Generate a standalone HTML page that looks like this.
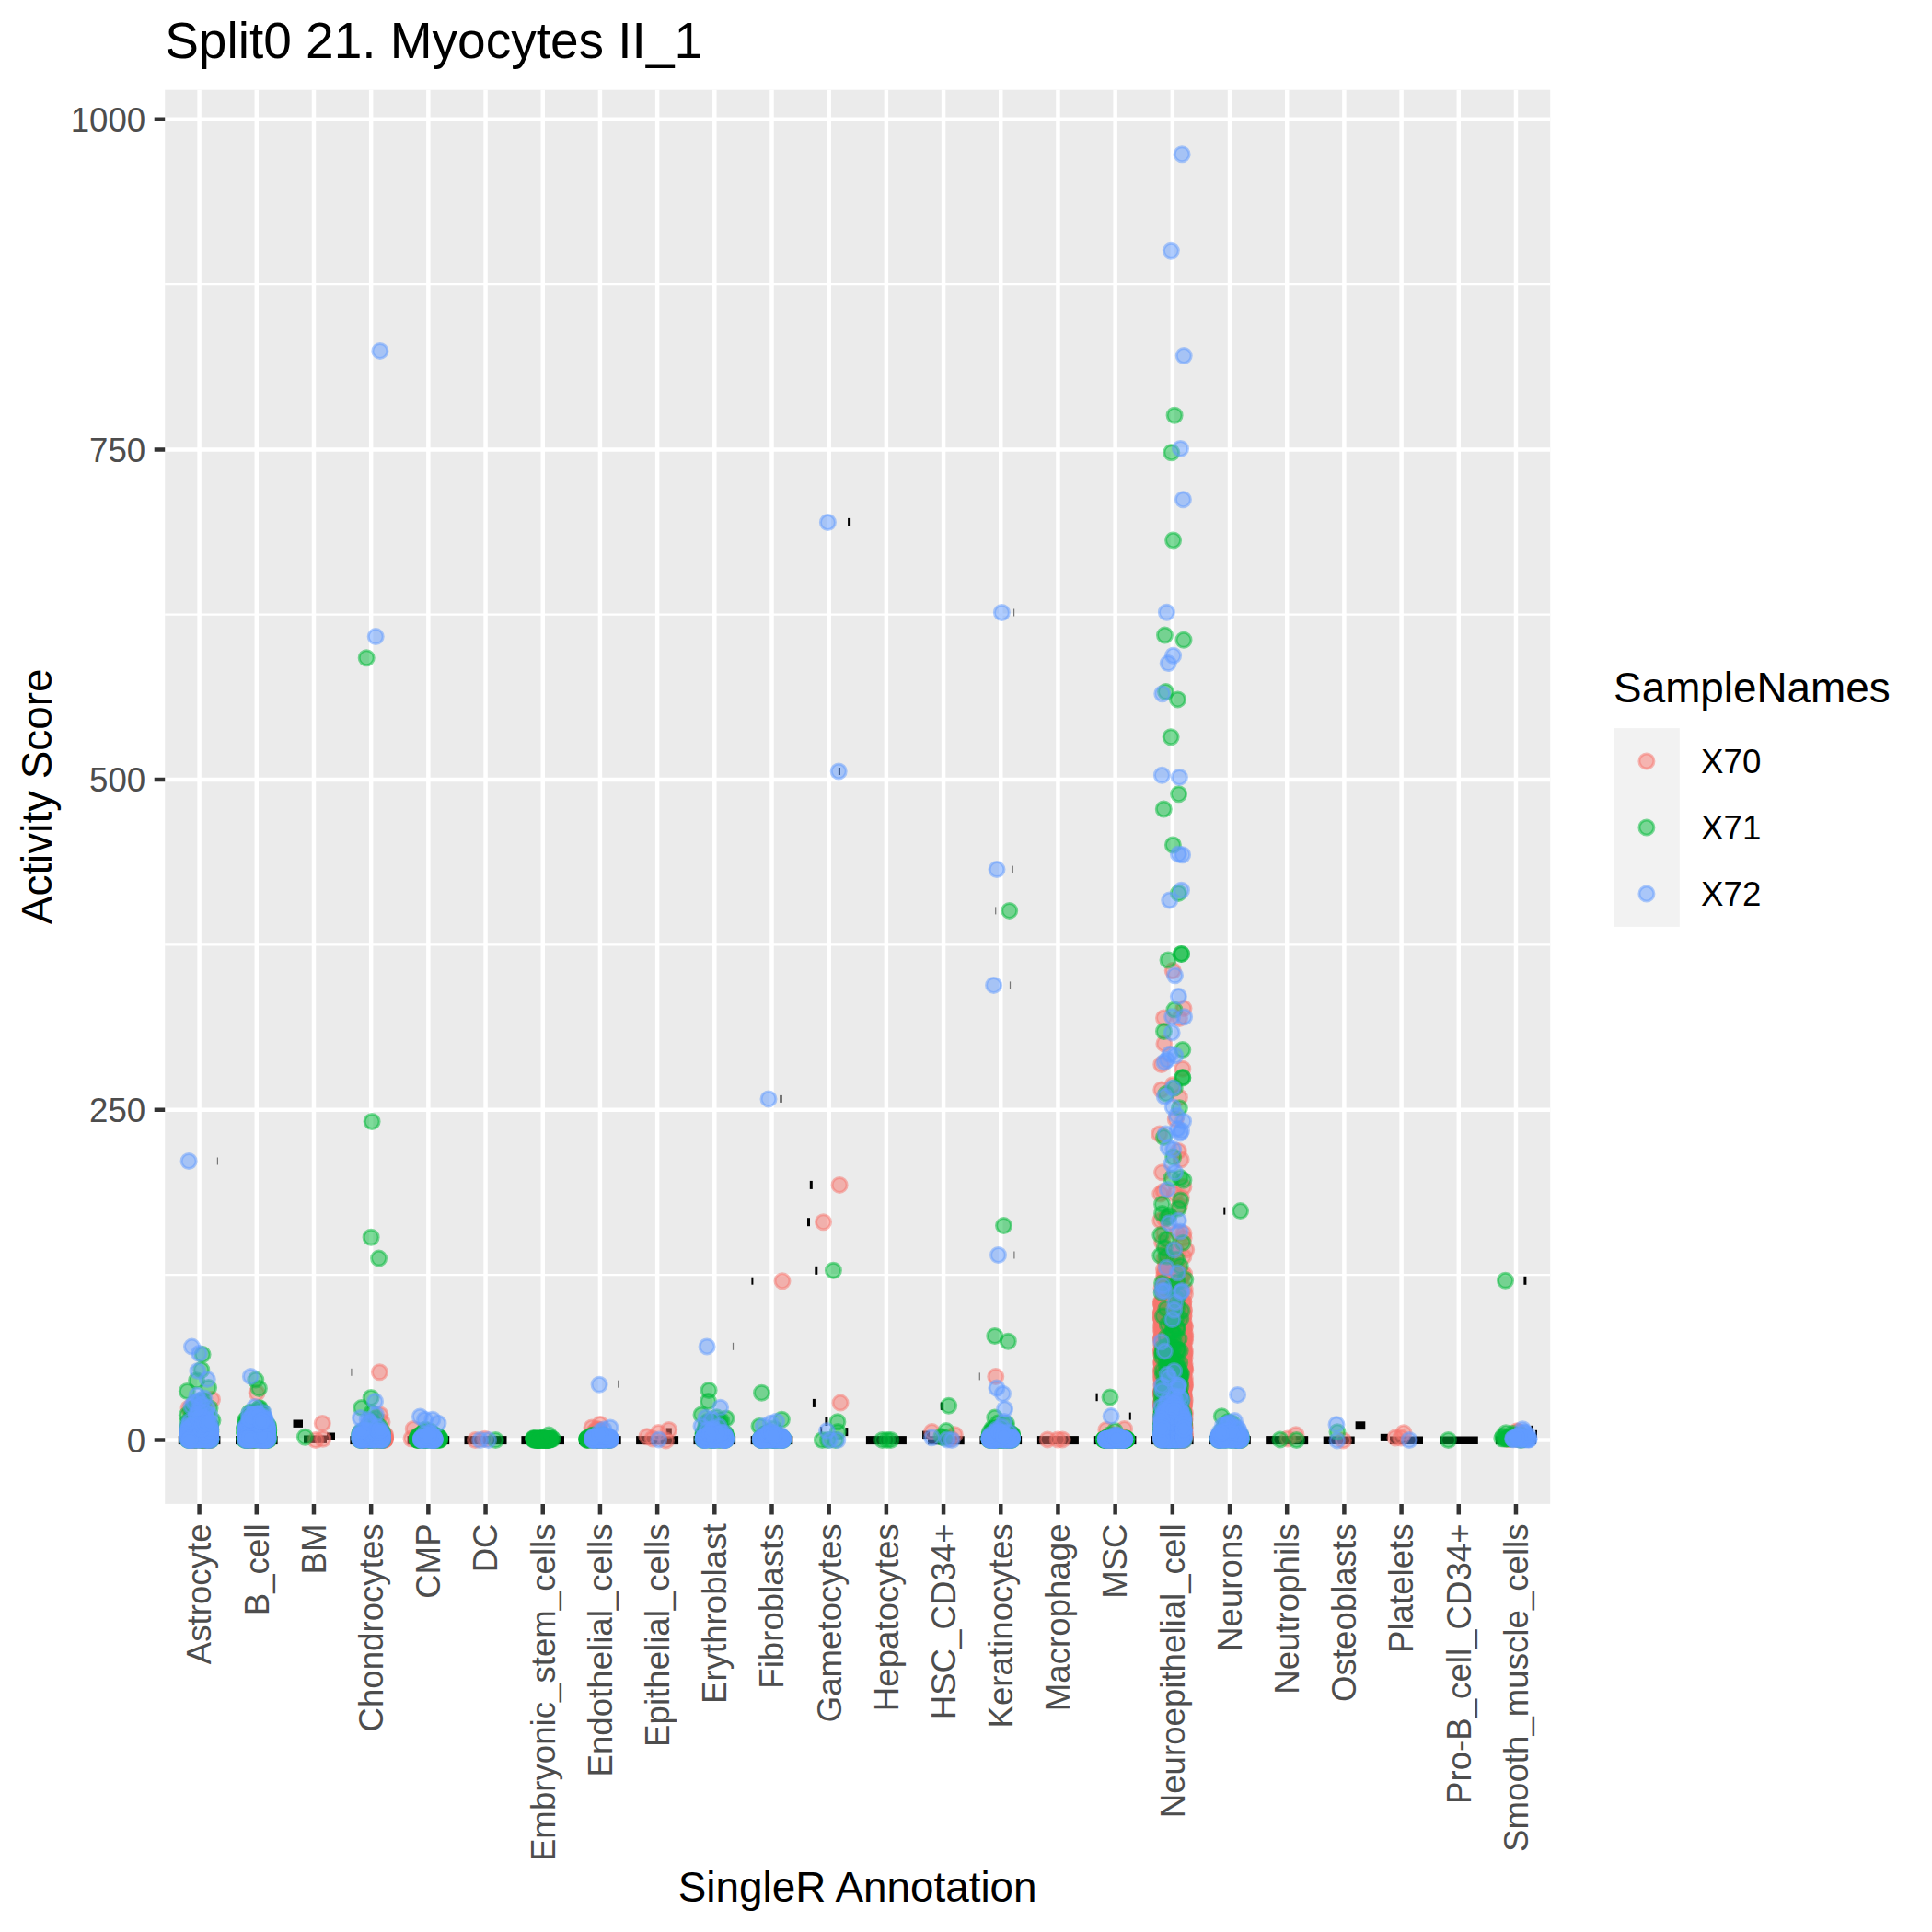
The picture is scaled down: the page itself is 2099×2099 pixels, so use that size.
<!DOCTYPE html>
<html><head><meta charset="utf-8"><title>plot</title><style>html,body{margin:0;padding:0;background:#fff}svg{display:block}text{font-family:"Liberation Sans",sans-serif}</style></head><body>
<svg width="2099" height="2099" viewBox="0 0 2099 2099">
<rect width="2099" height="2099" fill="#fff"/>
<rect x="179.2" y="97.7" width="1505.0" height="1536.2" fill="#EBEBEB"/>
<path d="M179.2 1385.07H1684.2M179.2 1026.40H1684.2M179.2 667.73H1684.2M179.2 309.06H1684.2" stroke="#fff" stroke-width="2.25" fill="none"/>
<path d="M179.2 1564.40H1684.2M179.2 1205.73H1684.2M179.2 847.07H1684.2M179.2 488.40H1684.2M179.2 129.73H1684.2M216.60 97.7V1633.9M278.79 97.7V1633.9M340.98 97.7V1633.9M403.17 97.7V1633.9M465.36 97.7V1633.9M527.55 97.7V1633.9M589.74 97.7V1633.9M651.93 97.7V1633.9M714.12 97.7V1633.9M776.31 97.7V1633.9M838.50 97.7V1633.9M900.69 97.7V1633.9M962.88 97.7V1633.9M1025.07 97.7V1633.9M1087.26 97.7V1633.9M1149.45 97.7V1633.9M1211.64 97.7V1633.9M1273.83 97.7V1633.9M1336.02 97.7V1633.9M1398.21 97.7V1633.9M1460.40 97.7V1633.9M1522.59 97.7V1633.9M1584.78 97.7V1633.9M1646.97 97.7V1633.9" stroke="#fff" stroke-width="4.5" fill="none"/>
<path d="M167.7 1564.40H179.2M167.7 1205.73H179.2M167.7 847.07H179.2M167.7 488.40H179.2M167.7 129.73H179.2M216.60 1633.9v11.5M278.79 1633.9v11.5M340.98 1633.9v11.5M403.17 1633.9v11.5M465.36 1633.9v11.5M527.55 1633.9v11.5M589.74 1633.9v11.5M651.93 1633.9v11.5M714.12 1633.9v11.5M776.31 1633.9v11.5M838.50 1633.9v11.5M900.69 1633.9v11.5M962.88 1633.9v11.5M1025.07 1633.9v11.5M1087.26 1633.9v11.5M1149.45 1633.9v11.5M1211.64 1633.9v11.5M1273.83 1633.9v11.5M1336.02 1633.9v11.5M1398.21 1633.9v11.5M1460.40 1633.9v11.5M1522.59 1633.9v11.5M1584.78 1633.9v11.5M1646.97 1633.9v11.5" stroke="#333" stroke-width="4.5" fill="none"/>
<g fill="#000">
<rect x="318.5" y="1542.5" width="10.5" height="8.4"/>
<rect x="330.0" y="1559.5" width="25.0" height="8.4"/>
<rect x="355.0" y="1556.5" width="9.0" height="8.4"/>
<rect x="504.5" y="1560.1" width="46.0" height="9.0"/>
<rect x="566.4" y="1560.1" width="46.6" height="9.0"/>
<rect x="691.1" y="1560.1" width="46.0" height="9.0"/>
<rect x="723.6" y="1551.5" width="6.2" height="7.2"/>
<rect x="940.9" y="1560.1" width="44.0" height="9.0"/>
<rect x="1002.1" y="1554.6" width="8.0" height="8.5"/>
<rect x="1008.0" y="1560.2" width="39.7" height="9.0"/>
<rect x="1021.8" y="1523.5" width="3.4" height="8.4"/>
<rect x="1126.9" y="1560.1" width="45.0" height="9.0"/>
<rect x="1375.2" y="1560.1" width="46.0" height="9.0"/>
<rect x="1437.7" y="1560.5" width="34.0" height="8.5"/>
<rect x="1472.6" y="1544.3" width="10.7" height="8.9"/>
<rect x="1499.8" y="1557.8" width="8.1" height="8.1"/>
<rect x="1510.0" y="1560.5" width="36.0" height="8.5"/>
<rect x="1564.0" y="1560.5" width="41.8" height="8.5"/>
<rect x="1625.0" y="1560.4" width="44.0" height="8.5"/>
<rect x="193.8" y="1560.1" width="45.6" height="9.0"/>
<rect x="256.0" y="1560.1" width="45.6" height="9.0"/>
<rect x="380.4" y="1560.1" width="45.6" height="9.0"/>
<rect x="442.6" y="1560.1" width="45.6" height="9.0"/>
<rect x="629.1" y="1560.1" width="45.6" height="9.0"/>
<rect x="753.5" y="1560.1" width="45.6" height="9.0"/>
<rect x="815.7" y="1560.1" width="45.6" height="9.0"/>
<rect x="1064.5" y="1560.1" width="45.6" height="9.0"/>
<rect x="1188.8" y="1560.1" width="45.6" height="9.0"/>
<rect x="1251.0" y="1560.1" width="45.6" height="9.0"/>
<rect x="1313.2" y="1560.1" width="45.6" height="9.0"/>
<rect x="921.1" y="562.9" width="3.0" height="9.0"/>
<rect x="879.8" y="1282.9" width="3.0" height="9.0"/>
<rect x="877.0" y="1323.2" width="3.0" height="9.0"/>
<rect x="885.3" y="1375.8" width="3.0" height="9.0"/>
<rect x="882.9" y="1519.9" width="3.0" height="9.0"/>
<rect x="896.4" y="1539.9" width="3.0" height="9.0"/>
<rect x="918.3" y="1551.1" width="3.0" height="9.0"/>
<rect x="1655.4" y="1386.8" width="3.0" height="9.0"/>
<rect x="1190.5" y="1513.7" width="2.2" height="8.5"/>
<rect x="847.5" y="1189.9" width="2.0" height="8.0"/>
<rect x="816.4" y="1387.7" width="2.0" height="8.0"/>
<rect x="910.9" y="834.0" width="2.0" height="8.0"/>
<rect x="1226.8" y="1534.6" width="2.0" height="8.0"/>
<rect x="1329.3" y="1311.6" width="2.0" height="8.0"/>
<rect x="1663.4" y="1548.8" width="2.0" height="8.0"/>
<rect x="1668.0" y="1553.8" width="2.0" height="8.0"/>
<rect x="891.2" y="1550.2" width="2.0" height="8.0"/>
</g>
<g fill="#777">
<rect x="1101.0" y="661.5" width="1.2" height="8"/>
<rect x="1099.7" y="940.6" width="1.2" height="8"/>
<rect x="1081.1" y="985.4" width="1.2" height="8"/>
<rect x="1096.9" y="1066.4" width="1.2" height="8"/>
<rect x="235.8" y="1257.5" width="1.2" height="8"/>
<rect x="671.1" y="1499.7" width="1.2" height="8"/>
<rect x="795.9" y="1458.8" width="1.2" height="8"/>
<rect x="381.3" y="1486.8" width="1.2" height="8"/>
<rect x="1101.3" y="1359.5" width="1.2" height="8"/>
<rect x="1063.7" y="1491.4" width="1.2" height="8"/>
</g>
<clipPath id="cp"><rect x="179.2" y="97.7" width="1505.0" height="1536.2"/></clipPath>
<g clip-path="url(#cp)" stroke-width="3" fill-opacity="0.5" stroke-opacity="0.5">
<g fill="#F8766D" stroke="#F8766D">
<circle cx="1274.2" cy="1054.6" r="8"/><circle cx="1286.0" cy="1095.6" r="8"/><circle cx="1264.5" cy="1106.0" r="8"/><circle cx="1281.4" cy="1106.4" r="8"/><circle cx="1264.9" cy="1133.9" r="8"/><circle cx="1261.8" cy="1156.5" r="8"/><circle cx="1284.8" cy="1161.2" r="8"/><circle cx="1274.2" cy="1178.8" r="8"/><circle cx="1261.8" cy="1184.0" r="8"/><circle cx="1281.4" cy="1192.3" r="8"/><circle cx="1277.3" cy="1216.1" r="8"/><circle cx="1259.8" cy="1231.9" r="8"/><circle cx="1280.3" cy="1250.5" r="8"/><circle cx="1283.1" cy="1259.8" r="8"/><circle cx="1262.6" cy="1273.8" r="8"/><circle cx="1285.9" cy="1289.6" r="8"/><circle cx="1260.8" cy="1297.1" r="8"/><circle cx="1281.3" cy="1310.1" r="8"/><circle cx="1260.8" cy="1326.0" r="8"/><circle cx="1285.9" cy="1340.0" r="8"/><circle cx="1288.7" cy="1357.7" r="8"/><circle cx="1285.9" cy="1365.1" r="8"/><circle cx="1264.5" cy="1379.1" r="8"/><circle cx="1265.4" cy="1541.9" r="8"/><circle cx="1263.3" cy="1504.0" r="8"/><circle cx="1271.1" cy="1520.3" r="8"/><circle cx="1274.8" cy="1561.0" r="8"/><circle cx="1272.9" cy="1562.2" r="8"/><circle cx="1263.8" cy="1560.2" r="8"/><circle cx="1283.3" cy="1532.7" r="8"/><circle cx="1267.3" cy="1556.8" r="8"/><circle cx="1286.4" cy="1507.7" r="8"/><circle cx="1271.9" cy="1515.0" r="8"/><circle cx="1262.7" cy="1349.8" r="8"/><circle cx="1269.1" cy="1452.2" r="8"/><circle cx="1264.5" cy="1555.5" r="8"/><circle cx="1283.0" cy="1543.2" r="8"/><circle cx="1276.8" cy="1553.0" r="8"/><circle cx="1271.3" cy="1505.9" r="8"/><circle cx="1263.1" cy="1518.9" r="8"/><circle cx="1266.9" cy="1560.9" r="8"/><circle cx="1272.7" cy="1498.9" r="8"/><circle cx="1276.9" cy="1542.8" r="8"/><circle cx="1269.3" cy="1529.8" r="8"/><circle cx="1279.9" cy="1473.6" r="8"/><circle cx="1276.6" cy="1548.3" r="8"/><circle cx="1284.5" cy="1521.7" r="8"/><circle cx="1269.0" cy="1489.4" r="8"/><circle cx="1264.5" cy="1339.4" r="8"/><circle cx="1281.4" cy="1533.3" r="8"/><circle cx="1274.3" cy="1554.9" r="8"/><circle cx="1279.1" cy="1562.1" r="8"/><circle cx="1276.6" cy="1481.4" r="8"/><circle cx="1269.7" cy="1444.8" r="8"/><circle cx="1277.1" cy="1496.2" r="8"/><circle cx="1273.5" cy="1514.6" r="8"/><circle cx="1286.4" cy="1459.2" r="8"/><circle cx="1279.0" cy="1527.5" r="8"/><circle cx="1279.9" cy="1560.8" r="8"/><circle cx="1287.6" cy="1504.6" r="8"/><circle cx="1268.9" cy="1465.4" r="8"/><circle cx="1279.1" cy="1536.4" r="8"/><circle cx="1273.6" cy="1563.1" r="8"/><circle cx="1264.5" cy="1553.8" r="8"/><circle cx="1281.7" cy="1560.9" r="8"/><circle cx="1268.0" cy="1556.5" r="8"/><circle cx="1284.4" cy="1535.9" r="8"/><circle cx="1273.3" cy="1559.6" r="8"/><circle cx="1284.8" cy="1518.6" r="8"/><circle cx="1284.2" cy="1466.2" r="8"/><circle cx="1272.4" cy="1545.7" r="8"/><circle cx="1284.8" cy="1538.9" r="8"/><circle cx="1265.4" cy="1382.8" r="8"/><circle cx="1267.6" cy="1553.3" r="8"/><circle cx="1274.2" cy="1549.2" r="8"/><circle cx="1268.4" cy="1513.4" r="8"/><circle cx="1272.5" cy="1564.2" r="8"/><circle cx="1276.4" cy="1538.0" r="8"/><circle cx="1279.7" cy="1388.8" r="8"/><circle cx="1277.7" cy="1522.8" r="8"/><circle cx="1262.9" cy="1499.7" r="8"/><circle cx="1282.0" cy="1432.5" r="8"/><circle cx="1282.5" cy="1445.3" r="8"/><circle cx="1272.0" cy="1535.8" r="8"/><circle cx="1278.2" cy="1558.1" r="8"/><circle cx="1263.2" cy="1560.7" r="8"/><circle cx="1265.7" cy="1551.0" r="8"/><circle cx="1262.8" cy="1540.6" r="8"/><circle cx="1265.4" cy="1564.4" r="8"/><circle cx="1271.0" cy="1558.3" r="8"/><circle cx="1284.5" cy="1562.9" r="8"/><circle cx="1265.4" cy="1509.8" r="8"/><circle cx="1270.6" cy="1547.7" r="8"/><circle cx="1264.7" cy="1538.4" r="8"/><circle cx="1287.6" cy="1455.9" r="8"/><circle cx="1274.2" cy="1528.4" r="8"/><circle cx="1264.1" cy="1559.2" r="8"/><circle cx="1268.4" cy="1540.3" r="8"/><circle cx="1265.7" cy="1463.1" r="8"/><circle cx="1286.5" cy="1563.1" r="8"/><circle cx="1265.3" cy="1521.3" r="8"/><circle cx="1262.1" cy="1519.4" r="8"/><circle cx="1287.3" cy="1521.3" r="8"/><circle cx="1279.8" cy="1450.2" r="8"/><circle cx="1271.1" cy="1547.0" r="8"/><circle cx="1281.8" cy="1553.9" r="8"/><circle cx="1282.0" cy="1520.8" r="8"/><circle cx="1267.3" cy="1541.4" r="8"/><circle cx="1287.4" cy="1468.6" r="8"/><circle cx="1282.7" cy="1454.5" r="8"/><circle cx="1281.0" cy="1466.5" r="8"/><circle cx="1275.1" cy="1549.6" r="8"/><circle cx="1262.2" cy="1539.2" r="8"/><circle cx="1268.8" cy="1562.8" r="8"/><circle cx="1279.7" cy="1547.2" r="8"/><circle cx="1273.2" cy="1384.5" r="8"/><circle cx="1287.5" cy="1405.7" r="8"/><circle cx="1271.1" cy="1386.4" r="8"/><circle cx="1267.4" cy="1550.1" r="8"/><circle cx="1266.8" cy="1551.8" r="8"/><circle cx="1285.2" cy="1508.3" r="8"/><circle cx="1274.1" cy="1459.1" r="8"/><circle cx="1282.5" cy="1503.7" r="8"/><circle cx="1278.9" cy="1559.3" r="8"/><circle cx="1282.1" cy="1426.4" r="8"/><circle cx="1274.1" cy="1484.8" r="8"/><circle cx="1282.3" cy="1553.1" r="8"/><circle cx="1282.6" cy="1541.2" r="8"/><circle cx="1271.9" cy="1359.9" r="8"/><circle cx="1286.4" cy="1535.0" r="8"/><circle cx="1265.9" cy="1490.4" r="8"/><circle cx="1265.4" cy="1556.6" r="8"/><circle cx="1282.7" cy="1429.4" r="8"/><circle cx="1283.2" cy="1555.3" r="8"/><circle cx="1278.8" cy="1339.0" r="8"/><circle cx="1275.9" cy="1539.6" r="8"/><circle cx="1261.8" cy="1556.3" r="8"/><circle cx="1278.6" cy="1361.4" r="8"/><circle cx="1286.1" cy="1521.5" r="8"/><circle cx="1284.4" cy="1531.8" r="8"/><circle cx="1267.0" cy="1464.0" r="8"/><circle cx="1269.2" cy="1547.8" r="8"/><circle cx="1276.9" cy="1548.6" r="8"/><circle cx="1272.5" cy="1547.2" r="8"/><circle cx="1285.5" cy="1556.3" r="8"/><circle cx="1273.5" cy="1539.3" r="8"/><circle cx="1285.3" cy="1514.2" r="8"/><circle cx="1285.7" cy="1533.1" r="8"/><circle cx="1275.5" cy="1524.4" r="8"/><circle cx="1261.9" cy="1521.9" r="8"/><circle cx="1266.3" cy="1531.1" r="8"/><circle cx="1282.5" cy="1564.2" r="8"/><circle cx="1273.9" cy="1553.5" r="8"/><circle cx="1276.1" cy="1490.3" r="8"/><circle cx="1275.1" cy="1541.8" r="8"/><circle cx="1282.1" cy="1517.9" r="8"/><circle cx="1276.2" cy="1558.0" r="8"/><circle cx="1268.7" cy="1548.0" r="8"/><circle cx="1274.8" cy="1479.5" r="8"/><circle cx="1281.5" cy="1517.1" r="8"/><circle cx="1273.1" cy="1424.6" r="8"/><circle cx="1274.8" cy="1510.0" r="8"/><circle cx="1279.7" cy="1523.2" r="8"/><circle cx="1275.5" cy="1529.8" r="8"/><circle cx="1286.3" cy="1527.1" r="8"/><circle cx="1284.6" cy="1495.5" r="8"/><circle cx="1268.3" cy="1400.8" r="8"/><circle cx="1286.3" cy="1517.3" r="8"/><circle cx="1265.1" cy="1459.2" r="8"/><circle cx="1273.1" cy="1557.0" r="8"/><circle cx="1267.8" cy="1560.1" r="8"/><circle cx="1279.1" cy="1560.0" r="8"/><circle cx="1285.1" cy="1476.5" r="8"/><circle cx="1280.3" cy="1554.8" r="8"/><circle cx="1265.2" cy="1502.4" r="8"/><circle cx="1287.0" cy="1441.4" r="8"/><circle cx="1286.6" cy="1550.2" r="8"/><circle cx="1274.3" cy="1535.3" r="8"/><circle cx="1283.4" cy="1300.9" r="8"/><circle cx="1272.8" cy="1554.3" r="8"/><circle cx="1270.4" cy="1522.8" r="8"/><circle cx="1269.8" cy="1551.9" r="8"/><circle cx="1261.9" cy="1490.9" r="8"/><circle cx="1273.1" cy="1518.1" r="8"/><circle cx="1270.2" cy="1563.4" r="8"/><circle cx="1275.0" cy="1508.3" r="8"/><circle cx="1287.4" cy="1560.6" r="8"/><circle cx="1287.1" cy="1475.3" r="8"/><circle cx="1268.4" cy="1558.0" r="8"/><circle cx="1282.0" cy="1562.1" r="8"/><circle cx="1264.9" cy="1546.3" r="8"/><circle cx="1285.5" cy="1532.9" r="8"/><circle cx="1268.3" cy="1466.3" r="8"/><circle cx="1285.7" cy="1555.1" r="8"/><circle cx="1279.9" cy="1515.9" r="8"/><circle cx="1262.9" cy="1559.0" r="8"/><circle cx="1272.7" cy="1497.5" r="8"/><circle cx="1286.2" cy="1560.1" r="8"/><circle cx="1282.6" cy="1506.7" r="8"/><circle cx="1284.0" cy="1559.4" r="8"/><circle cx="1284.2" cy="1560.4" r="8"/><circle cx="1270.4" cy="1529.7" r="8"/><circle cx="1285.9" cy="1518.2" r="8"/><circle cx="1264.8" cy="1546.5" r="8"/><circle cx="1267.7" cy="1521.4" r="8"/><circle cx="1265.7" cy="1557.7" r="8"/><circle cx="1266.8" cy="1561.4" r="8"/><circle cx="1269.5" cy="1542.9" r="8"/><circle cx="1269.1" cy="1482.6" r="8"/><circle cx="1266.1" cy="1524.6" r="8"/><circle cx="1261.9" cy="1539.9" r="8"/><circle cx="1261.8" cy="1547.9" r="8"/><circle cx="1276.0" cy="1488.6" r="8"/><circle cx="1274.0" cy="1552.3" r="8"/><circle cx="1264.2" cy="1407.9" r="8"/><circle cx="1272.8" cy="1466.3" r="8"/><circle cx="1283.5" cy="1525.2" r="8"/><circle cx="1274.8" cy="1535.7" r="8"/><circle cx="1287.4" cy="1497.6" r="8"/><circle cx="1283.4" cy="1540.3" r="8"/><circle cx="1278.2" cy="1494.0" r="8"/><circle cx="1270.6" cy="1534.6" r="8"/><circle cx="1264.9" cy="1561.2" r="8"/><circle cx="1281.0" cy="1560.2" r="8"/><circle cx="1265.7" cy="1547.5" r="8"/><circle cx="1283.6" cy="1559.3" r="8"/><circle cx="1279.1" cy="1447.1" r="8"/><circle cx="1267.8" cy="1545.4" r="8"/><circle cx="1273.6" cy="1544.5" r="8"/><circle cx="1273.2" cy="1554.6" r="8"/><circle cx="1286.8" cy="1546.9" r="8"/><circle cx="1275.9" cy="1357.9" r="8"/><circle cx="1286.9" cy="1548.3" r="8"/><circle cx="1270.8" cy="1543.1" r="8"/><circle cx="1271.5" cy="1564.3" r="8"/><circle cx="1274.7" cy="1527.5" r="8"/><circle cx="1274.8" cy="1551.5" r="8"/><circle cx="1268.4" cy="1564.1" r="8"/><circle cx="1272.0" cy="1559.0" r="8"/><circle cx="1262.0" cy="1562.0" r="8"/><circle cx="1267.6" cy="1543.6" r="8"/><circle cx="1275.4" cy="1513.8" r="8"/><circle cx="1278.8" cy="1484.7" r="8"/><circle cx="1284.6" cy="1492.2" r="8"/><circle cx="1270.0" cy="1536.1" r="8"/><circle cx="1265.4" cy="1324.4" r="8"/><circle cx="1278.4" cy="1490.5" r="8"/><circle cx="1283.5" cy="1561.8" r="8"/><circle cx="1278.0" cy="1436.7" r="8"/><circle cx="1282.9" cy="1488.4" r="8"/><circle cx="1275.3" cy="1555.8" r="8"/><circle cx="1283.5" cy="1524.1" r="8"/><circle cx="1283.2" cy="1470.7" r="8"/><circle cx="1285.0" cy="1514.1" r="8"/><circle cx="1279.7" cy="1498.5" r="8"/><circle cx="1262.3" cy="1549.4" r="8"/><circle cx="1271.0" cy="1556.2" r="8"/><circle cx="1283.5" cy="1558.0" r="8"/><circle cx="1278.0" cy="1517.5" r="8"/><circle cx="1279.4" cy="1507.9" r="8"/><circle cx="1261.5" cy="1525.8" r="8"/><circle cx="1281.2" cy="1472.7" r="8"/><circle cx="1275.6" cy="1524.3" r="8"/><circle cx="1263.2" cy="1502.6" r="8"/><circle cx="1268.1" cy="1487.8" r="8"/><circle cx="1268.4" cy="1560.0" r="8"/><circle cx="1266.8" cy="1489.4" r="8"/><circle cx="1287.2" cy="1487.1" r="8"/><circle cx="1271.5" cy="1525.3" r="8"/><circle cx="1279.5" cy="1527.0" r="8"/><circle cx="1277.7" cy="1480.8" r="8"/><circle cx="1263.5" cy="1505.3" r="8"/><circle cx="1268.1" cy="1555.2" r="8"/><circle cx="1269.5" cy="1486.4" r="8"/><circle cx="1261.8" cy="1516.3" r="8"/><circle cx="1268.5" cy="1560.8" r="8"/><circle cx="1279.7" cy="1500.4" r="8"/><circle cx="1269.1" cy="1499.8" r="8"/><circle cx="1273.7" cy="1522.7" r="8"/><circle cx="1264.6" cy="1528.4" r="8"/><circle cx="1266.7" cy="1435.8" r="8"/><circle cx="1286.1" cy="1345.0" r="8"/><circle cx="1273.5" cy="1563.4" r="8"/><circle cx="1287.0" cy="1466.0" r="8"/><circle cx="1268.5" cy="1530.1" r="8"/><circle cx="1286.4" cy="1550.9" r="8"/><circle cx="1276.8" cy="1550.8" r="8"/><circle cx="1275.3" cy="1555.6" r="8"/><circle cx="1264.9" cy="1389.2" r="8"/><circle cx="1274.9" cy="1465.9" r="8"/><circle cx="1280.0" cy="1439.3" r="8"/><circle cx="1285.1" cy="1549.3" r="8"/><circle cx="1262.1" cy="1526.2" r="8"/><circle cx="1274.4" cy="1564.2" r="8"/><circle cx="1269.4" cy="1530.0" r="8"/><circle cx="1270.5" cy="1555.7" r="8"/><circle cx="1283.6" cy="1542.6" r="8"/><circle cx="1281.2" cy="1564.3" r="8"/><circle cx="1264.6" cy="1459.6" r="8"/><circle cx="1280.3" cy="1414.7" r="8"/><circle cx="1269.1" cy="1431.4" r="8"/><circle cx="1271.8" cy="1537.7" r="8"/><circle cx="1271.0" cy="1376.7" r="8"/><circle cx="1268.7" cy="1532.3" r="8"/><circle cx="1264.1" cy="1561.6" r="8"/><circle cx="1269.0" cy="1461.1" r="8"/><circle cx="1268.0" cy="1407.0" r="8"/><circle cx="1274.9" cy="1546.7" r="8"/><circle cx="1271.3" cy="1552.3" r="8"/><circle cx="1284.8" cy="1384.9" r="8"/><circle cx="1278.1" cy="1468.5" r="8"/><circle cx="1286.3" cy="1424.0" r="8"/><circle cx="1280.4" cy="1518.7" r="8"/><circle cx="1280.8" cy="1561.5" r="8"/><circle cx="1281.3" cy="1530.0" r="8"/><circle cx="1269.0" cy="1505.1" r="8"/><circle cx="1285.9" cy="1561.5" r="8"/><circle cx="1273.9" cy="1556.6" r="8"/><circle cx="1269.3" cy="1540.2" r="8"/><circle cx="1287.2" cy="1487.3" r="8"/><circle cx="1278.7" cy="1547.1" r="8"/><circle cx="1276.1" cy="1543.9" r="8"/><circle cx="1265.8" cy="1535.6" r="8"/><circle cx="1266.9" cy="1554.3" r="8"/><circle cx="1274.6" cy="1428.7" r="8"/><circle cx="1285.4" cy="1550.1" r="8"/><circle cx="1265.1" cy="1421.1" r="8"/><circle cx="1263.8" cy="1552.1" r="8"/><circle cx="1263.8" cy="1540.4" r="8"/><circle cx="1268.3" cy="1548.7" r="8"/><circle cx="1284.9" cy="1516.0" r="8"/><circle cx="1272.3" cy="1484.9" r="8"/><circle cx="1275.3" cy="1533.7" r="8"/><circle cx="1270.4" cy="1537.3" r="8"/><circle cx="1268.8" cy="1560.7" r="8"/><circle cx="1264.8" cy="1367.4" r="8"/><circle cx="1278.1" cy="1524.2" r="8"/><circle cx="1267.1" cy="1450.4" r="8"/><circle cx="1268.0" cy="1546.3" r="8"/><circle cx="1273.2" cy="1535.1" r="8"/><circle cx="1283.8" cy="1387.8" r="8"/><circle cx="1262.0" cy="1446.0" r="8"/><circle cx="1280.2" cy="1562.5" r="8"/><circle cx="1273.9" cy="1434.7" r="8"/><circle cx="1261.4" cy="1513.6" r="8"/><circle cx="1285.9" cy="1535.9" r="8"/><circle cx="1284.0" cy="1464.2" r="8"/><circle cx="1268.0" cy="1358.7" r="8"/><circle cx="1265.5" cy="1557.8" r="8"/><circle cx="1279.4" cy="1522.0" r="8"/><circle cx="1280.5" cy="1401.5" r="8"/><circle cx="1281.6" cy="1504.6" r="8"/><circle cx="1276.0" cy="1529.3" r="8"/><circle cx="1282.1" cy="1562.1" r="8"/><circle cx="1285.7" cy="1549.2" r="8"/><circle cx="1269.4" cy="1504.9" r="8"/><circle cx="1268.1" cy="1556.5" r="8"/><circle cx="1279.9" cy="1506.4" r="8"/><circle cx="1263.3" cy="1557.6" r="8"/><circle cx="1276.8" cy="1521.7" r="8"/><circle cx="1267.3" cy="1536.2" r="8"/><circle cx="1261.7" cy="1511.7" r="8"/><circle cx="1273.6" cy="1543.8" r="8"/><circle cx="1278.4" cy="1381.2" r="8"/><circle cx="1274.0" cy="1440.9" r="8"/><circle cx="1268.0" cy="1549.0" r="8"/><circle cx="1280.0" cy="1378.8" r="8"/><circle cx="1262.0" cy="1543.3" r="8"/><circle cx="1279.2" cy="1524.8" r="8"/><circle cx="1268.2" cy="1533.1" r="8"/><circle cx="1285.9" cy="1501.2" r="8"/><circle cx="1262.3" cy="1549.6" r="8"/><circle cx="1272.5" cy="1540.7" r="8"/><circle cx="1266.7" cy="1498.5" r="8"/><circle cx="1280.9" cy="1472.9" r="8"/><circle cx="1266.8" cy="1524.1" r="8"/><circle cx="1269.7" cy="1363.4" r="8"/><circle cx="1267.5" cy="1466.0" r="8"/><circle cx="1281.5" cy="1550.0" r="8"/><circle cx="1286.6" cy="1544.3" r="8"/><circle cx="1266.4" cy="1525.1" r="8"/><circle cx="1272.4" cy="1549.9" r="8"/><circle cx="1286.5" cy="1501.6" r="8"/><circle cx="1271.8" cy="1555.3" r="8"/><circle cx="1287.1" cy="1550.7" r="8"/><circle cx="1262.8" cy="1555.6" r="8"/><circle cx="1271.8" cy="1560.8" r="8"/><circle cx="1284.8" cy="1433.3" r="8"/><circle cx="1287.8" cy="1488.7" r="8"/><circle cx="1270.1" cy="1410.5" r="8"/><circle cx="1286.1" cy="1552.6" r="8"/><circle cx="1262.3" cy="1485.7" r="8"/><circle cx="1271.4" cy="1501.7" r="8"/><circle cx="1270.2" cy="1537.5" r="8"/><circle cx="1261.5" cy="1553.8" r="8"/><circle cx="1270.7" cy="1545.6" r="8"/><circle cx="1264.7" cy="1385.8" r="8"/><circle cx="1266.9" cy="1373.2" r="8"/><circle cx="1283.1" cy="1539.1" r="8"/><circle cx="1272.8" cy="1465.3" r="8"/><circle cx="1273.9" cy="1561.5" r="8"/><circle cx="1285.7" cy="1537.6" r="8"/><circle cx="1271.0" cy="1552.1" r="8"/><circle cx="1262.2" cy="1434.0" r="8"/><circle cx="1282.9" cy="1534.0" r="8"/><circle cx="1262.5" cy="1480.9" r="8"/><circle cx="1263.1" cy="1562.4" r="8"/><circle cx="1268.2" cy="1419.4" r="8"/><circle cx="1285.2" cy="1485.5" r="8"/><circle cx="1268.6" cy="1540.6" r="8"/><circle cx="1277.7" cy="1382.9" r="8"/><circle cx="1280.3" cy="1547.0" r="8"/><circle cx="1268.7" cy="1542.6" r="8"/><circle cx="1281.4" cy="1564.2" r="8"/><circle cx="1278.2" cy="1421.9" r="8"/><circle cx="1262.1" cy="1399.8" r="8"/><circle cx="1274.0" cy="1549.1" r="8"/><circle cx="1286.6" cy="1384.1" r="8"/><circle cx="1268.1" cy="1536.4" r="8"/><circle cx="1274.5" cy="1532.1" r="8"/><circle cx="1266.3" cy="1413.3" r="8"/><circle cx="1280.9" cy="1471.3" r="8"/><circle cx="1281.8" cy="1465.1" r="8"/><circle cx="1270.1" cy="1510.8" r="8"/><circle cx="1271.0" cy="1542.3" r="8"/><circle cx="1263.5" cy="1476.9" r="8"/><circle cx="1281.3" cy="1551.8" r="8"/><circle cx="1263.1" cy="1548.1" r="8"/><circle cx="1276.0" cy="1562.4" r="8"/><circle cx="1287.3" cy="1541.8" r="8"/><circle cx="1287.5" cy="1441.0" r="8"/><circle cx="1263.6" cy="1546.7" r="8"/><circle cx="1274.6" cy="1558.6" r="8"/><circle cx="1273.2" cy="1493.4" r="8"/><circle cx="1272.4" cy="1549.1" r="8"/><circle cx="1279.2" cy="1508.8" r="8"/><circle cx="1283.8" cy="1485.3" r="8"/><circle cx="1264.6" cy="1501.7" r="8"/><circle cx="1269.2" cy="1458.9" r="8"/><circle cx="1271.3" cy="1516.4" r="8"/><circle cx="1266.7" cy="1487.5" r="8"/><circle cx="1267.9" cy="1548.1" r="8"/><circle cx="1284.8" cy="1554.8" r="8"/><circle cx="1270.0" cy="1514.9" r="8"/><circle cx="1287.6" cy="1535.5" r="8"/><circle cx="1267.5" cy="1523.8" r="8"/><circle cx="1278.7" cy="1469.6" r="8"/><circle cx="1264.1" cy="1294.4" r="8"/><circle cx="1283.1" cy="1527.4" r="8"/><circle cx="1285.6" cy="1459.0" r="8"/><circle cx="1269.2" cy="1562.0" r="8"/><circle cx="1266.4" cy="1557.1" r="8"/><circle cx="1276.8" cy="1357.2" r="8"/><circle cx="1271.3" cy="1411.7" r="8"/><circle cx="1273.3" cy="1449.0" r="8"/><circle cx="1282.0" cy="1547.1" r="8"/><circle cx="1264.2" cy="1397.2" r="8"/><circle cx="1277.8" cy="1512.4" r="8"/><circle cx="1271.2" cy="1550.3" r="8"/><circle cx="1266.8" cy="1555.7" r="8"/><circle cx="1277.3" cy="1547.5" r="8"/><circle cx="1266.8" cy="1503.9" r="8"/><circle cx="1270.1" cy="1563.7" r="8"/><circle cx="1266.3" cy="1499.3" r="8"/><circle cx="1266.8" cy="1542.9" r="8"/><circle cx="1275.9" cy="1473.4" r="8"/><circle cx="1264.1" cy="1560.6" r="8"/><circle cx="1276.0" cy="1535.5" r="8"/><circle cx="1263.8" cy="1505.9" r="8"/><circle cx="1279.8" cy="1554.1" r="8"/><circle cx="1268.9" cy="1534.1" r="8"/><circle cx="1286.6" cy="1543.3" r="8"/><circle cx="1276.4" cy="1542.9" r="8"/><circle cx="1272.4" cy="1539.0" r="8"/><circle cx="1287.7" cy="1449.8" r="8"/><circle cx="1266.6" cy="1538.4" r="8"/><circle cx="1266.8" cy="1489.7" r="8"/><circle cx="1285.2" cy="1564.1" r="8"/><circle cx="1283.1" cy="1532.8" r="8"/><circle cx="1284.7" cy="1534.5" r="8"/><circle cx="1265.7" cy="1528.9" r="8"/><circle cx="1276.0" cy="1563.5" r="8"/><circle cx="1285.4" cy="1505.7" r="8"/><circle cx="1277.9" cy="1559.0" r="8"/><circle cx="1274.7" cy="1537.8" r="8"/><circle cx="1268.9" cy="1555.4" r="8"/><circle cx="1285.9" cy="1522.1" r="8"/><circle cx="1274.4" cy="1557.8" r="8"/><circle cx="1287.0" cy="1470.6" r="8"/><circle cx="1264.8" cy="1551.8" r="8"/><circle cx="1287.2" cy="1399.9" r="8"/><circle cx="1262.8" cy="1526.6" r="8"/><circle cx="1271.7" cy="1414.9" r="8"/><circle cx="1277.8" cy="1429.8" r="8"/><circle cx="1265.7" cy="1464.5" r="8"/><circle cx="1267.3" cy="1476.0" r="8"/><circle cx="1283.8" cy="1534.7" r="8"/><circle cx="1266.3" cy="1463.0" r="8"/><circle cx="1272.0" cy="1550.3" r="8"/><circle cx="1271.6" cy="1522.5" r="8"/><circle cx="1268.0" cy="1556.9" r="8"/><circle cx="1285.1" cy="1490.3" r="8"/><circle cx="1276.3" cy="1562.0" r="8"/><circle cx="1262.4" cy="1483.1" r="8"/><circle cx="1264.5" cy="1459.9" r="8"/><circle cx="1276.0" cy="1511.9" r="8"/><circle cx="1269.5" cy="1507.8" r="8"/><circle cx="1276.8" cy="1533.1" r="8"/><circle cx="1278.8" cy="1532.6" r="8"/><circle cx="1273.0" cy="1530.4" r="8"/><circle cx="1277.8" cy="1563.0" r="8"/><circle cx="1267.6" cy="1525.8" r="8"/><circle cx="1282.0" cy="1481.6" r="8"/><circle cx="1266.2" cy="1529.2" r="8"/><circle cx="1264.3" cy="1527.6" r="8"/><circle cx="1272.8" cy="1556.5" r="8"/><circle cx="1273.1" cy="1558.9" r="8"/><circle cx="1262.5" cy="1523.4" r="8"/><circle cx="1263.6" cy="1506.3" r="8"/><circle cx="1282.0" cy="1488.5" r="8"/><circle cx="1262.9" cy="1523.3" r="8"/><circle cx="1271.4" cy="1524.2" r="8"/><circle cx="1265.0" cy="1391.5" r="8"/><circle cx="1287.7" cy="1452.8" r="8"/><circle cx="1282.9" cy="1488.8" r="8"/><circle cx="1287.3" cy="1552.0" r="8"/><circle cx="1286.7" cy="1525.5" r="8"/><circle cx="1265.8" cy="1422.2" r="8"/><circle cx="1286.0" cy="1475.3" r="8"/><circle cx="1270.7" cy="1560.5" r="8"/><circle cx="1265.6" cy="1483.4" r="8"/><circle cx="1268.7" cy="1434.2" r="8"/><circle cx="1265.2" cy="1467.4" r="8"/><circle cx="1285.7" cy="1524.4" r="8"/><circle cx="1268.4" cy="1551.0" r="8"/><circle cx="1269.9" cy="1523.9" r="8"/><circle cx="1266.2" cy="1562.2" r="8"/><circle cx="1286.2" cy="1554.3" r="8"/><circle cx="1285.1" cy="1499.1" r="8"/><circle cx="1282.2" cy="1553.8" r="8"/><circle cx="1275.4" cy="1557.4" r="8"/><circle cx="1270.9" cy="1506.4" r="8"/><circle cx="1276.1" cy="1446.0" r="8"/><circle cx="1284.7" cy="1514.6" r="8"/><circle cx="1287.6" cy="1558.1" r="8"/><circle cx="1271.8" cy="1507.4" r="8"/><circle cx="1268.4" cy="1472.7" r="8"/><circle cx="1276.7" cy="1297.2" r="8"/><circle cx="1281.6" cy="1538.8" r="8"/><circle cx="1266.1" cy="1530.9" r="8"/><circle cx="1262.7" cy="1486.3" r="8"/><circle cx="1268.1" cy="1466.0" r="8"/><circle cx="1287.4" cy="1505.9" r="8"/><circle cx="1279.0" cy="1513.8" r="8"/><circle cx="1261.5" cy="1542.9" r="8"/><circle cx="1265.4" cy="1562.4" r="8"/><circle cx="1272.8" cy="1509.5" r="8"/><circle cx="1285.1" cy="1523.1" r="8"/><circle cx="1267.4" cy="1556.3" r="8"/><circle cx="1262.0" cy="1503.6" r="8"/><circle cx="1270.8" cy="1564.2" r="8"/><circle cx="1270.9" cy="1557.9" r="8"/><circle cx="1276.8" cy="1549.8" r="8"/><circle cx="1266.8" cy="1513.4" r="8"/><circle cx="1274.0" cy="1508.3" r="8"/><circle cx="1286.2" cy="1556.1" r="8"/><circle cx="1265.4" cy="1548.4" r="8"/><circle cx="1278.3" cy="1558.6" r="8"/><circle cx="1282.1" cy="1446.7" r="8"/><circle cx="1268.4" cy="1534.9" r="8"/><circle cx="1278.5" cy="1563.7" r="8"/><circle cx="1270.7" cy="1517.0" r="8"/><circle cx="1273.1" cy="1504.9" r="8"/><circle cx="1280.8" cy="1405.6" r="8"/><circle cx="1285.3" cy="1548.0" r="8"/><circle cx="1275.5" cy="1561.8" r="8"/><circle cx="1267.7" cy="1534.5" r="8"/><circle cx="1282.0" cy="1560.9" r="8"/><circle cx="1276.0" cy="1563.7" r="8"/><circle cx="1265.2" cy="1402.1" r="8"/><circle cx="1277.5" cy="1551.6" r="8"/><circle cx="1278.4" cy="1523.8" r="8"/><circle cx="1266.0" cy="1468.1" r="8"/><circle cx="1269.4" cy="1543.2" r="8"/><circle cx="1284.9" cy="1561.5" r="8"/><circle cx="1280.3" cy="1476.7" r="8"/><circle cx="1283.7" cy="1564.0" r="8"/><circle cx="1273.7" cy="1485.9" r="8"/><circle cx="1273.4" cy="1486.7" r="8"/><circle cx="1264.2" cy="1549.7" r="8"/><circle cx="1262.5" cy="1549.2" r="8"/><circle cx="1281.2" cy="1540.9" r="8"/><circle cx="1283.7" cy="1496.2" r="8"/><circle cx="1268.5" cy="1493.0" r="8"/><circle cx="1272.9" cy="1518.1" r="8"/><circle cx="1275.2" cy="1475.3" r="8"/><circle cx="1278.4" cy="1546.7" r="8"/><circle cx="1267.2" cy="1371.8" r="8"/><circle cx="1261.8" cy="1442.7" r="8"/><circle cx="1267.7" cy="1547.1" r="8"/><circle cx="1286.4" cy="1486.2" r="8"/><circle cx="1270.1" cy="1485.7" r="8"/><circle cx="1270.1" cy="1442.6" r="8"/><circle cx="1285.4" cy="1548.7" r="8"/><circle cx="1279.7" cy="1507.2" r="8"/><circle cx="1287.3" cy="1501.6" r="8"/><circle cx="1283.6" cy="1528.0" r="8"/><circle cx="1284.1" cy="1495.8" r="8"/><circle cx="1280.6" cy="1531.4" r="8"/><circle cx="1269.6" cy="1515.9" r="8"/><circle cx="1277.9" cy="1550.7" r="8"/><circle cx="1285.5" cy="1559.8" r="8"/><circle cx="1262.1" cy="1555.4" r="8"/><circle cx="1286.0" cy="1557.9" r="8"/><circle cx="1265.2" cy="1540.1" r="8"/><circle cx="1262.5" cy="1562.7" r="8"/><circle cx="1278.2" cy="1496.7" r="8"/><circle cx="1280.9" cy="1495.9" r="8"/><circle cx="1277.0" cy="1560.5" r="8"/><circle cx="1283.0" cy="1538.5" r="8"/><circle cx="1285.0" cy="1466.1" r="8"/><circle cx="1284.3" cy="1560.5" r="8"/><circle cx="1286.4" cy="1423.3" r="8"/><circle cx="1266.9" cy="1557.9" r="8"/><circle cx="1262.3" cy="1557.6" r="8"/><circle cx="1282.9" cy="1456.4" r="8"/><circle cx="1283.2" cy="1506.7" r="8"/><circle cx="1269.0" cy="1507.1" r="8"/><circle cx="1264.0" cy="1558.4" r="8"/><circle cx="1266.8" cy="1483.1" r="8"/><circle cx="1272.6" cy="1542.3" r="8"/><circle cx="1268.2" cy="1563.2" r="8"/><circle cx="1280.3" cy="1545.3" r="8"/><circle cx="1269.9" cy="1538.1" r="8"/><circle cx="1274.7" cy="1373.6" r="8"/><circle cx="1277.8" cy="1455.0" r="8"/><circle cx="1272.3" cy="1562.6" r="8"/><circle cx="1281.8" cy="1531.5" r="8"/><circle cx="1280.0" cy="1540.0" r="8"/><circle cx="1267.1" cy="1520.1" r="8"/><circle cx="1263.8" cy="1450.6" r="8"/><circle cx="1265.9" cy="1466.1" r="8"/><circle cx="1266.8" cy="1564.3" r="8"/><circle cx="1287.2" cy="1482.0" r="8"/><circle cx="1274.4" cy="1564.1" r="8"/><circle cx="1282.5" cy="1525.6" r="8"/><circle cx="1274.5" cy="1552.7" r="8"/><circle cx="1283.4" cy="1539.9" r="8"/><circle cx="1286.3" cy="1547.1" r="8"/><circle cx="1267.1" cy="1545.3" r="8"/><circle cx="1274.6" cy="1495.4" r="8"/><circle cx="1278.2" cy="1557.7" r="8"/><circle cx="1282.2" cy="1559.6" r="8"/><circle cx="1282.2" cy="1495.8" r="8"/><circle cx="1270.8" cy="1507.7" r="8"/><circle cx="1271.8" cy="1535.0" r="8"/><circle cx="1263.7" cy="1437.5" r="8"/><circle cx="1262.1" cy="1438.5" r="8"/><circle cx="1268.4" cy="1551.2" r="8"/><circle cx="1274.7" cy="1431.6" r="8"/><circle cx="1284.8" cy="1537.0" r="8"/><circle cx="1273.6" cy="1549.1" r="8"/><circle cx="1281.3" cy="1520.9" r="8"/><circle cx="1261.4" cy="1563.7" r="8"/><circle cx="1263.1" cy="1564.1" r="8"/><circle cx="1264.7" cy="1563.5" r="8"/><circle cx="1266.4" cy="1564.2" r="8"/><circle cx="1268.0" cy="1563.7" r="8"/><circle cx="1269.7" cy="1564.3" r="8"/><circle cx="1271.3" cy="1564.4" r="8"/><circle cx="1273.0" cy="1564.3" r="8"/><circle cx="1274.7" cy="1564.3" r="8"/><circle cx="1276.3" cy="1564.0" r="8"/><circle cx="1278.0" cy="1563.9" r="8"/><circle cx="1279.6" cy="1564.2" r="8"/><circle cx="1281.3" cy="1563.6" r="8"/><circle cx="1282.9" cy="1564.1" r="8"/><circle cx="1284.6" cy="1564.3" r="8"/><circle cx="1286.2" cy="1564.2" r="8"/><circle cx="1261.6" cy="1425.6" r="8"/><circle cx="1262.1" cy="1560.0" r="8"/><circle cx="1261.6" cy="1527.9" r="8"/><circle cx="1261.4" cy="1489.2" r="8"/><circle cx="1261.7" cy="1512.5" r="8"/><circle cx="1261.6" cy="1495.1" r="8"/><circle cx="1261.9" cy="1428.3" r="8"/><circle cx="1262.1" cy="1453.9" r="8"/><circle cx="1262.1" cy="1467.2" r="8"/><circle cx="1261.9" cy="1434.2" r="8"/><circle cx="1262.1" cy="1479.4" r="8"/><circle cx="1261.9" cy="1425.9" r="8"/><circle cx="1261.5" cy="1469.9" r="8"/><circle cx="1262.0" cy="1526.4" r="8"/><circle cx="1262.0" cy="1499.1" r="8"/><circle cx="1262.0" cy="1533.8" r="8"/><circle cx="1261.6" cy="1467.6" r="8"/><circle cx="1262.0" cy="1414.6" r="8"/><circle cx="1262.0" cy="1478.6" r="8"/><circle cx="1262.1" cy="1434.4" r="8"/><circle cx="1261.5" cy="1524.1" r="8"/><circle cx="1261.6" cy="1440.4" r="8"/><circle cx="1262.0" cy="1514.5" r="8"/><circle cx="1261.8" cy="1430.2" r="8"/><circle cx="1262.1" cy="1461.5" r="8"/><circle cx="1261.7" cy="1496.2" r="8"/><circle cx="1261.7" cy="1431.4" r="8"/><circle cx="1262.0" cy="1431.3" r="8"/><circle cx="1261.9" cy="1446.9" r="8"/><circle cx="1261.5" cy="1536.9" r="8"/><circle cx="1261.5" cy="1414.5" r="8"/><circle cx="1262.0" cy="1560.7" r="8"/><circle cx="1262.1" cy="1417.6" r="8"/><circle cx="1262.2" cy="1427.1" r="8"/><circle cx="1262.1" cy="1453.5" r="8"/><circle cx="1262.1" cy="1539.0" r="8"/><circle cx="1261.7" cy="1550.8" r="8"/><circle cx="1261.9" cy="1426.0" r="8"/><circle cx="1261.6" cy="1431.5" r="8"/><circle cx="1261.4" cy="1559.4" r="8"/><circle cx="1262.0" cy="1445.1" r="8"/><circle cx="1261.7" cy="1558.7" r="8"/><circle cx="1261.8" cy="1529.5" r="8"/><circle cx="1261.9" cy="1548.6" r="8"/><circle cx="1262.2" cy="1415.1" r="8"/><circle cx="1261.9" cy="1432.1" r="8"/><circle cx="1262.1" cy="1491.0" r="8"/><circle cx="1262.1" cy="1499.9" r="8"/><circle cx="1262.0" cy="1461.2" r="8"/><circle cx="1262.1" cy="1453.2" r="8"/><circle cx="1261.8" cy="1547.5" r="8"/><circle cx="1261.9" cy="1489.6" r="8"/><circle cx="1261.5" cy="1511.8" r="8"/><circle cx="1262.0" cy="1418.7" r="8"/><circle cx="1261.5" cy="1454.2" r="8"/><circle cx="1262.0" cy="1537.7" r="8"/><circle cx="1262.0" cy="1554.0" r="8"/><circle cx="1262.1" cy="1487.8" r="8"/><circle cx="1261.9" cy="1480.6" r="8"/><circle cx="1261.9" cy="1562.8" r="8"/><circle cx="1261.7" cy="1466.0" r="8"/><circle cx="1261.8" cy="1481.7" r="8"/><circle cx="1261.7" cy="1416.4" r="8"/><circle cx="1261.5" cy="1456.3" r="8"/><circle cx="1261.9" cy="1516.5" r="8"/><circle cx="1261.9" cy="1417.8" r="8"/><circle cx="1261.9" cy="1506.3" r="8"/><circle cx="1261.9" cy="1542.9" r="8"/><circle cx="1261.4" cy="1563.6" r="8"/><circle cx="1261.7" cy="1424.9" r="8"/><circle cx="1262.0" cy="1472.4" r="8"/><circle cx="1261.9" cy="1528.1" r="8"/><circle cx="1262.0" cy="1546.9" r="8"/><circle cx="1286.1" cy="1446.3" r="8"/><circle cx="1286.2" cy="1556.9" r="8"/><circle cx="1286.0" cy="1515.5" r="8"/><circle cx="1286.0" cy="1481.7" r="8"/><circle cx="1285.7" cy="1418.0" r="8"/><circle cx="1285.5" cy="1452.0" r="8"/><circle cx="1286.1" cy="1487.6" r="8"/><circle cx="1285.9" cy="1414.6" r="8"/><circle cx="1285.7" cy="1469.6" r="8"/><circle cx="1286.0" cy="1507.3" r="8"/><circle cx="1286.0" cy="1505.1" r="8"/><circle cx="1285.9" cy="1472.1" r="8"/><circle cx="1286.0" cy="1515.9" r="8"/><circle cx="1286.0" cy="1482.6" r="8"/><circle cx="1285.7" cy="1472.1" r="8"/><circle cx="1285.7" cy="1427.5" r="8"/><circle cx="1285.8" cy="1455.7" r="8"/><circle cx="1285.9" cy="1492.6" r="8"/><circle cx="1285.7" cy="1543.0" r="8"/><circle cx="1286.2" cy="1484.7" r="8"/><circle cx="1285.9" cy="1484.9" r="8"/><circle cx="1286.1" cy="1528.5" r="8"/><circle cx="1285.6" cy="1440.6" r="8"/><circle cx="1285.8" cy="1467.9" r="8"/><circle cx="1286.1" cy="1429.7" r="8"/><circle cx="1286.1" cy="1557.9" r="8"/><circle cx="1285.8" cy="1439.0" r="8"/><circle cx="1286.1" cy="1545.9" r="8"/><circle cx="1285.6" cy="1526.5" r="8"/><circle cx="1285.6" cy="1510.7" r="8"/><circle cx="1286.1" cy="1485.9" r="8"/><circle cx="1285.8" cy="1551.1" r="8"/><circle cx="1285.8" cy="1414.2" r="8"/><circle cx="1286.0" cy="1496.7" r="8"/><circle cx="1285.8" cy="1444.1" r="8"/><circle cx="1286.1" cy="1541.8" r="8"/><circle cx="1286.0" cy="1509.1" r="8"/><circle cx="1285.9" cy="1528.6" r="8"/><circle cx="1285.8" cy="1513.2" r="8"/><circle cx="1285.8" cy="1561.7" r="8"/><circle cx="1285.6" cy="1478.5" r="8"/><circle cx="1285.5" cy="1537.5" r="8"/><circle cx="1286.0" cy="1523.0" r="8"/><circle cx="1285.7" cy="1528.0" r="8"/><circle cx="1286.1" cy="1550.6" r="8"/><circle cx="1286.0" cy="1435.0" r="8"/><circle cx="1285.6" cy="1500.7" r="8"/><circle cx="1286.1" cy="1471.3" r="8"/><circle cx="1285.8" cy="1557.8" r="8"/><circle cx="1285.8" cy="1509.1" r="8"/><circle cx="1286.0" cy="1519.9" r="8"/><circle cx="1285.8" cy="1466.8" r="8"/><circle cx="1286.1" cy="1511.3" r="8"/><circle cx="1285.8" cy="1477.2" r="8"/><circle cx="1286.2" cy="1535.5" r="8"/><circle cx="1286.2" cy="1457.2" r="8"/><circle cx="1285.8" cy="1464.1" r="8"/><circle cx="1285.7" cy="1553.7" r="8"/><circle cx="1286.0" cy="1507.2" r="8"/><circle cx="1285.9" cy="1489.6" r="8"/><circle cx="1286.2" cy="1450.4" r="8"/><circle cx="1285.5" cy="1475.1" r="8"/><circle cx="1285.8" cy="1494.8" r="8"/><circle cx="1286.1" cy="1501.9" r="8"/><circle cx="1285.8" cy="1430.3" r="8"/><circle cx="1285.8" cy="1490.4" r="8"/><circle cx="1285.9" cy="1440.2" r="8"/><circle cx="1286.0" cy="1452.9" r="8"/><circle cx="1285.8" cy="1558.3" r="8"/><circle cx="1286.0" cy="1481.0" r="8"/><circle cx="1286.1" cy="1448.4" r="8"/><circle cx="1285.6" cy="1531.2" r="8"/><circle cx="1285.5" cy="1441.3" r="8"/><circle cx="230.5" cy="1520.5" r="8"/><circle cx="205.0" cy="1530.0" r="8"/><circle cx="208.6" cy="1564.3" r="8"/><circle cx="210.1" cy="1564.3" r="8"/><circle cx="211.7" cy="1564.2" r="8"/><circle cx="213.2" cy="1563.6" r="8"/><circle cx="214.8" cy="1563.7" r="8"/><circle cx="216.3" cy="1564.2" r="8"/><circle cx="217.8" cy="1563.6" r="8"/><circle cx="219.4" cy="1564.4" r="8"/><circle cx="220.9" cy="1563.9" r="8"/><circle cx="222.4" cy="1563.6" r="8"/><circle cx="224.0" cy="1564.1" r="8"/><circle cx="225.5" cy="1563.6" r="8"/><circle cx="227.1" cy="1563.8" r="8"/><circle cx="228.6" cy="1564.4" r="8"/><circle cx="209.0" cy="1564.4" r="8"/><circle cx="209.1" cy="1563.6" r="8"/><circle cx="209.1" cy="1562.8" r="8"/><circle cx="209.0" cy="1562.4" r="8"/><circle cx="208.9" cy="1561.7" r="8"/><circle cx="208.9" cy="1560.5" r="8"/><circle cx="208.8" cy="1560.0" r="8"/><circle cx="228.0" cy="1564.4" r="8"/><circle cx="228.1" cy="1563.6" r="8"/><circle cx="228.1" cy="1562.9" r="8"/><circle cx="228.2" cy="1562.2" r="8"/><circle cx="228.4" cy="1561.7" r="8"/><circle cx="228.1" cy="1560.3" r="8"/><circle cx="228.2" cy="1559.6" r="8"/><circle cx="211.6" cy="1563.4" r="8"/><circle cx="210.9" cy="1559.4" r="8"/><circle cx="211.0" cy="1561.3" r="8"/><circle cx="219.3" cy="1563.5" r="8"/><circle cx="212.6" cy="1562.3" r="8"/><circle cx="211.1" cy="1563.2" r="8"/><circle cx="218.6" cy="1559.4" r="8"/><circle cx="227.5" cy="1564.4" r="8"/><circle cx="220.0" cy="1559.9" r="8"/><circle cx="223.6" cy="1563.9" r="8"/><circle cx="209.2" cy="1562.9" r="8"/><circle cx="214.4" cy="1561.4" r="8"/><circle cx="220.2" cy="1564.2" r="8"/><circle cx="224.3" cy="1561.0" r="8"/><circle cx="213.5" cy="1564.3" r="8"/><circle cx="209.4" cy="1558.8" r="8"/><circle cx="224.9" cy="1562.9" r="8"/><circle cx="217.8" cy="1559.7" r="8"/><circle cx="227.4" cy="1564.4" r="8"/><circle cx="210.4" cy="1562.1" r="8"/><circle cx="222.2" cy="1560.2" r="8"/><circle cx="211.4" cy="1562.4" r="8"/><circle cx="215.2" cy="1563.1" r="8"/><circle cx="224.4" cy="1562.3" r="8"/><circle cx="224.2" cy="1561.5" r="8"/><circle cx="221.3" cy="1562.8" r="8"/><circle cx="225.5" cy="1560.8" r="8"/><circle cx="222.9" cy="1564.2" r="8"/><circle cx="227.9" cy="1563.5" r="8"/><circle cx="211.3" cy="1562.8" r="8"/><circle cx="226.7" cy="1562.4" r="8"/><circle cx="224.6" cy="1562.6" r="8"/><circle cx="225.1" cy="1561.9" r="8"/><circle cx="214.6" cy="1562.5" r="8"/><circle cx="227.5" cy="1563.3" r="8"/><circle cx="224.3" cy="1558.8" r="8"/><circle cx="223.2" cy="1545.8" r="8"/><circle cx="214.6" cy="1545.3" r="8"/><circle cx="214.4" cy="1550.3" r="8"/><circle cx="225.2" cy="1551.0" r="8"/><circle cx="222.3" cy="1554.2" r="8"/><circle cx="222.9" cy="1549.0" r="8"/><circle cx="222.0" cy="1555.8" r="8"/><circle cx="225.0" cy="1557.9" r="8"/><circle cx="279.1" cy="1513.3" r="8"/><circle cx="268.8" cy="1563.8" r="8"/><circle cx="270.3" cy="1564.2" r="8"/><circle cx="271.9" cy="1564.2" r="8"/><circle cx="273.4" cy="1564.0" r="8"/><circle cx="274.9" cy="1564.4" r="8"/><circle cx="276.5" cy="1564.2" r="8"/><circle cx="278.0" cy="1563.6" r="8"/><circle cx="279.6" cy="1563.6" r="8"/><circle cx="281.1" cy="1564.1" r="8"/><circle cx="282.6" cy="1563.7" r="8"/><circle cx="284.2" cy="1563.7" r="8"/><circle cx="285.7" cy="1563.6" r="8"/><circle cx="287.3" cy="1563.7" r="8"/><circle cx="288.8" cy="1563.9" r="8"/><circle cx="269.3" cy="1564.4" r="8"/><circle cx="269.2" cy="1563.5" r="8"/><circle cx="269.2" cy="1562.7" r="8"/><circle cx="268.8" cy="1562.0" r="8"/><circle cx="269.1" cy="1560.8" r="8"/><circle cx="269.1" cy="1559.7" r="8"/><circle cx="269.1" cy="1558.8" r="8"/><circle cx="269.0" cy="1557.7" r="8"/><circle cx="269.3" cy="1558.0" r="8"/><circle cx="288.4" cy="1564.4" r="8"/><circle cx="288.2" cy="1563.6" r="8"/><circle cx="288.6" cy="1562.5" r="8"/><circle cx="288.3" cy="1561.9" r="8"/><circle cx="288.6" cy="1560.8" r="8"/><circle cx="288.6" cy="1559.9" r="8"/><circle cx="288.3" cy="1559.5" r="8"/><circle cx="288.2" cy="1558.1" r="8"/><circle cx="288.3" cy="1557.9" r="8"/><circle cx="280.6" cy="1563.0" r="8"/><circle cx="282.7" cy="1563.1" r="8"/><circle cx="270.1" cy="1563.8" r="8"/><circle cx="271.6" cy="1561.3" r="8"/><circle cx="288.2" cy="1560.2" r="8"/><circle cx="284.2" cy="1563.8" r="8"/><circle cx="274.9" cy="1563.5" r="8"/><circle cx="277.7" cy="1558.5" r="8"/><circle cx="287.4" cy="1564.2" r="8"/><circle cx="269.4" cy="1557.2" r="8"/><circle cx="285.9" cy="1563.9" r="8"/><circle cx="274.3" cy="1563.0" r="8"/><circle cx="286.9" cy="1562.8" r="8"/><circle cx="280.5" cy="1558.7" r="8"/><circle cx="271.7" cy="1564.0" r="8"/><circle cx="276.5" cy="1555.9" r="8"/><circle cx="273.3" cy="1563.2" r="8"/><circle cx="285.8" cy="1564.3" r="8"/><circle cx="276.1" cy="1556.1" r="8"/><circle cx="284.5" cy="1564.1" r="8"/><circle cx="279.3" cy="1561.2" r="8"/><circle cx="284.7" cy="1562.3" r="8"/><circle cx="284.1" cy="1561.1" r="8"/><circle cx="273.2" cy="1562.7" r="8"/><circle cx="281.6" cy="1561.3" r="8"/><circle cx="269.8" cy="1556.9" r="8"/><circle cx="273.5" cy="1562.6" r="8"/><circle cx="271.1" cy="1560.6" r="8"/><circle cx="270.7" cy="1558.3" r="8"/><circle cx="272.3" cy="1560.3" r="8"/><circle cx="271.2" cy="1560.6" r="8"/><circle cx="278.2" cy="1561.3" r="8"/><circle cx="270.2" cy="1563.2" r="8"/><circle cx="280.0" cy="1558.0" r="8"/><circle cx="285.9" cy="1562.3" r="8"/><circle cx="279.3" cy="1556.3" r="8"/><circle cx="286.1" cy="1562.9" r="8"/><circle cx="274.1" cy="1563.7" r="8"/><circle cx="283.4" cy="1563.4" r="8"/><circle cx="278.3" cy="1543.3" r="8"/><circle cx="274.6" cy="1548.3" r="8"/><circle cx="276.3" cy="1552.6" r="8"/><circle cx="284.4" cy="1544.5" r="8"/><circle cx="273.7" cy="1550.5" r="8"/><circle cx="280.1" cy="1540.4" r="8"/><circle cx="350.3" cy="1546.4" r="8"/><circle cx="343.0" cy="1564.5" r="8"/><circle cx="350.8" cy="1563.3" r="8"/><circle cx="412.4" cy="1490.8" r="8"/><circle cx="415.0" cy="1545.0" r="8"/><circle cx="413.0" cy="1537.0" r="8"/><circle cx="393.8" cy="1564.2" r="8"/><circle cx="395.7" cy="1563.7" r="8"/><circle cx="397.6" cy="1563.6" r="8"/><circle cx="399.5" cy="1564.4" r="8"/><circle cx="401.4" cy="1563.6" r="8"/><circle cx="403.3" cy="1564.0" r="8"/><circle cx="405.2" cy="1564.3" r="8"/><circle cx="407.1" cy="1564.3" r="8"/><circle cx="409.0" cy="1563.7" r="8"/><circle cx="410.9" cy="1563.8" r="8"/><circle cx="412.8" cy="1564.3" r="8"/><circle cx="414.8" cy="1564.0" r="8"/><circle cx="416.7" cy="1563.9" r="8"/><circle cx="418.6" cy="1563.5" r="8"/><circle cx="394.3" cy="1564.4" r="8"/><circle cx="394.3" cy="1563.7" r="8"/><circle cx="394.4" cy="1563.0" r="8"/><circle cx="394.1" cy="1562.3" r="8"/><circle cx="394.4" cy="1561.6" r="8"/><circle cx="394.5" cy="1561.0" r="8"/><circle cx="394.3" cy="1560.0" r="8"/><circle cx="418.0" cy="1564.4" r="8"/><circle cx="418.2" cy="1563.6" r="8"/><circle cx="418.2" cy="1562.8" r="8"/><circle cx="418.2" cy="1562.3" r="8"/><circle cx="418.3" cy="1561.7" r="8"/><circle cx="418.0" cy="1561.1" r="8"/><circle cx="418.3" cy="1559.5" r="8"/><circle cx="404.3" cy="1562.4" r="8"/><circle cx="403.5" cy="1560.4" r="8"/><circle cx="408.0" cy="1559.4" r="8"/><circle cx="411.8" cy="1559.5" r="8"/><circle cx="416.6" cy="1560.8" r="8"/><circle cx="401.2" cy="1561.9" r="8"/><circle cx="412.0" cy="1560.6" r="8"/><circle cx="402.8" cy="1564.1" r="8"/><circle cx="408.4" cy="1562.7" r="8"/><circle cx="417.2" cy="1563.7" r="8"/><circle cx="398.3" cy="1562.1" r="8"/><circle cx="413.6" cy="1559.2" r="8"/><circle cx="405.7" cy="1562.5" r="8"/><circle cx="416.0" cy="1562.3" r="8"/><circle cx="416.8" cy="1561.3" r="8"/><circle cx="402.0" cy="1563.4" r="8"/><circle cx="413.3" cy="1560.9" r="8"/><circle cx="403.4" cy="1562.3" r="8"/><circle cx="407.1" cy="1559.2" r="8"/><circle cx="414.1" cy="1562.5" r="8"/><circle cx="394.3" cy="1560.4" r="8"/><circle cx="413.7" cy="1564.1" r="8"/><circle cx="395.2" cy="1563.1" r="8"/><circle cx="411.6" cy="1560.2" r="8"/><circle cx="407.4" cy="1562.4" r="8"/><circle cx="416.7" cy="1564.2" r="8"/><circle cx="412.3" cy="1563.3" r="8"/><circle cx="396.1" cy="1563.6" r="8"/><circle cx="408.6" cy="1562.8" r="8"/><circle cx="395.2" cy="1564.3" r="8"/><circle cx="411.3" cy="1564.3" r="8"/><circle cx="397.8" cy="1564.2" r="8"/><circle cx="410.4" cy="1560.9" r="8"/><circle cx="418.0" cy="1563.6" r="8"/><circle cx="400.1" cy="1562.2" r="8"/><circle cx="418.4" cy="1558.8" r="8"/><circle cx="398.9" cy="1555.5" r="8"/><circle cx="400.8" cy="1547.1" r="8"/><circle cx="410.5" cy="1550.5" r="8"/><circle cx="406.6" cy="1543.5" r="8"/><circle cx="395.9" cy="1555.1" r="8"/><circle cx="411.8" cy="1551.9" r="8"/><circle cx="405.2" cy="1553.8" r="8"/><circle cx="408.6" cy="1557.4" r="8"/><circle cx="449.2" cy="1552.5" r="8"/><circle cx="447.0" cy="1563.0" r="8"/><circle cx="461.0" cy="1562.4" r="8"/><circle cx="458.9" cy="1562.9" r="8"/><circle cx="459.6" cy="1563.3" r="8"/><circle cx="453.5" cy="1560.2" r="8"/><circle cx="459.4" cy="1558.8" r="8"/><circle cx="516.4" cy="1564.6" r="8"/><circle cx="526.8" cy="1563.3" r="8"/><circle cx="643.0" cy="1551.0" r="8"/><circle cx="652.0" cy="1547.5" r="8"/><circle cx="652.0" cy="1563.3" r="8"/><circle cx="652.5" cy="1564.0" r="8"/><circle cx="649.0" cy="1561.6" r="8"/><circle cx="663.6" cy="1563.7" r="8"/><circle cx="660.2" cy="1562.5" r="8"/><circle cx="646.4" cy="1562.2" r="8"/><circle cx="650.7" cy="1564.3" r="8"/><circle cx="650.5" cy="1564.0" r="8"/><circle cx="643.3" cy="1563.8" r="8"/><circle cx="662.8" cy="1563.2" r="8"/><circle cx="653.4" cy="1563.9" r="8"/><circle cx="650.5" cy="1564.3" r="8"/><circle cx="654.1" cy="1563.7" r="8"/><circle cx="662.4" cy="1564.3" r="8"/><circle cx="657.3" cy="1563.5" r="8"/><circle cx="650.6" cy="1552.9" r="8"/><circle cx="651.5" cy="1555.1" r="8"/><circle cx="648.2" cy="1552.8" r="8"/><circle cx="645.1" cy="1556.2" r="8"/><circle cx="647.8" cy="1554.5" r="8"/><circle cx="644.6" cy="1558.7" r="8"/><circle cx="650.0" cy="1560.6" r="8"/><circle cx="647.6" cy="1556.5" r="8"/><circle cx="702.9" cy="1560.8" r="8"/><circle cx="709.1" cy="1562.9" r="8"/><circle cx="715.3" cy="1556.6" r="8"/><circle cx="726.7" cy="1553.5" r="8"/><circle cx="723.6" cy="1564.9" r="8"/><circle cx="777.0" cy="1561.4" r="8"/><circle cx="778.5" cy="1563.7" r="8"/><circle cx="787.5" cy="1562.7" r="8"/><circle cx="773.5" cy="1562.2" r="8"/><circle cx="768.2" cy="1560.9" r="8"/><circle cx="787.1" cy="1561.1" r="8"/><circle cx="776.1" cy="1563.2" r="8"/><circle cx="784.8" cy="1564.0" r="8"/><circle cx="786.9" cy="1562.0" r="8"/><circle cx="767.8" cy="1563.0" r="8"/><circle cx="773.4" cy="1553.7" r="8"/><circle cx="778.1" cy="1558.5" r="8"/><circle cx="780.6" cy="1553.6" r="8"/><circle cx="769.1" cy="1557.2" r="8"/><circle cx="850.0" cy="1391.7" r="8"/><circle cx="839.9" cy="1564.0" r="8"/><circle cx="830.3" cy="1562.2" r="8"/><circle cx="846.1" cy="1562.0" r="8"/><circle cx="831.3" cy="1564.1" r="8"/><circle cx="844.6" cy="1562.3" r="8"/><circle cx="838.9" cy="1562.7" r="8"/><circle cx="847.2" cy="1560.1" r="8"/><circle cx="841.9" cy="1560.4" r="8"/><circle cx="912.1" cy="1287.4" r="8"/><circle cx="894.5" cy="1327.7" r="8"/><circle cx="913.0" cy="1524.1" r="8"/><circle cx="1012.5" cy="1555.6" r="8"/><circle cx="1037.3" cy="1558.7" r="8"/><circle cx="1033.0" cy="1563.0" r="8"/><circle cx="1081.8" cy="1495.6" r="8"/><circle cx="1092.0" cy="1561.2" r="8"/><circle cx="1086.4" cy="1563.4" r="8"/><circle cx="1086.4" cy="1564.2" r="8"/><circle cx="1096.2" cy="1564.0" r="8"/><circle cx="1095.1" cy="1562.6" r="8"/><circle cx="1081.6" cy="1563.6" r="8"/><circle cx="1077.6" cy="1562.3" r="8"/><circle cx="1083.5" cy="1562.9" r="8"/><circle cx="1095.8" cy="1563.9" r="8"/><circle cx="1083.0" cy="1560.5" r="8"/><circle cx="1081.6" cy="1555.6" r="8"/><circle cx="1089.5" cy="1559.9" r="8"/><circle cx="1077.1" cy="1559.2" r="8"/><circle cx="1092.1" cy="1557.5" r="8"/><circle cx="1138.1" cy="1563.9" r="8"/><circle cx="1149.1" cy="1563.9" r="8"/><circle cx="1154.3" cy="1563.9" r="8"/><circle cx="1201.9" cy="1553.5" r="8"/><circle cx="1221.6" cy="1552.5" r="8"/><circle cx="1207.5" cy="1563.2" r="8"/><circle cx="1212.5" cy="1563.0" r="8"/><circle cx="1217.7" cy="1564.3" r="8"/><circle cx="1206.3" cy="1563.5" r="8"/><circle cx="1206.1" cy="1563.9" r="8"/><circle cx="1206.0" cy="1564.1" r="8"/><circle cx="1221.2" cy="1561.2" r="8"/><circle cx="1207.5" cy="1559.2" r="8"/><circle cx="1201.8" cy="1562.3" r="8"/><circle cx="1335.8" cy="1562.4" r="8"/><circle cx="1324.2" cy="1562.8" r="8"/><circle cx="1348.3" cy="1564.3" r="8"/><circle cx="1327.5" cy="1563.0" r="8"/><circle cx="1343.6" cy="1563.8" r="8"/><circle cx="1342.0" cy="1563.1" r="8"/><circle cx="1341.7" cy="1558.8" r="8"/><circle cx="1341.3" cy="1560.0" r="8"/><circle cx="1398.9" cy="1562.9" r="8"/><circle cx="1408.0" cy="1558.8" r="8"/><circle cx="1459.5" cy="1564.9" r="8"/><circle cx="1516.0" cy="1561.9" r="8"/><circle cx="1525.0" cy="1556.8" r="8"/><circle cx="1522.0" cy="1561.9" r="8"/><circle cx="1648.2" cy="1554.8" r="8"/><circle cx="1652.2" cy="1563.7" r="8"/><circle cx="1646.6" cy="1563.4" r="8"/><circle cx="1640.0" cy="1563.6" r="8"/><circle cx="1637.0" cy="1563.3" r="8"/><circle cx="1654.3" cy="1563.6" r="8"/><circle cx="1648.6" cy="1558.7" r="8"/><circle cx="1653.9" cy="1559.9" r="8"/><circle cx="1649.1" cy="1555.6" r="8"/>
</g>
<g fill="#00BA38" stroke="#00BA38">
<circle cx="1276.1" cy="451.3" r="8"/><circle cx="1272.8" cy="491.7" r="8"/><circle cx="1274.6" cy="587.0" r="8"/><circle cx="1265.5" cy="690.1" r="8"/><circle cx="1286.0" cy="695.3" r="8"/><circle cx="1266.5" cy="751.6" r="8"/><circle cx="1279.6" cy="759.9" r="8"/><circle cx="1272.1" cy="800.7" r="8"/><circle cx="1280.6" cy="862.7" r="8"/><circle cx="1264.3" cy="879.0" r="8"/><circle cx="1274.4" cy="918.0" r="8"/><circle cx="1280.4" cy="970.4" r="8"/><circle cx="1283.5" cy="1036.4" r="8"/><circle cx="1283.5" cy="1036.4" r="8"/><circle cx="1269.0" cy="1043.0" r="8"/><circle cx="1275.9" cy="1097.1" r="8"/><circle cx="1264.5" cy="1120.5" r="8"/><circle cx="1284.8" cy="1140.5" r="8"/><circle cx="1284.8" cy="1170.6" r="8"/><circle cx="1284.8" cy="1171.0" r="8"/><circle cx="1276.3" cy="1181.9" r="8"/><circle cx="1267.0" cy="1188.2" r="8"/><circle cx="1281.4" cy="1203.7" r="8"/><circle cx="1264.5" cy="1235.6" r="8"/><circle cx="1274.7" cy="1257.0" r="8"/><circle cx="1282.2" cy="1279.4" r="8"/><circle cx="1272.9" cy="1280.3" r="8"/><circle cx="1285.9" cy="1282.2" r="8"/><circle cx="1262.6" cy="1308.3" r="8"/><circle cx="1280.3" cy="1312.9" r="8"/><circle cx="1262.6" cy="1318.5" r="8"/><circle cx="1268.2" cy="1323.2" r="8"/><circle cx="1260.8" cy="1341.8" r="8"/><circle cx="1267.3" cy="1346.5" r="8"/><circle cx="1285.0" cy="1350.2" r="8"/><circle cx="1265.4" cy="1355.8" r="8"/><circle cx="1260.8" cy="1364.2" r="8"/><circle cx="1267.3" cy="1365.1" r="8"/><circle cx="1278.5" cy="1367.9" r="8"/><circle cx="1282.2" cy="1375.4" r="8"/><circle cx="1287.8" cy="1390.3" r="8"/><circle cx="1262.6" cy="1394.0" r="8"/><circle cx="1273.8" cy="1397.8" r="8"/><circle cx="1276.3" cy="1506.2" r="8"/><circle cx="1269.1" cy="1546.6" r="8"/><circle cx="1280.7" cy="1557.4" r="8"/><circle cx="1278.5" cy="1519.3" r="8"/><circle cx="1271.7" cy="1556.7" r="8"/><circle cx="1274.8" cy="1502.6" r="8"/><circle cx="1272.2" cy="1558.8" r="8"/><circle cx="1267.2" cy="1474.4" r="8"/><circle cx="1268.6" cy="1555.6" r="8"/><circle cx="1280.7" cy="1513.9" r="8"/><circle cx="1265.3" cy="1557.4" r="8"/><circle cx="1269.1" cy="1552.6" r="8"/><circle cx="1265.4" cy="1533.7" r="8"/><circle cx="1266.1" cy="1547.9" r="8"/><circle cx="1278.2" cy="1410.7" r="8"/><circle cx="1283.4" cy="1559.9" r="8"/><circle cx="1270.4" cy="1559.9" r="8"/><circle cx="1279.6" cy="1392.8" r="8"/><circle cx="1271.6" cy="1509.4" r="8"/><circle cx="1276.1" cy="1555.3" r="8"/><circle cx="1266.5" cy="1559.7" r="8"/><circle cx="1262.6" cy="1543.9" r="8"/><circle cx="1279.5" cy="1543.2" r="8"/><circle cx="1273.0" cy="1515.2" r="8"/><circle cx="1272.2" cy="1522.8" r="8"/><circle cx="1275.4" cy="1558.0" r="8"/><circle cx="1278.4" cy="1542.8" r="8"/><circle cx="1271.5" cy="1465.1" r="8"/><circle cx="1278.6" cy="1528.9" r="8"/><circle cx="1266.9" cy="1541.7" r="8"/><circle cx="1281.5" cy="1511.1" r="8"/><circle cx="1277.5" cy="1502.5" r="8"/><circle cx="1277.1" cy="1484.8" r="8"/><circle cx="1272.0" cy="1521.7" r="8"/><circle cx="1275.9" cy="1548.8" r="8"/><circle cx="1271.2" cy="1560.1" r="8"/><circle cx="1277.8" cy="1501.0" r="8"/><circle cx="1267.4" cy="1523.1" r="8"/><circle cx="1272.0" cy="1541.5" r="8"/><circle cx="1271.0" cy="1524.0" r="8"/><circle cx="1282.7" cy="1517.6" r="8"/><circle cx="1276.5" cy="1556.0" r="8"/><circle cx="1270.5" cy="1501.7" r="8"/><circle cx="1283.7" cy="1536.4" r="8"/><circle cx="1274.0" cy="1562.8" r="8"/><circle cx="1279.3" cy="1557.1" r="8"/><circle cx="1273.5" cy="1446.9" r="8"/><circle cx="1274.7" cy="1560.0" r="8"/><circle cx="1277.9" cy="1532.0" r="8"/><circle cx="1276.1" cy="1534.5" r="8"/><circle cx="1273.5" cy="1490.9" r="8"/><circle cx="1283.1" cy="1542.4" r="8"/><circle cx="1277.2" cy="1554.6" r="8"/><circle cx="1278.9" cy="1543.7" r="8"/><circle cx="1283.9" cy="1559.0" r="8"/><circle cx="1263.1" cy="1546.1" r="8"/><circle cx="1270.8" cy="1551.1" r="8"/><circle cx="1271.2" cy="1563.8" r="8"/><circle cx="1277.5" cy="1541.7" r="8"/><circle cx="1267.8" cy="1546.3" r="8"/><circle cx="1278.4" cy="1553.8" r="8"/><circle cx="1273.6" cy="1447.4" r="8"/><circle cx="1279.8" cy="1554.1" r="8"/><circle cx="1266.6" cy="1543.7" r="8"/><circle cx="1279.2" cy="1558.6" r="8"/><circle cx="1276.0" cy="1495.4" r="8"/><circle cx="1274.4" cy="1538.1" r="8"/><circle cx="1283.4" cy="1553.7" r="8"/><circle cx="1276.1" cy="1546.3" r="8"/><circle cx="1280.1" cy="1493.3" r="8"/><circle cx="1268.4" cy="1538.1" r="8"/><circle cx="1264.6" cy="1531.3" r="8"/><circle cx="1269.8" cy="1489.8" r="8"/><circle cx="1267.8" cy="1485.3" r="8"/><circle cx="1267.5" cy="1544.8" r="8"/><circle cx="1266.0" cy="1541.3" r="8"/><circle cx="1278.0" cy="1564.3" r="8"/><circle cx="1267.3" cy="1550.7" r="8"/><circle cx="1272.6" cy="1549.5" r="8"/><circle cx="1276.1" cy="1541.1" r="8"/><circle cx="1269.9" cy="1519.6" r="8"/><circle cx="1281.0" cy="1454.5" r="8"/><circle cx="1280.4" cy="1562.0" r="8"/><circle cx="1279.4" cy="1466.1" r="8"/><circle cx="1280.5" cy="1558.1" r="8"/><circle cx="1262.2" cy="1522.7" r="8"/><circle cx="1283.1" cy="1563.9" r="8"/><circle cx="1267.4" cy="1520.0" r="8"/><circle cx="1265.0" cy="1559.9" r="8"/><circle cx="1279.2" cy="1553.3" r="8"/><circle cx="1265.2" cy="1546.7" r="8"/><circle cx="1279.6" cy="1466.9" r="8"/><circle cx="1281.8" cy="1556.8" r="8"/><circle cx="1279.3" cy="1525.4" r="8"/><circle cx="1281.9" cy="1518.5" r="8"/><circle cx="1280.6" cy="1499.8" r="8"/><circle cx="1277.3" cy="1555.3" r="8"/><circle cx="1278.4" cy="1532.9" r="8"/><circle cx="1281.6" cy="1540.4" r="8"/><circle cx="1267.8" cy="1530.7" r="8"/><circle cx="1265.0" cy="1553.3" r="8"/><circle cx="1263.1" cy="1536.1" r="8"/><circle cx="1265.1" cy="1538.2" r="8"/><circle cx="1273.0" cy="1536.3" r="8"/><circle cx="1281.2" cy="1532.1" r="8"/><circle cx="1280.7" cy="1564.1" r="8"/><circle cx="1274.4" cy="1538.1" r="8"/><circle cx="1280.7" cy="1518.9" r="8"/><circle cx="1271.2" cy="1544.8" r="8"/><circle cx="1263.5" cy="1429.8" r="8"/><circle cx="1276.1" cy="1522.2" r="8"/><circle cx="1275.5" cy="1563.2" r="8"/><circle cx="1282.7" cy="1516.7" r="8"/><circle cx="1283.8" cy="1547.7" r="8"/><circle cx="1272.7" cy="1534.7" r="8"/><circle cx="1262.6" cy="1469.6" r="8"/><circle cx="1275.8" cy="1511.7" r="8"/><circle cx="1281.1" cy="1547.2" r="8"/><circle cx="1272.5" cy="1545.4" r="8"/><circle cx="1279.1" cy="1533.4" r="8"/><circle cx="1271.6" cy="1554.6" r="8"/><circle cx="1274.2" cy="1541.6" r="8"/><circle cx="1268.4" cy="1491.5" r="8"/><circle cx="1270.9" cy="1491.2" r="8"/><circle cx="1267.9" cy="1535.2" r="8"/><circle cx="1283.7" cy="1535.0" r="8"/><circle cx="1279.6" cy="1520.2" r="8"/><circle cx="1268.9" cy="1547.7" r="8"/><circle cx="1275.0" cy="1549.6" r="8"/><circle cx="1279.4" cy="1522.5" r="8"/><circle cx="1278.0" cy="1562.7" r="8"/><circle cx="1274.0" cy="1474.2" r="8"/><circle cx="1268.6" cy="1562.3" r="8"/><circle cx="1266.1" cy="1564.1" r="8"/><circle cx="1275.5" cy="1458.6" r="8"/><circle cx="1279.5" cy="1519.8" r="8"/><circle cx="1275.5" cy="1464.3" r="8"/><circle cx="1275.9" cy="1524.5" r="8"/><circle cx="1275.2" cy="1514.8" r="8"/><circle cx="1266.6" cy="1516.9" r="8"/><circle cx="1272.1" cy="1518.6" r="8"/><circle cx="1264.1" cy="1504.6" r="8"/><circle cx="1262.7" cy="1556.1" r="8"/><circle cx="1282.3" cy="1502.4" r="8"/><circle cx="1270.1" cy="1520.0" r="8"/><circle cx="1279.4" cy="1492.4" r="8"/><circle cx="1267.6" cy="1530.0" r="8"/><circle cx="1271.3" cy="1549.4" r="8"/><circle cx="1271.5" cy="1548.4" r="8"/><circle cx="1282.7" cy="1521.7" r="8"/><circle cx="1274.5" cy="1562.1" r="8"/><circle cx="1264.5" cy="1562.7" r="8"/><circle cx="1274.7" cy="1495.2" r="8"/><circle cx="1271.8" cy="1460.0" r="8"/><circle cx="1270.5" cy="1563.8" r="8"/><circle cx="1282.8" cy="1527.1" r="8"/><circle cx="1272.5" cy="1400.0" r="8"/><circle cx="1264.1" cy="1542.3" r="8"/><circle cx="1266.6" cy="1521.4" r="8"/><circle cx="1262.2" cy="1557.6" r="8"/><circle cx="1277.1" cy="1564.2" r="8"/><circle cx="1283.5" cy="1559.0" r="8"/><circle cx="1281.3" cy="1560.6" r="8"/><circle cx="1262.2" cy="1558.7" r="8"/><circle cx="1267.3" cy="1511.5" r="8"/><circle cx="1266.0" cy="1509.4" r="8"/><circle cx="1279.2" cy="1562.3" r="8"/><circle cx="1281.0" cy="1512.4" r="8"/><circle cx="1263.7" cy="1510.0" r="8"/><circle cx="1277.7" cy="1523.2" r="8"/><circle cx="1282.7" cy="1538.7" r="8"/><circle cx="1283.4" cy="1552.2" r="8"/><circle cx="1262.1" cy="1511.9" r="8"/><circle cx="1276.4" cy="1563.8" r="8"/><circle cx="1263.6" cy="1493.7" r="8"/><circle cx="1278.2" cy="1548.9" r="8"/><circle cx="1281.1" cy="1556.8" r="8"/><circle cx="1263.2" cy="1536.7" r="8"/><circle cx="1274.7" cy="1545.3" r="8"/><circle cx="1277.0" cy="1540.4" r="8"/><circle cx="1279.7" cy="1557.9" r="8"/><circle cx="1276.3" cy="1545.6" r="8"/><circle cx="1271.2" cy="1523.1" r="8"/><circle cx="1279.4" cy="1544.1" r="8"/><circle cx="1279.4" cy="1443.8" r="8"/><circle cx="1268.4" cy="1529.6" r="8"/><circle cx="1283.6" cy="1561.8" r="8"/><circle cx="1280.4" cy="1513.9" r="8"/><circle cx="1275.4" cy="1547.6" r="8"/><circle cx="1280.5" cy="1406.6" r="8"/><circle cx="1268.7" cy="1526.2" r="8"/><circle cx="1281.7" cy="1541.1" r="8"/><circle cx="1277.2" cy="1544.7" r="8"/><circle cx="1281.9" cy="1526.1" r="8"/><circle cx="1268.2" cy="1495.9" r="8"/><circle cx="1267.7" cy="1564.3" r="8"/><circle cx="1275.0" cy="1541.6" r="8"/><circle cx="1281.7" cy="1494.0" r="8"/><circle cx="1280.5" cy="1562.6" r="8"/><circle cx="1281.3" cy="1494.9" r="8"/><circle cx="1268.0" cy="1529.1" r="8"/><circle cx="1279.9" cy="1485.1" r="8"/><circle cx="1282.3" cy="1516.4" r="8"/><circle cx="1263.7" cy="1546.7" r="8"/><circle cx="1279.7" cy="1530.8" r="8"/><circle cx="1278.6" cy="1555.1" r="8"/><circle cx="1267.1" cy="1452.7" r="8"/><circle cx="1277.0" cy="1525.6" r="8"/><circle cx="1266.5" cy="1538.4" r="8"/><circle cx="1278.7" cy="1552.2" r="8"/><circle cx="1272.1" cy="1499.1" r="8"/><circle cx="1279.9" cy="1560.6" r="8"/><circle cx="1267.0" cy="1502.9" r="8"/><circle cx="1281.9" cy="1528.3" r="8"/><circle cx="1273.5" cy="1474.4" r="8"/><circle cx="1275.0" cy="1537.5" r="8"/><circle cx="1266.1" cy="1555.7" r="8"/><circle cx="1277.5" cy="1556.1" r="8"/><circle cx="1274.5" cy="1545.6" r="8"/><circle cx="1273.4" cy="1543.0" r="8"/><circle cx="1262.8" cy="1557.7" r="8"/><circle cx="1270.2" cy="1320.7" r="8"/><circle cx="1276.0" cy="1559.7" r="8"/><circle cx="1265.3" cy="1500.0" r="8"/><circle cx="1269.6" cy="1526.6" r="8"/><circle cx="1262.3" cy="1533.9" r="8"/><circle cx="1284.0" cy="1563.0" r="8"/><circle cx="1272.7" cy="1480.8" r="8"/><circle cx="1267.7" cy="1529.6" r="8"/><circle cx="1271.4" cy="1501.6" r="8"/><circle cx="1279.0" cy="1442.6" r="8"/><circle cx="1283.4" cy="1493.3" r="8"/><circle cx="1262.7" cy="1552.2" r="8"/><circle cx="1265.9" cy="1555.1" r="8"/><circle cx="1263.0" cy="1560.8" r="8"/><circle cx="1281.3" cy="1530.5" r="8"/><circle cx="1283.0" cy="1538.9" r="8"/><circle cx="1263.3" cy="1464.3" r="8"/><circle cx="1270.7" cy="1526.5" r="8"/><circle cx="1283.3" cy="1559.1" r="8"/><circle cx="1274.5" cy="1552.0" r="8"/><circle cx="1283.3" cy="1521.8" r="8"/><circle cx="1270.6" cy="1518.3" r="8"/><circle cx="1265.4" cy="1539.7" r="8"/><circle cx="1284.0" cy="1424.0" r="8"/><circle cx="1262.7" cy="1554.0" r="8"/><circle cx="1269.7" cy="1552.1" r="8"/><circle cx="1282.1" cy="1467.4" r="8"/><circle cx="1262.9" cy="1488.9" r="8"/><circle cx="1277.7" cy="1500.2" r="8"/><circle cx="1283.9" cy="1521.1" r="8"/><circle cx="1265.1" cy="1562.0" r="8"/><circle cx="1282.9" cy="1505.9" r="8"/><circle cx="1268.5" cy="1517.4" r="8"/><circle cx="1278.8" cy="1527.2" r="8"/><circle cx="1269.1" cy="1559.8" r="8"/><circle cx="1264.6" cy="1552.0" r="8"/><circle cx="1265.6" cy="1537.1" r="8"/><circle cx="1265.0" cy="1553.1" r="8"/><circle cx="1262.1" cy="1517.3" r="8"/><circle cx="1266.2" cy="1511.8" r="8"/><circle cx="1282.6" cy="1562.9" r="8"/><circle cx="1282.8" cy="1554.0" r="8"/><circle cx="1281.7" cy="1480.5" r="8"/><circle cx="1271.8" cy="1558.1" r="8"/><circle cx="1282.6" cy="1560.2" r="8"/><circle cx="1275.9" cy="1487.6" r="8"/><circle cx="1269.4" cy="1539.3" r="8"/><circle cx="1272.5" cy="1492.3" r="8"/><circle cx="1265.0" cy="1523.2" r="8"/><circle cx="1263.1" cy="1554.0" r="8"/><circle cx="1274.2" cy="1512.4" r="8"/><circle cx="1281.3" cy="1557.9" r="8"/><circle cx="1271.1" cy="1551.5" r="8"/><circle cx="1267.9" cy="1557.4" r="8"/><circle cx="1269.3" cy="1488.3" r="8"/><circle cx="1272.8" cy="1556.8" r="8"/><circle cx="1282.1" cy="1548.5" r="8"/><circle cx="1283.8" cy="1559.4" r="8"/><circle cx="1281.9" cy="1562.0" r="8"/><circle cx="1266.6" cy="1518.5" r="8"/><circle cx="1268.2" cy="1537.4" r="8"/><circle cx="1266.3" cy="1552.0" r="8"/><circle cx="1284.0" cy="1545.6" r="8"/><circle cx="1282.6" cy="1304.0" r="8"/><circle cx="1268.3" cy="1560.1" r="8"/><circle cx="1263.1" cy="1470.2" r="8"/><circle cx="1268.4" cy="1510.5" r="8"/><circle cx="1262.2" cy="1404.4" r="8"/><circle cx="1269.5" cy="1496.0" r="8"/><circle cx="1261.9" cy="1558.1" r="8"/><circle cx="1273.6" cy="1490.1" r="8"/><circle cx="1271.6" cy="1555.8" r="8"/><circle cx="1266.7" cy="1463.3" r="8"/><circle cx="1264.9" cy="1529.2" r="8"/><circle cx="1279.1" cy="1556.1" r="8"/><circle cx="1266.2" cy="1512.7" r="8"/><circle cx="1263.8" cy="1561.0" r="8"/><circle cx="1272.9" cy="1525.4" r="8"/><circle cx="1266.4" cy="1551.1" r="8"/><circle cx="1277.7" cy="1525.0" r="8"/><circle cx="1274.9" cy="1495.0" r="8"/><circle cx="1263.3" cy="1555.0" r="8"/><circle cx="1271.0" cy="1509.5" r="8"/><circle cx="1263.1" cy="1511.2" r="8"/><circle cx="1269.3" cy="1495.2" r="8"/><circle cx="1281.2" cy="1487.7" r="8"/><circle cx="1262.2" cy="1536.1" r="8"/><circle cx="1272.5" cy="1464.1" r="8"/><circle cx="1267.8" cy="1478.9" r="8"/><circle cx="1280.5" cy="1555.8" r="8"/><circle cx="1265.5" cy="1545.4" r="8"/><circle cx="1275.2" cy="1545.1" r="8"/><circle cx="1273.5" cy="1564.2" r="8"/><circle cx="1273.4" cy="1539.8" r="8"/><circle cx="1277.8" cy="1559.0" r="8"/><circle cx="1281.2" cy="1493.8" r="8"/><circle cx="1277.8" cy="1548.3" r="8"/><circle cx="1278.7" cy="1544.4" r="8"/><circle cx="1281.4" cy="1561.8" r="8"/><circle cx="1272.9" cy="1436.2" r="8"/><circle cx="1273.7" cy="1534.4" r="8"/><circle cx="1262.3" cy="1532.3" r="8"/><circle cx="1266.8" cy="1421.9" r="8"/><circle cx="1264.1" cy="1556.0" r="8"/><circle cx="1280.1" cy="1552.4" r="8"/><circle cx="1264.0" cy="1563.1" r="8"/><circle cx="1266.2" cy="1514.5" r="8"/><circle cx="1275.3" cy="1563.7" r="8"/><circle cx="1273.5" cy="1528.7" r="8"/><circle cx="1264.1" cy="1513.9" r="8"/><circle cx="1277.9" cy="1479.7" r="8"/><circle cx="1264.6" cy="1562.5" r="8"/><circle cx="1273.0" cy="1536.1" r="8"/><circle cx="1264.6" cy="1550.8" r="8"/><circle cx="1264.9" cy="1542.8" r="8"/><circle cx="1281.1" cy="1527.1" r="8"/><circle cx="1274.7" cy="1557.8" r="8"/><circle cx="1265.5" cy="1507.3" r="8"/><circle cx="1282.8" cy="1491.6" r="8"/><circle cx="1271.2" cy="1543.9" r="8"/><circle cx="1273.6" cy="1488.2" r="8"/><circle cx="1282.9" cy="1543.4" r="8"/><circle cx="1269.4" cy="1502.0" r="8"/><circle cx="1269.3" cy="1553.0" r="8"/><circle cx="1283.8" cy="1540.6" r="8"/><circle cx="1282.3" cy="1496.5" r="8"/><circle cx="1280.8" cy="1494.2" r="8"/><circle cx="1273.4" cy="1562.1" r="8"/><circle cx="1282.8" cy="1432.6" r="8"/><circle cx="1271.3" cy="1552.5" r="8"/><circle cx="1270.0" cy="1522.7" r="8"/><circle cx="1263.4" cy="1532.9" r="8"/><circle cx="1273.1" cy="1540.8" r="8"/><circle cx="1265.0" cy="1563.5" r="8"/><circle cx="1279.2" cy="1418.9" r="8"/><circle cx="1276.0" cy="1449.4" r="8"/><circle cx="1281.6" cy="1495.5" r="8"/><circle cx="1262.6" cy="1474.5" r="8"/><circle cx="1267.8" cy="1521.7" r="8"/><circle cx="1268.0" cy="1517.2" r="8"/><circle cx="1282.5" cy="1531.9" r="8"/><circle cx="1267.4" cy="1524.0" r="8"/><circle cx="1271.5" cy="1533.8" r="8"/><circle cx="1268.3" cy="1439.0" r="8"/><circle cx="1276.3" cy="1549.2" r="8"/><circle cx="1275.1" cy="1559.1" r="8"/><circle cx="1273.3" cy="1434.4" r="8"/><circle cx="1272.3" cy="1551.4" r="8"/><circle cx="1265.2" cy="1532.6" r="8"/><circle cx="1264.8" cy="1558.9" r="8"/><circle cx="1270.9" cy="1549.9" r="8"/><circle cx="1267.3" cy="1550.2" r="8"/><circle cx="1274.1" cy="1560.6" r="8"/><circle cx="1275.5" cy="1488.2" r="8"/><circle cx="1276.4" cy="1529.3" r="8"/><circle cx="1277.7" cy="1555.1" r="8"/><circle cx="1274.1" cy="1538.7" r="8"/><circle cx="1272.3" cy="1524.9" r="8"/><circle cx="1267.3" cy="1548.9" r="8"/><circle cx="1273.3" cy="1554.0" r="8"/><circle cx="1274.9" cy="1544.3" r="8"/><circle cx="1269.7" cy="1563.9" r="8"/><circle cx="1267.2" cy="1482.0" r="8"/><circle cx="1272.8" cy="1530.6" r="8"/><circle cx="1284.0" cy="1550.5" r="8"/><circle cx="1279.1" cy="1549.8" r="8"/><circle cx="1263.3" cy="1557.2" r="8"/><circle cx="1271.7" cy="1479.1" r="8"/><circle cx="1270.5" cy="1561.7" r="8"/><circle cx="1278.3" cy="1540.3" r="8"/><circle cx="1266.9" cy="1559.6" r="8"/><circle cx="1278.4" cy="1431.2" r="8"/><circle cx="1269.4" cy="1557.4" r="8"/><circle cx="1277.0" cy="1546.3" r="8"/><circle cx="1280.9" cy="1524.5" r="8"/><circle cx="1273.4" cy="1492.8" r="8"/><circle cx="1278.5" cy="1508.6" r="8"/><circle cx="1272.5" cy="1505.1" r="8"/><circle cx="1277.7" cy="1500.5" r="8"/><circle cx="1261.4" cy="1564.3" r="8"/><circle cx="1263.1" cy="1564.3" r="8"/><circle cx="1264.7" cy="1563.8" r="8"/><circle cx="1266.4" cy="1563.9" r="8"/><circle cx="1268.0" cy="1564.4" r="8"/><circle cx="1269.7" cy="1563.8" r="8"/><circle cx="1271.3" cy="1563.8" r="8"/><circle cx="1273.0" cy="1564.0" r="8"/><circle cx="1274.7" cy="1564.4" r="8"/><circle cx="1276.3" cy="1563.8" r="8"/><circle cx="1278.0" cy="1564.0" r="8"/><circle cx="1279.6" cy="1563.9" r="8"/><circle cx="1281.3" cy="1563.5" r="8"/><circle cx="1282.9" cy="1563.7" r="8"/><circle cx="1284.6" cy="1563.6" r="8"/><circle cx="1286.2" cy="1564.3" r="8"/><circle cx="1261.9" cy="1548.0" r="8"/><circle cx="1262.2" cy="1533.2" r="8"/><circle cx="1262.0" cy="1556.1" r="8"/><circle cx="1261.9" cy="1556.4" r="8"/><circle cx="1261.5" cy="1546.9" r="8"/><circle cx="1261.8" cy="1551.1" r="8"/><circle cx="1262.1" cy="1554.8" r="8"/><circle cx="1261.5" cy="1539.1" r="8"/><circle cx="1261.5" cy="1556.3" r="8"/><circle cx="1262.0" cy="1562.8" r="8"/><circle cx="1261.8" cy="1552.6" r="8"/><circle cx="1261.8" cy="1549.0" r="8"/><circle cx="1261.7" cy="1552.9" r="8"/><circle cx="1261.6" cy="1558.1" r="8"/><circle cx="1261.5" cy="1546.8" r="8"/><circle cx="1285.5" cy="1554.5" r="8"/><circle cx="1285.9" cy="1551.5" r="8"/><circle cx="1285.9" cy="1554.2" r="8"/><circle cx="1285.7" cy="1539.3" r="8"/><circle cx="1285.7" cy="1542.0" r="8"/><circle cx="1286.1" cy="1545.7" r="8"/><circle cx="1285.8" cy="1534.9" r="8"/><circle cx="1285.8" cy="1536.7" r="8"/><circle cx="1285.5" cy="1550.7" r="8"/><circle cx="1286.0" cy="1562.9" r="8"/><circle cx="1286.1" cy="1562.1" r="8"/><circle cx="1285.9" cy="1558.7" r="8"/><circle cx="1286.2" cy="1546.7" r="8"/><circle cx="1286.1" cy="1548.7" r="8"/><circle cx="1286.0" cy="1543.1" r="8"/><circle cx="220.1" cy="1471.6" r="8"/><circle cx="218.8" cy="1488.2" r="8"/><circle cx="213.6" cy="1499.8" r="8"/><circle cx="226.6" cy="1507.6" r="8"/><circle cx="203.3" cy="1511.5" r="8"/><circle cx="203.3" cy="1537.4" r="8"/><circle cx="228.0" cy="1530.0" r="8"/><circle cx="204.0" cy="1545.0" r="8"/><circle cx="231.0" cy="1543.0" r="8"/><circle cx="204.2" cy="1564.1" r="8"/><circle cx="206.1" cy="1564.3" r="8"/><circle cx="208.0" cy="1563.8" r="8"/><circle cx="209.9" cy="1563.7" r="8"/><circle cx="211.8" cy="1564.1" r="8"/><circle cx="213.7" cy="1563.9" r="8"/><circle cx="215.6" cy="1563.7" r="8"/><circle cx="217.6" cy="1563.7" r="8"/><circle cx="219.5" cy="1564.4" r="8"/><circle cx="221.4" cy="1564.0" r="8"/><circle cx="223.3" cy="1564.4" r="8"/><circle cx="225.2" cy="1564.3" r="8"/><circle cx="227.1" cy="1563.7" r="8"/><circle cx="229.0" cy="1564.0" r="8"/><circle cx="204.5" cy="1564.4" r="8"/><circle cx="204.7" cy="1563.4" r="8"/><circle cx="204.7" cy="1562.0" r="8"/><circle cx="204.5" cy="1561.2" r="8"/><circle cx="204.9" cy="1560.2" r="8"/><circle cx="204.4" cy="1558.9" r="8"/><circle cx="204.5" cy="1557.3" r="8"/><circle cx="204.9" cy="1556.3" r="8"/><circle cx="204.9" cy="1554.9" r="8"/><circle cx="204.8" cy="1554.9" r="8"/><circle cx="204.2" cy="1553.7" r="8"/><circle cx="204.8" cy="1551.2" r="8"/><circle cx="204.5" cy="1550.0" r="8"/><circle cx="204.7" cy="1550.0" r="8"/><circle cx="229.0" cy="1564.4" r="8"/><circle cx="229.0" cy="1563.4" r="8"/><circle cx="228.9" cy="1562.4" r="8"/><circle cx="228.6" cy="1561.4" r="8"/><circle cx="228.4" cy="1559.5" r="8"/><circle cx="228.6" cy="1558.5" r="8"/><circle cx="228.4" cy="1558.0" r="8"/><circle cx="228.3" cy="1556.6" r="8"/><circle cx="228.9" cy="1555.5" r="8"/><circle cx="228.5" cy="1553.5" r="8"/><circle cx="228.9" cy="1552.9" r="8"/><circle cx="228.3" cy="1551.9" r="8"/><circle cx="228.6" cy="1549.8" r="8"/><circle cx="228.5" cy="1549.5" r="8"/><circle cx="217.2" cy="1563.6" r="8"/><circle cx="216.6" cy="1562.4" r="8"/><circle cx="205.6" cy="1547.6" r="8"/><circle cx="218.0" cy="1562.9" r="8"/><circle cx="226.3" cy="1551.5" r="8"/><circle cx="205.1" cy="1562.8" r="8"/><circle cx="227.8" cy="1562.0" r="8"/><circle cx="218.8" cy="1564.1" r="8"/><circle cx="213.9" cy="1563.6" r="8"/><circle cx="211.2" cy="1563.0" r="8"/><circle cx="217.7" cy="1563.8" r="8"/><circle cx="220.3" cy="1547.6" r="8"/><circle cx="213.6" cy="1562.9" r="8"/><circle cx="221.3" cy="1562.9" r="8"/><circle cx="218.5" cy="1561.6" r="8"/><circle cx="212.8" cy="1562.7" r="8"/><circle cx="226.0" cy="1555.5" r="8"/><circle cx="208.4" cy="1551.7" r="8"/><circle cx="211.6" cy="1563.5" r="8"/><circle cx="228.1" cy="1547.8" r="8"/><circle cx="227.6" cy="1559.1" r="8"/><circle cx="215.1" cy="1558.9" r="8"/><circle cx="214.0" cy="1559.9" r="8"/><circle cx="210.8" cy="1547.8" r="8"/><circle cx="215.4" cy="1548.8" r="8"/><circle cx="223.5" cy="1563.0" r="8"/><circle cx="223.0" cy="1561.8" r="8"/><circle cx="220.8" cy="1554.8" r="8"/><circle cx="213.2" cy="1563.8" r="8"/><circle cx="211.4" cy="1563.3" r="8"/><circle cx="223.3" cy="1563.8" r="8"/><circle cx="218.2" cy="1550.2" r="8"/><circle cx="210.8" cy="1548.2" r="8"/><circle cx="217.8" cy="1563.2" r="8"/><circle cx="214.4" cy="1562.9" r="8"/><circle cx="211.8" cy="1564.2" r="8"/><circle cx="219.9" cy="1562.3" r="8"/><circle cx="214.0" cy="1562.7" r="8"/><circle cx="212.7" cy="1562.8" r="8"/><circle cx="212.9" cy="1550.5" r="8"/><circle cx="217.4" cy="1549.4" r="8"/><circle cx="226.6" cy="1552.9" r="8"/><circle cx="205.8" cy="1558.6" r="8"/><circle cx="225.3" cy="1555.8" r="8"/><circle cx="214.2" cy="1563.2" r="8"/><circle cx="225.2" cy="1559.7" r="8"/><circle cx="207.9" cy="1562.6" r="8"/><circle cx="216.6" cy="1562.8" r="8"/><circle cx="222.6" cy="1562.5" r="8"/><circle cx="220.1" cy="1544.0" r="8"/><circle cx="207.8" cy="1545.0" r="8"/><circle cx="221.1" cy="1541.6" r="8"/><circle cx="211.8" cy="1539.7" r="8"/><circle cx="217.9" cy="1521.7" r="8"/><circle cx="211.3" cy="1544.0" r="8"/><circle cx="212.1" cy="1528.6" r="8"/><circle cx="219.0" cy="1523.3" r="8"/><circle cx="224.0" cy="1546.7" r="8"/><circle cx="220.3" cy="1533.4" r="8"/><circle cx="221.0" cy="1522.0" r="8"/><circle cx="207.7" cy="1532.4" r="8"/><circle cx="208.8" cy="1540.1" r="8"/><circle cx="209.0" cy="1530.8" r="8"/><circle cx="217.7" cy="1535.7" r="8"/><circle cx="205.9" cy="1543.7" r="8"/><circle cx="207.5" cy="1544.1" r="8"/><circle cx="218.7" cy="1529.1" r="8"/><circle cx="213.5" cy="1532.8" r="8"/><circle cx="210.7" cy="1538.7" r="8"/><circle cx="209.9" cy="1543.4" r="8"/><circle cx="223.8" cy="1544.3" r="8"/><circle cx="277.8" cy="1499.1" r="8"/><circle cx="281.4" cy="1508.4" r="8"/><circle cx="265.8" cy="1564.0" r="8"/><circle cx="267.8" cy="1564.4" r="8"/><circle cx="269.8" cy="1564.0" r="8"/><circle cx="271.8" cy="1563.8" r="8"/><circle cx="273.8" cy="1563.9" r="8"/><circle cx="275.8" cy="1564.2" r="8"/><circle cx="277.8" cy="1564.0" r="8"/><circle cx="279.8" cy="1563.9" r="8"/><circle cx="281.8" cy="1563.8" r="8"/><circle cx="283.8" cy="1564.3" r="8"/><circle cx="285.8" cy="1563.7" r="8"/><circle cx="287.8" cy="1563.6" r="8"/><circle cx="289.8" cy="1563.8" r="8"/><circle cx="291.8" cy="1563.7" r="8"/><circle cx="266.3" cy="1564.4" r="8"/><circle cx="266.4" cy="1563.3" r="8"/><circle cx="266.1" cy="1562.0" r="8"/><circle cx="266.5" cy="1561.3" r="8"/><circle cx="266.5" cy="1560.0" r="8"/><circle cx="266.5" cy="1559.2" r="8"/><circle cx="266.0" cy="1557.6" r="8"/><circle cx="265.8" cy="1556.7" r="8"/><circle cx="266.0" cy="1556.4" r="8"/><circle cx="265.8" cy="1554.9" r="8"/><circle cx="266.2" cy="1553.2" r="8"/><circle cx="265.8" cy="1552.1" r="8"/><circle cx="265.8" cy="1550.6" r="8"/><circle cx="266.4" cy="1548.8" r="8"/><circle cx="266.4" cy="1547.0" r="8"/><circle cx="291.4" cy="1564.4" r="8"/><circle cx="291.8" cy="1563.3" r="8"/><circle cx="291.3" cy="1562.2" r="8"/><circle cx="291.5" cy="1561.4" r="8"/><circle cx="291.3" cy="1560.3" r="8"/><circle cx="291.7" cy="1559.4" r="8"/><circle cx="291.5" cy="1558.0" r="8"/><circle cx="291.4" cy="1556.5" r="8"/><circle cx="291.6" cy="1556.2" r="8"/><circle cx="291.2" cy="1555.2" r="8"/><circle cx="291.8" cy="1554.1" r="8"/><circle cx="291.1" cy="1552.0" r="8"/><circle cx="291.5" cy="1549.8" r="8"/><circle cx="291.1" cy="1550.7" r="8"/><circle cx="291.1" cy="1548.4" r="8"/><circle cx="288.9" cy="1556.8" r="8"/><circle cx="290.7" cy="1562.5" r="8"/><circle cx="276.4" cy="1546.8" r="8"/><circle cx="268.5" cy="1547.3" r="8"/><circle cx="273.3" cy="1559.0" r="8"/><circle cx="276.7" cy="1562.5" r="8"/><circle cx="286.8" cy="1548.6" r="8"/><circle cx="268.8" cy="1563.3" r="8"/><circle cx="281.0" cy="1552.1" r="8"/><circle cx="290.8" cy="1562.5" r="8"/><circle cx="289.1" cy="1563.0" r="8"/><circle cx="283.8" cy="1561.0" r="8"/><circle cx="275.3" cy="1560.0" r="8"/><circle cx="267.7" cy="1551.8" r="8"/><circle cx="278.1" cy="1563.1" r="8"/><circle cx="266.0" cy="1562.7" r="8"/><circle cx="284.2" cy="1551.8" r="8"/><circle cx="290.7" cy="1564.0" r="8"/><circle cx="277.0" cy="1563.9" r="8"/><circle cx="276.4" cy="1564.0" r="8"/><circle cx="271.8" cy="1562.5" r="8"/><circle cx="283.0" cy="1563.6" r="8"/><circle cx="271.6" cy="1564.1" r="8"/><circle cx="266.7" cy="1559.4" r="8"/><circle cx="276.7" cy="1556.8" r="8"/><circle cx="290.3" cy="1553.5" r="8"/><circle cx="284.1" cy="1557.8" r="8"/><circle cx="278.3" cy="1561.1" r="8"/><circle cx="270.0" cy="1551.8" r="8"/><circle cx="285.7" cy="1546.4" r="8"/><circle cx="282.3" cy="1563.0" r="8"/><circle cx="270.9" cy="1562.3" r="8"/><circle cx="272.4" cy="1563.8" r="8"/><circle cx="287.9" cy="1563.1" r="8"/><circle cx="270.9" cy="1563.1" r="8"/><circle cx="284.7" cy="1554.4" r="8"/><circle cx="265.9" cy="1563.1" r="8"/><circle cx="265.9" cy="1551.4" r="8"/><circle cx="284.3" cy="1559.5" r="8"/><circle cx="268.8" cy="1564.4" r="8"/><circle cx="269.7" cy="1562.3" r="8"/><circle cx="274.1" cy="1554.7" r="8"/><circle cx="272.5" cy="1555.5" r="8"/><circle cx="270.0" cy="1562.8" r="8"/><circle cx="283.9" cy="1552.8" r="8"/><circle cx="284.7" cy="1549.6" r="8"/><circle cx="270.7" cy="1555.2" r="8"/><circle cx="267.1" cy="1563.2" r="8"/><circle cx="275.8" cy="1551.5" r="8"/><circle cx="286.5" cy="1563.9" r="8"/><circle cx="268.6" cy="1543.4" r="8"/><circle cx="271.3" cy="1540.4" r="8"/><circle cx="286.3" cy="1542.1" r="8"/><circle cx="272.0" cy="1543.2" r="8"/><circle cx="282.2" cy="1529.8" r="8"/><circle cx="270.1" cy="1540.0" r="8"/><circle cx="280.6" cy="1532.9" r="8"/><circle cx="281.6" cy="1530.3" r="8"/><circle cx="273.5" cy="1534.1" r="8"/><circle cx="279.6" cy="1537.7" r="8"/><circle cx="267.1" cy="1542.3" r="8"/><circle cx="271.9" cy="1542.3" r="8"/><circle cx="281.9" cy="1535.2" r="8"/><circle cx="281.6" cy="1541.9" r="8"/><circle cx="271.2" cy="1544.6" r="8"/><circle cx="282.5" cy="1535.6" r="8"/><circle cx="271.2" cy="1534.5" r="8"/><circle cx="284.7" cy="1533.7" r="8"/><circle cx="284.3" cy="1543.7" r="8"/><circle cx="286.4" cy="1545.3" r="8"/><circle cx="274.6" cy="1535.6" r="8"/><circle cx="267.8" cy="1542.3" r="8"/><circle cx="331.4" cy="1561.2" r="8"/><circle cx="398.2" cy="714.7" r="8"/><circle cx="404.1" cy="1218.5" r="8"/><circle cx="403.1" cy="1344.3" r="8"/><circle cx="411.6" cy="1367.1" r="8"/><circle cx="403.1" cy="1518.5" r="8"/><circle cx="392.7" cy="1529.6" r="8"/><circle cx="390.8" cy="1564.1" r="8"/><circle cx="392.7" cy="1564.1" r="8"/><circle cx="394.6" cy="1563.6" r="8"/><circle cx="396.5" cy="1563.7" r="8"/><circle cx="398.4" cy="1563.6" r="8"/><circle cx="400.3" cy="1563.9" r="8"/><circle cx="402.2" cy="1564.3" r="8"/><circle cx="404.1" cy="1564.2" r="8"/><circle cx="406.0" cy="1564.1" r="8"/><circle cx="407.9" cy="1563.8" r="8"/><circle cx="409.8" cy="1564.4" r="8"/><circle cx="411.8" cy="1563.7" r="8"/><circle cx="413.7" cy="1563.7" r="8"/><circle cx="415.6" cy="1564.0" r="8"/><circle cx="391.5" cy="1564.4" r="8"/><circle cx="391.2" cy="1563.5" r="8"/><circle cx="391.1" cy="1562.6" r="8"/><circle cx="391.2" cy="1561.6" r="8"/><circle cx="390.8" cy="1560.6" r="8"/><circle cx="391.1" cy="1560.3" r="8"/><circle cx="391.2" cy="1559.5" r="8"/><circle cx="390.8" cy="1558.0" r="8"/><circle cx="390.9" cy="1557.0" r="8"/><circle cx="415.6" cy="1564.4" r="8"/><circle cx="415.1" cy="1563.5" r="8"/><circle cx="415.0" cy="1562.6" r="8"/><circle cx="414.9" cy="1561.6" r="8"/><circle cx="415.2" cy="1561.1" r="8"/><circle cx="415.5" cy="1560.5" r="8"/><circle cx="415.5" cy="1558.9" r="8"/><circle cx="414.9" cy="1558.0" r="8"/><circle cx="415.3" cy="1556.9" r="8"/><circle cx="413.9" cy="1560.7" r="8"/><circle cx="393.3" cy="1557.7" r="8"/><circle cx="412.4" cy="1563.4" r="8"/><circle cx="397.1" cy="1558.1" r="8"/><circle cx="393.2" cy="1563.0" r="8"/><circle cx="396.1" cy="1558.2" r="8"/><circle cx="400.0" cy="1563.8" r="8"/><circle cx="415.5" cy="1562.4" r="8"/><circle cx="410.8" cy="1559.5" r="8"/><circle cx="412.2" cy="1563.4" r="8"/><circle cx="402.5" cy="1556.2" r="8"/><circle cx="394.4" cy="1558.0" r="8"/><circle cx="415.3" cy="1564.3" r="8"/><circle cx="394.0" cy="1558.0" r="8"/><circle cx="396.9" cy="1563.6" r="8"/><circle cx="402.6" cy="1564.3" r="8"/><circle cx="412.9" cy="1557.1" r="8"/><circle cx="402.4" cy="1560.4" r="8"/><circle cx="399.3" cy="1562.8" r="8"/><circle cx="394.2" cy="1564.0" r="8"/><circle cx="395.4" cy="1564.1" r="8"/><circle cx="394.8" cy="1561.5" r="8"/><circle cx="410.3" cy="1563.4" r="8"/><circle cx="396.3" cy="1556.5" r="8"/><circle cx="414.9" cy="1563.1" r="8"/><circle cx="404.0" cy="1563.0" r="8"/><circle cx="393.2" cy="1563.4" r="8"/><circle cx="407.7" cy="1562.7" r="8"/><circle cx="402.3" cy="1563.9" r="8"/><circle cx="413.7" cy="1562.3" r="8"/><circle cx="404.5" cy="1558.5" r="8"/><circle cx="394.2" cy="1563.0" r="8"/><circle cx="397.4" cy="1560.2" r="8"/><circle cx="409.7" cy="1559.6" r="8"/><circle cx="412.7" cy="1563.0" r="8"/><circle cx="415.1" cy="1556.1" r="8"/><circle cx="414.7" cy="1559.4" r="8"/><circle cx="398.6" cy="1559.7" r="8"/><circle cx="393.8" cy="1562.6" r="8"/><circle cx="405.4" cy="1545.1" r="8"/><circle cx="412.5" cy="1550.1" r="8"/><circle cx="400.1" cy="1551.8" r="8"/><circle cx="406.4" cy="1555.2" r="8"/><circle cx="410.6" cy="1549.8" r="8"/><circle cx="400.1" cy="1551.6" r="8"/><circle cx="398.9" cy="1550.7" r="8"/><circle cx="396.9" cy="1555.4" r="8"/><circle cx="392.5" cy="1555.5" r="8"/><circle cx="403.7" cy="1535.1" r="8"/><circle cx="403.3" cy="1543.2" r="8"/><circle cx="408.0" cy="1540.7" r="8"/><circle cx="407.2" cy="1551.6" r="8"/><circle cx="415.1" cy="1554.9" r="8"/><circle cx="453.0" cy="1564.0" r="8"/><circle cx="454.9" cy="1564.0" r="8"/><circle cx="456.8" cy="1563.8" r="8"/><circle cx="458.7" cy="1564.2" r="8"/><circle cx="460.6" cy="1563.9" r="8"/><circle cx="462.5" cy="1564.2" r="8"/><circle cx="464.4" cy="1563.7" r="8"/><circle cx="466.3" cy="1563.8" r="8"/><circle cx="468.2" cy="1563.7" r="8"/><circle cx="470.1" cy="1564.0" r="8"/><circle cx="472.0" cy="1564.2" r="8"/><circle cx="473.9" cy="1563.6" r="8"/><circle cx="475.9" cy="1564.0" r="8"/><circle cx="477.8" cy="1564.1" r="8"/><circle cx="453.5" cy="1564.4" r="8"/><circle cx="453.2" cy="1563.7" r="8"/><circle cx="453.3" cy="1563.0" r="8"/><circle cx="453.5" cy="1562.5" r="8"/><circle cx="453.4" cy="1561.9" r="8"/><circle cx="453.4" cy="1561.0" r="8"/><circle cx="477.6" cy="1564.4" r="8"/><circle cx="477.2" cy="1563.7" r="8"/><circle cx="477.5" cy="1563.1" r="8"/><circle cx="477.5" cy="1562.4" r="8"/><circle cx="477.2" cy="1562.1" r="8"/><circle cx="477.3" cy="1561.5" r="8"/><circle cx="469.6" cy="1563.3" r="8"/><circle cx="458.6" cy="1562.7" r="8"/><circle cx="472.7" cy="1563.9" r="8"/><circle cx="462.1" cy="1563.4" r="8"/><circle cx="470.6" cy="1562.3" r="8"/><circle cx="474.5" cy="1562.6" r="8"/><circle cx="460.7" cy="1562.6" r="8"/><circle cx="456.9" cy="1564.0" r="8"/><circle cx="474.1" cy="1560.4" r="8"/><circle cx="475.1" cy="1560.7" r="8"/><circle cx="472.1" cy="1563.6" r="8"/><circle cx="475.3" cy="1563.9" r="8"/><circle cx="467.7" cy="1562.7" r="8"/><circle cx="462.6" cy="1564.3" r="8"/><circle cx="462.2" cy="1564.4" r="8"/><circle cx="469.8" cy="1563.7" r="8"/><circle cx="453.5" cy="1564.0" r="8"/><circle cx="460.2" cy="1563.1" r="8"/><circle cx="475.5" cy="1560.7" r="8"/><circle cx="467.2" cy="1561.9" r="8"/><circle cx="461.0" cy="1564.2" r="8"/><circle cx="465.6" cy="1563.1" r="8"/><circle cx="460.7" cy="1563.5" r="8"/><circle cx="475.3" cy="1562.8" r="8"/><circle cx="458.9" cy="1560.2" r="8"/><circle cx="467.5" cy="1563.9" r="8"/><circle cx="472.7" cy="1564.2" r="8"/><circle cx="472.2" cy="1563.8" r="8"/><circle cx="454.3" cy="1560.2" r="8"/><circle cx="468.5" cy="1563.4" r="8"/><circle cx="466.6" cy="1562.6" r="8"/><circle cx="455.6" cy="1561.0" r="8"/><circle cx="463.9" cy="1561.2" r="8"/><circle cx="464.4" cy="1564.2" r="8"/><circle cx="455.3" cy="1564.4" r="8"/><circle cx="463.7" cy="1562.8" r="8"/><circle cx="470.4" cy="1563.2" r="8"/><circle cx="457.2" cy="1560.2" r="8"/><circle cx="462.2" cy="1562.3" r="8"/><circle cx="474.7" cy="1563.9" r="8"/><circle cx="468.2" cy="1563.0" r="8"/><circle cx="455.1" cy="1563.2" r="8"/><circle cx="455.8" cy="1563.6" r="8"/><circle cx="461.1" cy="1563.3" r="8"/><circle cx="461.4" cy="1560.8" r="8"/><circle cx="461.9" cy="1560.3" r="8"/><circle cx="469.4" cy="1563.7" r="8"/><circle cx="463.0" cy="1563.4" r="8"/><circle cx="464.3" cy="1561.0" r="8"/><circle cx="471.2" cy="1563.6" r="8"/><circle cx="462.2" cy="1552.9" r="8"/><circle cx="469.8" cy="1559.9" r="8"/><circle cx="465.3" cy="1558.6" r="8"/><circle cx="459.4" cy="1557.4" r="8"/><circle cx="467.6" cy="1555.1" r="8"/><circle cx="460.0" cy="1558.7" r="8"/><circle cx="457.5" cy="1558.4" r="8"/><circle cx="458.4" cy="1558.2" r="8"/><circle cx="461.6" cy="1557.6" r="8"/><circle cx="457.8" cy="1557.9" r="8"/><circle cx="467.7" cy="1557.5" r="8"/><circle cx="462.6" cy="1554.6" r="8"/><circle cx="466.4" cy="1558.6" r="8"/><circle cx="471.3" cy="1558.2" r="8"/><circle cx="538.4" cy="1564.6" r="8"/><circle cx="583.9" cy="1564.3" r="8"/><circle cx="587.4" cy="1563.0" r="8"/><circle cx="583.1" cy="1564.3" r="8"/><circle cx="583.2" cy="1563.8" r="8"/><circle cx="590.5" cy="1563.9" r="8"/><circle cx="589.8" cy="1564.0" r="8"/><circle cx="579.6" cy="1563.1" r="8"/><circle cx="583.4" cy="1562.5" r="8"/><circle cx="595.4" cy="1564.4" r="8"/><circle cx="590.5" cy="1563.8" r="8"/><circle cx="595.6" cy="1564.2" r="8"/><circle cx="594.5" cy="1564.1" r="8"/><circle cx="591.3" cy="1564.2" r="8"/><circle cx="587.0" cy="1563.7" r="8"/><circle cx="580.6" cy="1563.9" r="8"/><circle cx="593.8" cy="1563.7" r="8"/><circle cx="590.8" cy="1564.3" r="8"/><circle cx="581.4" cy="1563.5" r="8"/><circle cx="597.5" cy="1563.1" r="8"/><circle cx="584.5" cy="1564.4" r="8"/><circle cx="584.5" cy="1564.3" r="8"/><circle cx="589.5" cy="1564.3" r="8"/><circle cx="585.5" cy="1564.2" r="8"/><circle cx="587.0" cy="1564.0" r="8"/><circle cx="594.4" cy="1563.3" r="8"/><circle cx="583.9" cy="1564.3" r="8"/><circle cx="586.2" cy="1564.4" r="8"/><circle cx="593.9" cy="1564.3" r="8"/><circle cx="600.2" cy="1563.3" r="8"/><circle cx="580.0" cy="1564.2" r="8"/><circle cx="587.9" cy="1563.4" r="8"/><circle cx="587.5" cy="1562.5" r="8"/><circle cx="580.8" cy="1564.1" r="8"/><circle cx="590.0" cy="1562.3" r="8"/><circle cx="588.4" cy="1564.0" r="8"/><circle cx="596.7" cy="1563.4" r="8"/><circle cx="583.0" cy="1563.9" r="8"/><circle cx="598.0" cy="1564.0" r="8"/><circle cx="593.1" cy="1564.0" r="8"/><circle cx="588.9" cy="1563.8" r="8"/><circle cx="584.4" cy="1563.8" r="8"/><circle cx="597.4" cy="1563.8" r="8"/><circle cx="587.0" cy="1564.3" r="8"/><circle cx="599.8" cy="1562.9" r="8"/><circle cx="592.4" cy="1564.4" r="8"/><circle cx="596.9" cy="1563.7" r="8"/><circle cx="582.0" cy="1563.9" r="8"/><circle cx="594.2" cy="1564.1" r="8"/><circle cx="583.5" cy="1563.5" r="8"/><circle cx="593.0" cy="1563.7" r="8"/><circle cx="579.7" cy="1563.6" r="8"/><circle cx="586.1" cy="1564.0" r="8"/><circle cx="586.3" cy="1563.7" r="8"/><circle cx="593.3" cy="1564.3" r="8"/><circle cx="595.8" cy="1564.2" r="8"/><circle cx="590.7" cy="1564.1" r="8"/><circle cx="581.7" cy="1563.2" r="8"/><circle cx="580.7" cy="1563.5" r="8"/><circle cx="579.8" cy="1562.4" r="8"/><circle cx="587.0" cy="1563.5" r="8"/><circle cx="596.2" cy="1559.0" r="8"/><circle cx="637.5" cy="1563.7" r="8"/><circle cx="639.4" cy="1564.4" r="8"/><circle cx="641.3" cy="1563.8" r="8"/><circle cx="643.3" cy="1564.3" r="8"/><circle cx="645.2" cy="1563.6" r="8"/><circle cx="647.1" cy="1564.0" r="8"/><circle cx="649.0" cy="1563.9" r="8"/><circle cx="650.9" cy="1563.7" r="8"/><circle cx="652.8" cy="1564.3" r="8"/><circle cx="654.7" cy="1564.3" r="8"/><circle cx="656.6" cy="1563.8" r="8"/><circle cx="658.5" cy="1563.9" r="8"/><circle cx="660.4" cy="1563.8" r="8"/><circle cx="662.3" cy="1564.2" r="8"/><circle cx="637.9" cy="1564.4" r="8"/><circle cx="637.9" cy="1563.9" r="8"/><circle cx="637.8" cy="1563.4" r="8"/><circle cx="638.1" cy="1562.8" r="8"/><circle cx="638.2" cy="1562.2" r="8"/><circle cx="662.0" cy="1564.4" r="8"/><circle cx="661.7" cy="1563.9" r="8"/><circle cx="662.0" cy="1563.3" r="8"/><circle cx="661.9" cy="1562.9" r="8"/><circle cx="662.3" cy="1562.4" r="8"/><circle cx="662.1" cy="1562.5" r="8"/><circle cx="657.7" cy="1563.8" r="8"/><circle cx="662.3" cy="1564.0" r="8"/><circle cx="651.4" cy="1562.7" r="8"/><circle cx="641.9" cy="1561.9" r="8"/><circle cx="642.3" cy="1562.6" r="8"/><circle cx="639.9" cy="1562.4" r="8"/><circle cx="649.3" cy="1564.2" r="8"/><circle cx="638.6" cy="1562.9" r="8"/><circle cx="647.2" cy="1561.6" r="8"/><circle cx="654.8" cy="1563.3" r="8"/><circle cx="647.5" cy="1563.0" r="8"/><circle cx="642.2" cy="1562.9" r="8"/><circle cx="656.8" cy="1562.3" r="8"/><circle cx="658.3" cy="1563.4" r="8"/><circle cx="655.3" cy="1562.3" r="8"/><circle cx="659.3" cy="1562.6" r="8"/><circle cx="649.3" cy="1562.1" r="8"/><circle cx="657.3" cy="1563.3" r="8"/><circle cx="654.1" cy="1562.6" r="8"/><circle cx="644.7" cy="1559.0" r="8"/><circle cx="643.9" cy="1560.5" r="8"/><circle cx="642.8" cy="1559.7" r="8"/><circle cx="653.2" cy="1558.9" r="8"/><circle cx="655.6" cy="1559.3" r="8"/><circle cx="770.1" cy="1510.5" r="8"/><circle cx="769.5" cy="1522.5" r="8"/><circle cx="762.0" cy="1537.0" r="8"/><circle cx="789.0" cy="1541.0" r="8"/><circle cx="763.9" cy="1563.7" r="8"/><circle cx="765.8" cy="1563.7" r="8"/><circle cx="767.7" cy="1564.2" r="8"/><circle cx="769.6" cy="1563.6" r="8"/><circle cx="771.5" cy="1563.7" r="8"/><circle cx="773.4" cy="1564.2" r="8"/><circle cx="775.4" cy="1564.4" r="8"/><circle cx="777.3" cy="1563.7" r="8"/><circle cx="779.2" cy="1563.7" r="8"/><circle cx="781.1" cy="1564.3" r="8"/><circle cx="783.0" cy="1563.7" r="8"/><circle cx="784.9" cy="1563.7" r="8"/><circle cx="786.8" cy="1563.9" r="8"/><circle cx="788.7" cy="1563.7" r="8"/><circle cx="763.9" cy="1564.4" r="8"/><circle cx="764.0" cy="1563.5" r="8"/><circle cx="764.4" cy="1562.6" r="8"/><circle cx="764.1" cy="1561.6" r="8"/><circle cx="764.2" cy="1561.1" r="8"/><circle cx="764.5" cy="1560.1" r="8"/><circle cx="764.6" cy="1558.8" r="8"/><circle cx="764.0" cy="1558.7" r="8"/><circle cx="764.1" cy="1557.2" r="8"/><circle cx="788.1" cy="1564.4" r="8"/><circle cx="788.5" cy="1563.6" r="8"/><circle cx="788.0" cy="1562.8" r="8"/><circle cx="788.5" cy="1561.8" r="8"/><circle cx="788.6" cy="1561.2" r="8"/><circle cx="788.0" cy="1560.2" r="8"/><circle cx="788.6" cy="1559.6" r="8"/><circle cx="788.0" cy="1558.0" r="8"/><circle cx="788.0" cy="1557.3" r="8"/><circle cx="780.4" cy="1562.3" r="8"/><circle cx="775.1" cy="1563.5" r="8"/><circle cx="769.9" cy="1561.5" r="8"/><circle cx="783.4" cy="1562.9" r="8"/><circle cx="767.1" cy="1558.4" r="8"/><circle cx="770.9" cy="1561.9" r="8"/><circle cx="772.0" cy="1563.9" r="8"/><circle cx="779.7" cy="1557.0" r="8"/><circle cx="786.8" cy="1561.1" r="8"/><circle cx="778.0" cy="1563.4" r="8"/><circle cx="770.3" cy="1563.8" r="8"/><circle cx="783.0" cy="1560.1" r="8"/><circle cx="788.5" cy="1560.7" r="8"/><circle cx="784.7" cy="1561.1" r="8"/><circle cx="767.0" cy="1563.6" r="8"/><circle cx="786.8" cy="1562.8" r="8"/><circle cx="776.7" cy="1563.7" r="8"/><circle cx="775.5" cy="1560.6" r="8"/><circle cx="786.9" cy="1562.5" r="8"/><circle cx="767.4" cy="1556.1" r="8"/><circle cx="785.5" cy="1563.0" r="8"/><circle cx="764.5" cy="1555.9" r="8"/><circle cx="773.2" cy="1562.6" r="8"/><circle cx="782.6" cy="1563.9" r="8"/><circle cx="768.8" cy="1560.9" r="8"/><circle cx="766.1" cy="1562.8" r="8"/><circle cx="773.2" cy="1563.9" r="8"/><circle cx="786.0" cy="1559.4" r="8"/><circle cx="773.0" cy="1563.0" r="8"/><circle cx="776.8" cy="1563.8" r="8"/><circle cx="788.3" cy="1560.6" r="8"/><circle cx="774.3" cy="1561.4" r="8"/><circle cx="778.6" cy="1556.3" r="8"/><circle cx="770.1" cy="1560.7" r="8"/><circle cx="775.0" cy="1560.2" r="8"/><circle cx="769.0" cy="1563.2" r="8"/><circle cx="772.5" cy="1563.0" r="8"/><circle cx="769.8" cy="1562.5" r="8"/><circle cx="777.2" cy="1563.4" r="8"/><circle cx="767.0" cy="1550.0" r="8"/><circle cx="778.5" cy="1539.8" r="8"/><circle cx="773.7" cy="1552.1" r="8"/><circle cx="784.0" cy="1554.9" r="8"/><circle cx="768.7" cy="1546.1" r="8"/><circle cx="779.5" cy="1550.3" r="8"/><circle cx="768.9" cy="1544.5" r="8"/><circle cx="767.0" cy="1549.3" r="8"/><circle cx="779.1" cy="1552.7" r="8"/><circle cx="775.4" cy="1545.6" r="8"/><circle cx="771.1" cy="1544.7" r="8"/><circle cx="781.2" cy="1543.4" r="8"/><circle cx="780.5" cy="1548.8" r="8"/><circle cx="781.9" cy="1547.0" r="8"/><circle cx="779.6" cy="1550.9" r="8"/><circle cx="777.5" cy="1547.8" r="8"/><circle cx="783.8" cy="1543.7" r="8"/><circle cx="777.0" cy="1551.9" r="8"/><circle cx="767.7" cy="1551.5" r="8"/><circle cx="771.5" cy="1546.7" r="8"/><circle cx="827.5" cy="1513.2" r="8"/><circle cx="849.4" cy="1542.2" r="8"/><circle cx="825.0" cy="1549.4" r="8"/><circle cx="826.1" cy="1563.9" r="8"/><circle cx="828.0" cy="1564.0" r="8"/><circle cx="829.9" cy="1563.7" r="8"/><circle cx="831.8" cy="1563.9" r="8"/><circle cx="833.7" cy="1564.3" r="8"/><circle cx="835.6" cy="1564.0" r="8"/><circle cx="837.5" cy="1564.0" r="8"/><circle cx="839.5" cy="1564.0" r="8"/><circle cx="841.4" cy="1563.9" r="8"/><circle cx="843.3" cy="1564.1" r="8"/><circle cx="845.2" cy="1564.1" r="8"/><circle cx="847.1" cy="1564.0" r="8"/><circle cx="849.0" cy="1564.1" r="8"/><circle cx="850.9" cy="1563.6" r="8"/><circle cx="826.8" cy="1564.4" r="8"/><circle cx="826.3" cy="1563.9" r="8"/><circle cx="826.5" cy="1563.3" r="8"/><circle cx="826.6" cy="1562.9" r="8"/><circle cx="826.8" cy="1562.2" r="8"/><circle cx="850.9" cy="1564.4" r="8"/><circle cx="850.5" cy="1563.9" r="8"/><circle cx="850.2" cy="1563.3" r="8"/><circle cx="850.8" cy="1562.9" r="8"/><circle cx="850.3" cy="1562.2" r="8"/><circle cx="835.7" cy="1563.4" r="8"/><circle cx="847.5" cy="1562.1" r="8"/><circle cx="840.8" cy="1564.2" r="8"/><circle cx="837.5" cy="1562.9" r="8"/><circle cx="844.2" cy="1564.2" r="8"/><circle cx="842.6" cy="1562.1" r="8"/><circle cx="849.2" cy="1561.8" r="8"/><circle cx="840.7" cy="1564.2" r="8"/><circle cx="849.1" cy="1563.7" r="8"/><circle cx="831.8" cy="1564.1" r="8"/><circle cx="834.2" cy="1562.8" r="8"/><circle cx="830.6" cy="1562.1" r="8"/><circle cx="849.5" cy="1563.7" r="8"/><circle cx="841.1" cy="1563.7" r="8"/><circle cx="841.6" cy="1563.2" r="8"/><circle cx="826.9" cy="1563.7" r="8"/><circle cx="830.3" cy="1562.8" r="8"/><circle cx="848.4" cy="1562.6" r="8"/><circle cx="840.6" cy="1563.7" r="8"/><circle cx="830.0" cy="1562.2" r="8"/><circle cx="848.6" cy="1563.1" r="8"/><circle cx="829.4" cy="1563.8" r="8"/><circle cx="835.9" cy="1563.4" r="8"/><circle cx="837.9" cy="1563.5" r="8"/><circle cx="848.5" cy="1562.2" r="8"/><circle cx="832.3" cy="1561.8" r="8"/><circle cx="843.0" cy="1563.3" r="8"/><circle cx="829.5" cy="1563.6" r="8"/><circle cx="843.4" cy="1563.6" r="8"/><circle cx="831.2" cy="1562.9" r="8"/><circle cx="836.0" cy="1555.7" r="8"/><circle cx="839.5" cy="1559.8" r="8"/><circle cx="840.5" cy="1552.0" r="8"/><circle cx="830.2" cy="1558.1" r="8"/><circle cx="833.6" cy="1556.6" r="8"/><circle cx="839.7" cy="1560.6" r="8"/><circle cx="834.0" cy="1557.2" r="8"/><circle cx="834.7" cy="1556.9" r="8"/><circle cx="905.4" cy="1380.3" r="8"/><circle cx="909.9" cy="1544.8" r="8"/><circle cx="910.3" cy="1555.5" r="8"/><circle cx="893.3" cy="1564.5" r="8"/><circle cx="899.5" cy="1564.5" r="8"/><circle cx="907.8" cy="1564.5" r="8"/><circle cx="958.6" cy="1564.4" r="8"/><circle cx="963.8" cy="1564.4" r="8"/><circle cx="967.9" cy="1564.4" r="8"/><circle cx="1030.7" cy="1527.2" r="8"/><circle cx="1028.0" cy="1554.6" r="8"/><circle cx="1022.8" cy="1560.8" r="8"/><circle cx="1026.0" cy="1562.0" r="8"/><circle cx="1096.7" cy="989.4" r="8"/><circle cx="1090.5" cy="1331.6" r="8"/><circle cx="1080.8" cy="1451.5" r="8"/><circle cx="1095.3" cy="1457.3" r="8"/><circle cx="1080.8" cy="1540.1" r="8"/><circle cx="1074.9" cy="1563.6" r="8"/><circle cx="1076.8" cy="1563.6" r="8"/><circle cx="1078.7" cy="1564.3" r="8"/><circle cx="1080.6" cy="1564.1" r="8"/><circle cx="1082.5" cy="1563.5" r="8"/><circle cx="1084.4" cy="1563.9" r="8"/><circle cx="1086.3" cy="1563.6" r="8"/><circle cx="1088.2" cy="1564.2" r="8"/><circle cx="1090.1" cy="1564.4" r="8"/><circle cx="1092.0" cy="1563.6" r="8"/><circle cx="1093.9" cy="1564.2" r="8"/><circle cx="1095.8" cy="1563.9" r="8"/><circle cx="1097.8" cy="1564.1" r="8"/><circle cx="1099.7" cy="1563.9" r="8"/><circle cx="1074.9" cy="1564.4" r="8"/><circle cx="1075.0" cy="1563.6" r="8"/><circle cx="1075.0" cy="1563.0" r="8"/><circle cx="1075.3" cy="1561.7" r="8"/><circle cx="1075.4" cy="1561.3" r="8"/><circle cx="1075.2" cy="1560.6" r="8"/><circle cx="1075.1" cy="1559.4" r="8"/><circle cx="1075.5" cy="1558.2" r="8"/><circle cx="1099.0" cy="1564.4" r="8"/><circle cx="1099.2" cy="1563.7" r="8"/><circle cx="1099.0" cy="1562.6" r="8"/><circle cx="1099.5" cy="1562.0" r="8"/><circle cx="1099.5" cy="1560.8" r="8"/><circle cx="1099.6" cy="1560.3" r="8"/><circle cx="1099.1" cy="1559.5" r="8"/><circle cx="1099.6" cy="1558.5" r="8"/><circle cx="1085.0" cy="1562.6" r="8"/><circle cx="1079.8" cy="1558.3" r="8"/><circle cx="1088.2" cy="1564.3" r="8"/><circle cx="1097.7" cy="1563.4" r="8"/><circle cx="1085.1" cy="1563.1" r="8"/><circle cx="1074.9" cy="1561.3" r="8"/><circle cx="1078.1" cy="1559.3" r="8"/><circle cx="1096.2" cy="1558.6" r="8"/><circle cx="1075.0" cy="1564.0" r="8"/><circle cx="1083.9" cy="1563.1" r="8"/><circle cx="1080.7" cy="1561.3" r="8"/><circle cx="1080.1" cy="1557.4" r="8"/><circle cx="1077.5" cy="1559.4" r="8"/><circle cx="1099.3" cy="1561.2" r="8"/><circle cx="1086.6" cy="1562.1" r="8"/><circle cx="1092.2" cy="1561.5" r="8"/><circle cx="1079.4" cy="1558.7" r="8"/><circle cx="1086.1" cy="1559.9" r="8"/><circle cx="1093.4" cy="1564.2" r="8"/><circle cx="1078.0" cy="1563.6" r="8"/><circle cx="1086.6" cy="1562.8" r="8"/><circle cx="1090.0" cy="1559.5" r="8"/><circle cx="1086.4" cy="1563.1" r="8"/><circle cx="1099.5" cy="1558.0" r="8"/><circle cx="1080.4" cy="1562.0" r="8"/><circle cx="1081.0" cy="1562.8" r="8"/><circle cx="1084.6" cy="1562.2" r="8"/><circle cx="1091.0" cy="1563.5" r="8"/><circle cx="1083.4" cy="1564.0" r="8"/><circle cx="1082.5" cy="1564.3" r="8"/><circle cx="1090.5" cy="1559.1" r="8"/><circle cx="1074.9" cy="1563.0" r="8"/><circle cx="1085.6" cy="1564.1" r="8"/><circle cx="1090.5" cy="1560.6" r="8"/><circle cx="1085.1" cy="1558.3" r="8"/><circle cx="1090.2" cy="1563.6" r="8"/><circle cx="1094.2" cy="1562.5" r="8"/><circle cx="1082.8" cy="1562.6" r="8"/><circle cx="1075.8" cy="1563.3" r="8"/><circle cx="1094.9" cy="1560.0" r="8"/><circle cx="1092.8" cy="1548.6" r="8"/><circle cx="1087.8" cy="1552.4" r="8"/><circle cx="1085.9" cy="1552.7" r="8"/><circle cx="1097.6" cy="1557.2" r="8"/><circle cx="1093.0" cy="1556.7" r="8"/><circle cx="1078.8" cy="1555.1" r="8"/><circle cx="1093.5" cy="1546.7" r="8"/><circle cx="1090.3" cy="1554.9" r="8"/><circle cx="1082.2" cy="1551.5" r="8"/><circle cx="1088.0" cy="1556.7" r="8"/><circle cx="1084.3" cy="1546.1" r="8"/><circle cx="1077.9" cy="1551.9" r="8"/><circle cx="1097.2" cy="1557.1" r="8"/><circle cx="1075.3" cy="1556.0" r="8"/><circle cx="1078.7" cy="1552.7" r="8"/><circle cx="1094.6" cy="1555.3" r="8"/><circle cx="1206.0" cy="1517.9" r="8"/><circle cx="1211.2" cy="1554.6" r="8"/><circle cx="1199.2" cy="1564.0" r="8"/><circle cx="1201.1" cy="1563.7" r="8"/><circle cx="1203.1" cy="1563.8" r="8"/><circle cx="1205.0" cy="1563.7" r="8"/><circle cx="1206.9" cy="1564.3" r="8"/><circle cx="1208.8" cy="1563.6" r="8"/><circle cx="1210.7" cy="1564.1" r="8"/><circle cx="1212.6" cy="1563.7" r="8"/><circle cx="1214.5" cy="1564.0" r="8"/><circle cx="1216.4" cy="1563.6" r="8"/><circle cx="1218.3" cy="1564.0" r="8"/><circle cx="1220.2" cy="1564.2" r="8"/><circle cx="1222.1" cy="1564.3" r="8"/><circle cx="1224.0" cy="1564.0" r="8"/><circle cx="1199.9" cy="1564.4" r="8"/><circle cx="1199.3" cy="1564.1" r="8"/><circle cx="1199.3" cy="1563.8" r="8"/><circle cx="1199.6" cy="1563.4" r="8"/><circle cx="1223.4" cy="1564.4" r="8"/><circle cx="1224.0" cy="1564.1" r="8"/><circle cx="1223.7" cy="1563.7" r="8"/><circle cx="1223.9" cy="1563.3" r="8"/><circle cx="1220.9" cy="1564.3" r="8"/><circle cx="1202.6" cy="1564.1" r="8"/><circle cx="1210.7" cy="1563.6" r="8"/><circle cx="1217.0" cy="1564.2" r="8"/><circle cx="1219.9" cy="1564.0" r="8"/><circle cx="1223.7" cy="1563.1" r="8"/><circle cx="1210.4" cy="1563.8" r="8"/><circle cx="1221.7" cy="1563.3" r="8"/><circle cx="1223.2" cy="1563.7" r="8"/><circle cx="1201.8" cy="1563.8" r="8"/><circle cx="1218.7" cy="1563.7" r="8"/><circle cx="1223.7" cy="1564.0" r="8"/><circle cx="1201.6" cy="1563.5" r="8"/><circle cx="1222.2" cy="1563.8" r="8"/><circle cx="1204.9" cy="1563.1" r="8"/><circle cx="1201.1" cy="1564.3" r="8"/><circle cx="1208.0" cy="1563.0" r="8"/><circle cx="1212.0" cy="1564.4" r="8"/><circle cx="1213.6" cy="1564.3" r="8"/><circle cx="1219.8" cy="1563.9" r="8"/><circle cx="1203.3" cy="1562.0" r="8"/><circle cx="1205.4" cy="1559.1" r="8"/><circle cx="1214.0" cy="1560.2" r="8"/><circle cx="1223.1" cy="1562.9" r="8"/><circle cx="1202.8" cy="1562.6" r="8"/><circle cx="1347.6" cy="1315.6" r="8"/><circle cx="1327.3" cy="1538.7" r="8"/><circle cx="1323.6" cy="1563.7" r="8"/><circle cx="1325.5" cy="1564.2" r="8"/><circle cx="1327.4" cy="1564.0" r="8"/><circle cx="1329.3" cy="1564.1" r="8"/><circle cx="1331.3" cy="1564.3" r="8"/><circle cx="1333.2" cy="1563.6" r="8"/><circle cx="1335.1" cy="1563.8" r="8"/><circle cx="1337.0" cy="1564.0" r="8"/><circle cx="1338.9" cy="1563.9" r="8"/><circle cx="1340.8" cy="1563.6" r="8"/><circle cx="1342.7" cy="1564.3" r="8"/><circle cx="1344.6" cy="1564.1" r="8"/><circle cx="1346.5" cy="1563.8" r="8"/><circle cx="1348.4" cy="1563.9" r="8"/><circle cx="1324.0" cy="1564.4" r="8"/><circle cx="1324.2" cy="1563.6" r="8"/><circle cx="1324.1" cy="1562.8" r="8"/><circle cx="1323.7" cy="1562.0" r="8"/><circle cx="1324.2" cy="1561.4" r="8"/><circle cx="1324.3" cy="1560.8" r="8"/><circle cx="1324.3" cy="1560.0" r="8"/><circle cx="1348.4" cy="1564.4" r="8"/><circle cx="1347.9" cy="1563.7" r="8"/><circle cx="1348.4" cy="1563.1" r="8"/><circle cx="1348.3" cy="1562.0" r="8"/><circle cx="1347.7" cy="1561.2" r="8"/><circle cx="1348.2" cy="1560.8" r="8"/><circle cx="1348.0" cy="1559.9" r="8"/><circle cx="1345.8" cy="1559.4" r="8"/><circle cx="1342.9" cy="1564.4" r="8"/><circle cx="1325.5" cy="1563.0" r="8"/><circle cx="1332.6" cy="1559.2" r="8"/><circle cx="1328.5" cy="1558.8" r="8"/><circle cx="1337.5" cy="1564.3" r="8"/><circle cx="1342.5" cy="1564.1" r="8"/><circle cx="1343.2" cy="1562.6" r="8"/><circle cx="1337.2" cy="1562.9" r="8"/><circle cx="1339.2" cy="1562.7" r="8"/><circle cx="1332.0" cy="1564.0" r="8"/><circle cx="1343.0" cy="1559.5" r="8"/><circle cx="1325.1" cy="1558.7" r="8"/><circle cx="1325.5" cy="1562.5" r="8"/><circle cx="1333.2" cy="1563.6" r="8"/><circle cx="1339.3" cy="1563.3" r="8"/><circle cx="1347.4" cy="1561.8" r="8"/><circle cx="1335.5" cy="1561.4" r="8"/><circle cx="1336.2" cy="1563.6" r="8"/><circle cx="1325.1" cy="1563.5" r="8"/><circle cx="1345.6" cy="1564.1" r="8"/><circle cx="1327.2" cy="1560.7" r="8"/><circle cx="1342.4" cy="1562.0" r="8"/><circle cx="1333.6" cy="1562.0" r="8"/><circle cx="1347.3" cy="1562.8" r="8"/><circle cx="1337.2" cy="1563.6" r="8"/><circle cx="1324.6" cy="1560.3" r="8"/><circle cx="1346.6" cy="1563.6" r="8"/><circle cx="1331.5" cy="1561.9" r="8"/><circle cx="1340.2" cy="1562.8" r="8"/><circle cx="1330.8" cy="1560.3" r="8"/><circle cx="1341.4" cy="1561.2" r="8"/><circle cx="1325.8" cy="1563.5" r="8"/><circle cx="1328.2" cy="1563.6" r="8"/><circle cx="1332.1" cy="1560.6" r="8"/><circle cx="1329.6" cy="1557.7" r="8"/><circle cx="1330.7" cy="1548.5" r="8"/><circle cx="1338.7" cy="1546.2" r="8"/><circle cx="1330.8" cy="1553.9" r="8"/><circle cx="1340.1" cy="1556.7" r="8"/><circle cx="1338.1" cy="1551.7" r="8"/><circle cx="1334.7" cy="1554.9" r="8"/><circle cx="1334.2" cy="1544.7" r="8"/><circle cx="1332.9" cy="1558.1" r="8"/><circle cx="1327.1" cy="1554.6" r="8"/><circle cx="1344.3" cy="1556.2" r="8"/><circle cx="1333.6" cy="1550.8" r="8"/><circle cx="1390.8" cy="1563.9" r="8"/><circle cx="1408.6" cy="1564.5" r="8"/><circle cx="1453.0" cy="1555.8" r="8"/><circle cx="1573.5" cy="1564.5" r="8"/><circle cx="1635.5" cy="1391.3" r="8"/><circle cx="1636.1" cy="1556.8" r="8"/><circle cx="1638.0" cy="1562.7" r="8"/><circle cx="1653.8" cy="1563.7" r="8"/><circle cx="1649.8" cy="1561.9" r="8"/><circle cx="1631.8" cy="1562.8" r="8"/><circle cx="1634.4" cy="1563.0" r="8"/><circle cx="1648.2" cy="1563.0" r="8"/><circle cx="1647.0" cy="1561.8" r="8"/><circle cx="1653.5" cy="1562.1" r="8"/><circle cx="1652.9" cy="1562.4" r="8"/><circle cx="1652.3" cy="1564.2" r="8"/><circle cx="1648.6" cy="1562.1" r="8"/><circle cx="1651.5" cy="1561.8" r="8"/><circle cx="1645.8" cy="1562.3" r="8"/><circle cx="1641.5" cy="1563.0" r="8"/><circle cx="1636.9" cy="1562.9" r="8"/><circle cx="1652.6" cy="1562.0" r="8"/><circle cx="1648.1" cy="1560.3" r="8"/><circle cx="1645.4" cy="1559.5" r="8"/><circle cx="1633.2" cy="1560.2" r="8"/><circle cx="1653.1" cy="1559.1" r="8"/><circle cx="1643.4" cy="1557.6" r="8"/>
</g>
<g fill="#619CFF" stroke="#619CFF">
<circle cx="1284.1" cy="167.7" r="8"/><circle cx="1272.3" cy="272.3" r="8"/><circle cx="1286.2" cy="386.5" r="8"/><circle cx="1282.5" cy="487.4" r="8"/><circle cx="1285.4" cy="542.7" r="8"/><circle cx="1267.4" cy="665.3" r="8"/><circle cx="1274.6" cy="712.3" r="8"/><circle cx="1269.2" cy="720.6" r="8"/><circle cx="1262.8" cy="753.7" r="8"/><circle cx="1262.4" cy="842.3" r="8"/><circle cx="1281.4" cy="844.4" r="8"/><circle cx="1280.4" cy="927.9" r="8"/><circle cx="1284.6" cy="928.7" r="8"/><circle cx="1283.5" cy="967.2" r="8"/><circle cx="1270.7" cy="978.0" r="8"/><circle cx="1276.5" cy="1059.8" r="8"/><circle cx="1280.4" cy="1082.6" r="8"/><circle cx="1273.6" cy="1104.7" r="8"/><circle cx="1286.6" cy="1104.7" r="8"/><circle cx="1273.2" cy="1121.9" r="8"/><circle cx="1271.1" cy="1145.3" r="8"/><circle cx="1276.9" cy="1146.7" r="8"/><circle cx="1268.0" cy="1151.5" r="8"/><circle cx="1264.9" cy="1154.0" r="8"/><circle cx="1274.2" cy="1182.0" r="8"/><circle cx="1265.3" cy="1191.3" r="8"/><circle cx="1274.2" cy="1202.7" r="8"/><circle cx="1278.3" cy="1212.0" r="8"/><circle cx="1285.6" cy="1218.2" r="8"/><circle cx="1279.4" cy="1226.5" r="8"/><circle cx="1283.5" cy="1228.5" r="8"/><circle cx="1266.3" cy="1231.9" r="8"/><circle cx="1282.2" cy="1230.9" r="8"/><circle cx="1269.1" cy="1246.8" r="8"/><circle cx="1274.7" cy="1248.6" r="8"/><circle cx="1272.9" cy="1264.5" r="8"/><circle cx="1276.6" cy="1273.8" r="8"/><circle cx="1268.2" cy="1292.4" r="8"/><circle cx="1280.3" cy="1326.0" r="8"/><circle cx="1270.1" cy="1328.8" r="8"/><circle cx="1282.2" cy="1338.1" r="8"/><circle cx="1275.7" cy="1357.7" r="8"/><circle cx="1267.3" cy="1377.3" r="8"/><circle cx="1279.4" cy="1382.8" r="8"/><circle cx="1263.6" cy="1396.8" r="8"/><circle cx="1284.1" cy="1402.4" r="8"/><circle cx="1265.4" cy="1402.4" r="8"/><circle cx="1262.6" cy="1402.8" r="8"/><circle cx="1283.1" cy="1403.7" r="8"/><circle cx="1276.6" cy="1414.9" r="8"/><circle cx="1275.7" cy="1423.3" r="8"/><circle cx="1273.8" cy="1433.6" r="8"/><circle cx="1261.7" cy="1457.8" r="8"/><circle cx="1265.4" cy="1468.0" r="8"/><circle cx="1275.7" cy="1489.5" r="8"/><circle cx="1268.2" cy="1493.2" r="8"/><circle cx="1280.3" cy="1505.3" r="8"/><circle cx="1264.6" cy="1534.4" r="8"/><circle cx="1261.5" cy="1539.4" r="8"/><circle cx="1276.0" cy="1546.7" r="8"/><circle cx="1285.3" cy="1556.0" r="8"/><circle cx="1271.8" cy="1554.1" r="8"/><circle cx="1283.1" cy="1545.7" r="8"/><circle cx="1270.8" cy="1553.0" r="8"/><circle cx="1272.8" cy="1557.1" r="8"/><circle cx="1268.7" cy="1548.7" r="8"/><circle cx="1275.2" cy="1558.4" r="8"/><circle cx="1269.4" cy="1558.5" r="8"/><circle cx="1282.5" cy="1545.5" r="8"/><circle cx="1272.4" cy="1556.0" r="8"/><circle cx="1269.0" cy="1561.9" r="8"/><circle cx="1275.7" cy="1562.5" r="8"/><circle cx="1263.6" cy="1553.8" r="8"/><circle cx="1269.5" cy="1533.6" r="8"/><circle cx="1282.2" cy="1541.8" r="8"/><circle cx="1266.5" cy="1525.5" r="8"/><circle cx="1284.0" cy="1557.6" r="8"/><circle cx="1262.6" cy="1564.3" r="8"/><circle cx="1273.8" cy="1554.3" r="8"/><circle cx="1280.6" cy="1533.6" r="8"/><circle cx="1286.2" cy="1555.0" r="8"/><circle cx="1274.3" cy="1555.5" r="8"/><circle cx="1271.1" cy="1550.3" r="8"/><circle cx="1276.2" cy="1559.0" r="8"/><circle cx="1284.9" cy="1559.1" r="8"/><circle cx="1274.5" cy="1550.6" r="8"/><circle cx="1270.7" cy="1563.1" r="8"/><circle cx="1275.4" cy="1558.2" r="8"/><circle cx="1283.2" cy="1554.0" r="8"/><circle cx="1273.5" cy="1523.7" r="8"/><circle cx="1276.9" cy="1557.3" r="8"/><circle cx="1269.9" cy="1496.7" r="8"/><circle cx="1281.7" cy="1555.2" r="8"/><circle cx="1269.3" cy="1562.1" r="8"/><circle cx="1281.9" cy="1517.6" r="8"/><circle cx="1264.2" cy="1555.6" r="8"/><circle cx="1278.5" cy="1537.0" r="8"/><circle cx="1286.0" cy="1543.5" r="8"/><circle cx="1271.9" cy="1537.7" r="8"/><circle cx="1268.6" cy="1562.3" r="8"/><circle cx="1274.0" cy="1555.7" r="8"/><circle cx="1266.0" cy="1561.9" r="8"/><circle cx="1276.4" cy="1552.3" r="8"/><circle cx="1286.1" cy="1559.1" r="8"/><circle cx="1262.5" cy="1552.1" r="8"/><circle cx="1281.0" cy="1557.9" r="8"/><circle cx="1278.6" cy="1559.9" r="8"/><circle cx="1269.0" cy="1564.4" r="8"/><circle cx="1276.0" cy="1541.9" r="8"/><circle cx="1266.3" cy="1550.9" r="8"/><circle cx="1275.2" cy="1556.0" r="8"/><circle cx="1277.5" cy="1560.6" r="8"/><circle cx="1286.2" cy="1555.2" r="8"/><circle cx="1271.6" cy="1554.0" r="8"/><circle cx="1265.3" cy="1562.8" r="8"/><circle cx="1264.1" cy="1547.0" r="8"/><circle cx="1265.7" cy="1563.1" r="8"/><circle cx="1281.8" cy="1555.4" r="8"/><circle cx="1281.4" cy="1552.8" r="8"/><circle cx="1261.7" cy="1563.6" r="8"/><circle cx="1269.4" cy="1546.4" r="8"/><circle cx="1270.2" cy="1549.1" r="8"/><circle cx="1268.0" cy="1562.1" r="8"/><circle cx="1283.8" cy="1563.1" r="8"/><circle cx="1270.1" cy="1553.8" r="8"/><circle cx="1271.0" cy="1557.1" r="8"/><circle cx="1283.5" cy="1563.7" r="8"/><circle cx="1285.2" cy="1553.7" r="8"/><circle cx="1276.8" cy="1557.3" r="8"/><circle cx="1262.5" cy="1560.9" r="8"/><circle cx="1282.6" cy="1531.8" r="8"/><circle cx="1283.7" cy="1559.8" r="8"/><circle cx="1269.0" cy="1543.8" r="8"/><circle cx="1285.2" cy="1553.1" r="8"/><circle cx="1285.0" cy="1556.1" r="8"/><circle cx="1271.1" cy="1561.0" r="8"/><circle cx="1266.9" cy="1548.9" r="8"/><circle cx="1283.1" cy="1559.9" r="8"/><circle cx="1281.1" cy="1556.3" r="8"/><circle cx="1265.7" cy="1561.0" r="8"/><circle cx="1266.1" cy="1559.0" r="8"/><circle cx="1268.6" cy="1521.0" r="8"/><circle cx="1264.3" cy="1554.3" r="8"/><circle cx="1271.0" cy="1555.1" r="8"/><circle cx="1263.1" cy="1558.1" r="8"/><circle cx="1281.9" cy="1562.8" r="8"/><circle cx="1267.5" cy="1559.1" r="8"/><circle cx="1268.5" cy="1561.8" r="8"/><circle cx="1262.3" cy="1561.1" r="8"/><circle cx="1269.9" cy="1551.1" r="8"/><circle cx="1278.9" cy="1562.3" r="8"/><circle cx="1268.1" cy="1563.2" r="8"/><circle cx="1264.6" cy="1542.4" r="8"/><circle cx="1282.2" cy="1557.3" r="8"/><circle cx="1265.4" cy="1544.5" r="8"/><circle cx="1279.3" cy="1559.1" r="8"/><circle cx="1285.2" cy="1558.6" r="8"/><circle cx="1285.0" cy="1561.6" r="8"/><circle cx="1267.1" cy="1555.8" r="8"/><circle cx="1264.7" cy="1557.0" r="8"/><circle cx="1267.9" cy="1549.5" r="8"/><circle cx="1276.0" cy="1536.4" r="8"/><circle cx="1267.5" cy="1558.8" r="8"/><circle cx="1266.7" cy="1553.0" r="8"/><circle cx="1264.5" cy="1539.3" r="8"/><circle cx="1274.9" cy="1555.6" r="8"/><circle cx="1280.6" cy="1560.6" r="8"/><circle cx="1277.7" cy="1558.5" r="8"/><circle cx="1269.1" cy="1554.2" r="8"/><circle cx="1263.6" cy="1558.4" r="8"/><circle cx="1282.5" cy="1562.0" r="8"/><circle cx="1277.9" cy="1559.7" r="8"/><circle cx="1275.4" cy="1563.0" r="8"/><circle cx="1273.8" cy="1558.9" r="8"/><circle cx="1263.1" cy="1560.1" r="8"/><circle cx="1267.0" cy="1559.9" r="8"/><circle cx="1279.2" cy="1562.8" r="8"/><circle cx="1271.4" cy="1560.4" r="8"/><circle cx="1280.6" cy="1535.2" r="8"/><circle cx="1282.8" cy="1538.3" r="8"/><circle cx="1268.3" cy="1562.7" r="8"/><circle cx="1278.3" cy="1564.0" r="8"/><circle cx="1270.1" cy="1551.1" r="8"/><circle cx="1277.8" cy="1557.9" r="8"/><circle cx="1267.6" cy="1549.7" r="8"/><circle cx="1270.2" cy="1541.5" r="8"/><circle cx="1265.9" cy="1552.3" r="8"/><circle cx="1284.1" cy="1562.9" r="8"/><circle cx="1279.1" cy="1548.2" r="8"/><circle cx="1262.4" cy="1563.9" r="8"/><circle cx="1266.3" cy="1562.2" r="8"/><circle cx="1270.9" cy="1560.0" r="8"/><circle cx="1269.1" cy="1563.9" r="8"/><circle cx="1265.9" cy="1552.0" r="8"/><circle cx="1275.6" cy="1542.1" r="8"/><circle cx="1267.7" cy="1549.0" r="8"/><circle cx="1278.4" cy="1557.4" r="8"/><circle cx="1261.5" cy="1559.2" r="8"/><circle cx="1280.7" cy="1542.5" r="8"/><circle cx="1262.5" cy="1560.3" r="8"/><circle cx="1276.5" cy="1540.9" r="8"/><circle cx="1267.5" cy="1563.8" r="8"/><circle cx="1281.1" cy="1563.0" r="8"/><circle cx="1284.1" cy="1561.5" r="8"/><circle cx="1263.6" cy="1547.5" r="8"/><circle cx="1271.2" cy="1549.9" r="8"/><circle cx="1282.0" cy="1547.6" r="8"/><circle cx="1263.7" cy="1560.4" r="8"/><circle cx="1271.9" cy="1528.7" r="8"/><circle cx="1278.6" cy="1531.9" r="8"/><circle cx="1282.0" cy="1548.0" r="8"/><circle cx="1272.7" cy="1552.3" r="8"/><circle cx="1278.7" cy="1563.7" r="8"/><circle cx="1274.1" cy="1557.6" r="8"/><circle cx="1264.6" cy="1532.3" r="8"/><circle cx="1262.5" cy="1546.9" r="8"/><circle cx="1281.4" cy="1549.6" r="8"/><circle cx="1275.0" cy="1560.7" r="8"/><circle cx="1277.2" cy="1521.9" r="8"/><circle cx="1267.6" cy="1554.8" r="8"/><circle cx="1270.3" cy="1563.7" r="8"/><circle cx="1266.4" cy="1557.9" r="8"/><circle cx="1264.8" cy="1559.9" r="8"/><circle cx="1278.1" cy="1549.4" r="8"/><circle cx="1267.4" cy="1561.1" r="8"/><circle cx="1272.5" cy="1555.6" r="8"/><circle cx="1270.1" cy="1530.9" r="8"/><circle cx="1283.4" cy="1560.1" r="8"/><circle cx="1275.4" cy="1562.5" r="8"/><circle cx="1281.7" cy="1559.5" r="8"/><circle cx="1280.3" cy="1554.7" r="8"/><circle cx="1278.0" cy="1562.1" r="8"/><circle cx="1272.9" cy="1553.3" r="8"/><circle cx="1282.0" cy="1546.7" r="8"/><circle cx="1268.6" cy="1562.9" r="8"/><circle cx="1266.5" cy="1558.9" r="8"/><circle cx="1268.4" cy="1563.6" r="8"/><circle cx="1278.8" cy="1561.7" r="8"/><circle cx="1264.2" cy="1557.2" r="8"/><circle cx="1273.1" cy="1559.6" r="8"/><circle cx="1265.6" cy="1558.9" r="8"/><circle cx="1261.7" cy="1563.5" r="8"/><circle cx="1280.0" cy="1505.3" r="8"/><circle cx="1279.2" cy="1563.3" r="8"/><circle cx="1275.4" cy="1516.6" r="8"/><circle cx="1273.6" cy="1563.0" r="8"/><circle cx="1266.1" cy="1557.5" r="8"/><circle cx="1261.6" cy="1554.8" r="8"/><circle cx="1277.4" cy="1533.7" r="8"/><circle cx="1284.6" cy="1552.3" r="8"/><circle cx="1267.7" cy="1551.5" r="8"/><circle cx="1264.9" cy="1561.0" r="8"/><circle cx="1280.6" cy="1564.1" r="8"/><circle cx="1268.8" cy="1542.1" r="8"/><circle cx="1277.3" cy="1561.9" r="8"/><circle cx="1284.4" cy="1541.6" r="8"/><circle cx="1280.9" cy="1562.2" r="8"/><circle cx="1279.8" cy="1542.8" r="8"/><circle cx="1266.0" cy="1559.6" r="8"/><circle cx="1269.4" cy="1543.1" r="8"/><circle cx="1275.1" cy="1558.8" r="8"/><circle cx="1282.0" cy="1558.8" r="8"/><circle cx="1262.5" cy="1561.1" r="8"/><circle cx="1277.0" cy="1554.2" r="8"/><circle cx="1278.9" cy="1543.5" r="8"/><circle cx="1284.9" cy="1535.7" r="8"/><circle cx="1273.8" cy="1556.1" r="8"/><circle cx="1268.9" cy="1562.3" r="8"/><circle cx="1263.4" cy="1553.8" r="8"/><circle cx="1265.5" cy="1550.2" r="8"/><circle cx="1285.5" cy="1557.3" r="8"/><circle cx="1262.4" cy="1563.3" r="8"/><circle cx="1266.2" cy="1557.3" r="8"/><circle cx="1261.5" cy="1548.7" r="8"/><circle cx="1282.6" cy="1542.0" r="8"/><circle cx="1272.0" cy="1545.5" r="8"/><circle cx="1277.8" cy="1560.3" r="8"/><circle cx="1271.9" cy="1555.6" r="8"/><circle cx="1272.3" cy="1559.4" r="8"/><circle cx="1281.9" cy="1551.0" r="8"/><circle cx="1265.5" cy="1535.8" r="8"/><circle cx="1272.4" cy="1560.1" r="8"/><circle cx="1270.1" cy="1554.3" r="8"/><circle cx="1263.5" cy="1561.7" r="8"/><circle cx="1272.8" cy="1559.6" r="8"/><circle cx="1284.0" cy="1521.1" r="8"/><circle cx="1285.6" cy="1539.9" r="8"/><circle cx="1276.8" cy="1524.6" r="8"/><circle cx="1262.9" cy="1544.1" r="8"/><circle cx="1276.5" cy="1550.6" r="8"/><circle cx="1275.6" cy="1560.1" r="8"/><circle cx="1273.4" cy="1527.2" r="8"/><circle cx="1268.9" cy="1551.7" r="8"/><circle cx="1283.4" cy="1559.3" r="8"/><circle cx="1266.1" cy="1564.1" r="8"/><circle cx="1272.5" cy="1550.6" r="8"/><circle cx="1277.8" cy="1563.3" r="8"/><circle cx="1275.8" cy="1558.7" r="8"/><circle cx="1274.6" cy="1557.8" r="8"/><circle cx="1271.3" cy="1554.3" r="8"/><circle cx="1265.9" cy="1562.9" r="8"/><circle cx="1275.0" cy="1537.5" r="8"/><circle cx="1282.8" cy="1562.9" r="8"/><circle cx="1263.8" cy="1560.8" r="8"/><circle cx="1267.7" cy="1555.2" r="8"/><circle cx="1275.2" cy="1556.2" r="8"/><circle cx="1275.6" cy="1561.3" r="8"/><circle cx="1274.2" cy="1562.9" r="8"/><circle cx="1263.4" cy="1553.6" r="8"/><circle cx="1263.3" cy="1558.0" r="8"/><circle cx="1282.8" cy="1557.3" r="8"/><circle cx="1279.2" cy="1554.6" r="8"/><circle cx="1264.3" cy="1547.2" r="8"/><circle cx="1279.3" cy="1507.4" r="8"/><circle cx="1282.0" cy="1563.1" r="8"/><circle cx="1265.7" cy="1558.3" r="8"/><circle cx="1275.4" cy="1525.1" r="8"/><circle cx="1264.8" cy="1546.2" r="8"/><circle cx="1262.9" cy="1546.1" r="8"/><circle cx="1270.7" cy="1561.1" r="8"/><circle cx="1276.2" cy="1564.2" r="8"/><circle cx="1268.9" cy="1561.5" r="8"/><circle cx="1272.0" cy="1549.4" r="8"/><circle cx="1276.8" cy="1537.6" r="8"/><circle cx="1275.4" cy="1539.3" r="8"/><circle cx="1283.0" cy="1534.0" r="8"/><circle cx="1279.9" cy="1562.2" r="8"/><circle cx="1280.4" cy="1559.3" r="8"/><circle cx="1281.9" cy="1550.5" r="8"/><circle cx="1270.7" cy="1562.8" r="8"/><circle cx="1284.9" cy="1548.1" r="8"/><circle cx="1262.5" cy="1548.8" r="8"/><circle cx="1263.9" cy="1553.1" r="8"/><circle cx="1281.3" cy="1554.7" r="8"/><circle cx="1284.4" cy="1562.9" r="8"/><circle cx="1267.7" cy="1550.7" r="8"/><circle cx="1272.5" cy="1561.8" r="8"/><circle cx="1275.8" cy="1542.2" r="8"/><circle cx="1261.9" cy="1562.9" r="8"/><circle cx="1281.3" cy="1563.0" r="8"/><circle cx="1275.2" cy="1561.9" r="8"/><circle cx="1278.5" cy="1560.2" r="8"/><circle cx="1265.0" cy="1558.6" r="8"/><circle cx="1274.8" cy="1539.0" r="8"/><circle cx="1281.5" cy="1550.1" r="8"/><circle cx="1261.8" cy="1528.2" r="8"/><circle cx="1265.2" cy="1559.3" r="8"/><circle cx="1283.1" cy="1555.9" r="8"/><circle cx="1262.3" cy="1544.7" r="8"/><circle cx="1281.7" cy="1561.9" r="8"/><circle cx="1271.2" cy="1550.5" r="8"/><circle cx="1265.4" cy="1556.5" r="8"/><circle cx="1271.2" cy="1541.7" r="8"/><circle cx="1276.6" cy="1539.2" r="8"/><circle cx="1269.6" cy="1563.4" r="8"/><circle cx="1283.6" cy="1561.4" r="8"/><circle cx="1262.5" cy="1553.6" r="8"/><circle cx="1270.4" cy="1562.1" r="8"/><circle cx="1275.7" cy="1556.7" r="8"/><circle cx="1270.2" cy="1558.4" r="8"/><circle cx="1275.8" cy="1564.3" r="8"/><circle cx="1261.9" cy="1559.4" r="8"/><circle cx="1285.9" cy="1556.9" r="8"/><circle cx="1265.0" cy="1563.8" r="8"/><circle cx="1268.2" cy="1550.8" r="8"/><circle cx="1273.8" cy="1560.5" r="8"/><circle cx="1275.5" cy="1560.7" r="8"/><circle cx="1285.2" cy="1555.2" r="8"/><circle cx="1262.3" cy="1505.2" r="8"/><circle cx="1280.5" cy="1554.4" r="8"/><circle cx="1280.6" cy="1539.3" r="8"/><circle cx="1277.2" cy="1552.2" r="8"/><circle cx="1268.4" cy="1558.9" r="8"/><circle cx="1283.1" cy="1545.1" r="8"/><circle cx="1278.3" cy="1530.4" r="8"/><circle cx="1280.4" cy="1560.0" r="8"/><circle cx="1274.1" cy="1548.0" r="8"/><circle cx="1270.1" cy="1552.1" r="8"/><circle cx="1271.5" cy="1554.6" r="8"/><circle cx="1269.8" cy="1563.6" r="8"/><circle cx="1285.9" cy="1559.6" r="8"/><circle cx="1270.5" cy="1556.4" r="8"/><circle cx="1267.3" cy="1561.0" r="8"/><circle cx="1264.8" cy="1559.2" r="8"/><circle cx="1283.0" cy="1564.3" r="8"/><circle cx="1272.5" cy="1557.0" r="8"/><circle cx="1268.9" cy="1554.1" r="8"/><circle cx="1263.1" cy="1562.1" r="8"/><circle cx="1269.1" cy="1560.0" r="8"/><circle cx="1275.1" cy="1548.6" r="8"/><circle cx="1269.9" cy="1530.6" r="8"/><circle cx="1275.9" cy="1533.4" r="8"/><circle cx="1265.9" cy="1563.4" r="8"/><circle cx="1285.9" cy="1553.8" r="8"/><circle cx="1280.6" cy="1559.0" r="8"/><circle cx="1283.0" cy="1557.6" r="8"/><circle cx="1273.4" cy="1563.5" r="8"/><circle cx="1268.3" cy="1536.4" r="8"/><circle cx="1262.0" cy="1560.8" r="8"/><circle cx="1268.1" cy="1562.2" r="8"/><circle cx="1266.8" cy="1549.5" r="8"/><circle cx="1266.4" cy="1558.2" r="8"/><circle cx="1282.9" cy="1553.1" r="8"/><circle cx="1266.3" cy="1551.7" r="8"/><circle cx="1285.3" cy="1548.3" r="8"/><circle cx="1263.4" cy="1553.2" r="8"/><circle cx="1283.1" cy="1544.2" r="8"/><circle cx="1264.8" cy="1559.3" r="8"/><circle cx="1274.7" cy="1561.9" r="8"/><circle cx="1277.3" cy="1539.0" r="8"/><circle cx="1266.7" cy="1533.2" r="8"/><circle cx="1280.0" cy="1559.6" r="8"/><circle cx="1271.5" cy="1551.6" r="8"/><circle cx="1269.8" cy="1550.5" r="8"/><circle cx="1271.7" cy="1563.7" r="8"/><circle cx="1277.0" cy="1563.8" r="8"/><circle cx="1273.7" cy="1559.4" r="8"/><circle cx="1267.8" cy="1553.3" r="8"/><circle cx="1261.8" cy="1556.8" r="8"/><circle cx="1275.4" cy="1532.8" r="8"/><circle cx="1262.8" cy="1510.9" r="8"/><circle cx="1279.4" cy="1552.8" r="8"/><circle cx="1263.7" cy="1559.5" r="8"/><circle cx="1265.0" cy="1562.3" r="8"/><circle cx="1263.7" cy="1546.6" r="8"/><circle cx="1271.9" cy="1543.9" r="8"/><circle cx="1276.0" cy="1555.0" r="8"/><circle cx="1277.7" cy="1554.5" r="8"/><circle cx="1269.6" cy="1553.2" r="8"/><circle cx="1267.8" cy="1547.9" r="8"/><circle cx="1280.4" cy="1549.2" r="8"/><circle cx="1269.1" cy="1546.2" r="8"/><circle cx="1285.7" cy="1546.3" r="8"/><circle cx="1268.3" cy="1557.0" r="8"/><circle cx="1284.8" cy="1555.4" r="8"/><circle cx="1261.7" cy="1562.7" r="8"/><circle cx="1277.7" cy="1556.5" r="8"/><circle cx="1261.4" cy="1564.1" r="8"/><circle cx="1263.1" cy="1564.2" r="8"/><circle cx="1264.7" cy="1563.7" r="8"/><circle cx="1266.4" cy="1564.3" r="8"/><circle cx="1268.0" cy="1563.6" r="8"/><circle cx="1269.7" cy="1564.2" r="8"/><circle cx="1271.3" cy="1564.3" r="8"/><circle cx="1273.0" cy="1564.3" r="8"/><circle cx="1274.7" cy="1563.7" r="8"/><circle cx="1276.3" cy="1563.6" r="8"/><circle cx="1278.0" cy="1564.0" r="8"/><circle cx="1279.6" cy="1563.8" r="8"/><circle cx="1281.3" cy="1564.2" r="8"/><circle cx="1282.9" cy="1563.6" r="8"/><circle cx="1284.6" cy="1563.8" r="8"/><circle cx="1286.2" cy="1564.3" r="8"/><circle cx="1262.1" cy="1548.4" r="8"/><circle cx="1262.1" cy="1545.2" r="8"/><circle cx="1262.0" cy="1559.1" r="8"/><circle cx="1261.7" cy="1557.1" r="8"/><circle cx="1261.8" cy="1560.9" r="8"/><circle cx="1261.5" cy="1557.0" r="8"/><circle cx="1261.5" cy="1560.9" r="8"/><circle cx="1261.6" cy="1541.9" r="8"/><circle cx="1261.9" cy="1563.6" r="8"/><circle cx="1261.9" cy="1549.7" r="8"/><circle cx="1262.0" cy="1551.9" r="8"/><circle cx="1285.6" cy="1553.7" r="8"/><circle cx="1286.0" cy="1554.5" r="8"/><circle cx="1286.0" cy="1561.8" r="8"/><circle cx="1286.1" cy="1561.6" r="8"/><circle cx="1286.2" cy="1541.5" r="8"/><circle cx="1286.2" cy="1552.3" r="8"/><circle cx="1285.7" cy="1556.4" r="8"/><circle cx="1286.0" cy="1553.0" r="8"/><circle cx="1286.2" cy="1562.3" r="8"/><circle cx="1285.8" cy="1544.6" r="8"/><circle cx="1285.9" cy="1552.0" r="8"/><circle cx="205.1" cy="1261.5" r="8"/><circle cx="208.5" cy="1463.1" r="8"/><circle cx="216.5" cy="1470.5" r="8"/><circle cx="214.9" cy="1489.5" r="8"/><circle cx="225.3" cy="1498.6" r="8"/><circle cx="216.2" cy="1521.8" r="8"/><circle cx="211.0" cy="1524.0" r="8"/><circle cx="222.0" cy="1519.0" r="8"/><circle cx="214.0" cy="1516.0" r="8"/><circle cx="219.0" cy="1526.0" r="8"/><circle cx="208.0" cy="1528.0" r="8"/><circle cx="225.0" cy="1529.0" r="8"/><circle cx="227.9" cy="1537.4" r="8"/><circle cx="204.2" cy="1563.9" r="8"/><circle cx="206.1" cy="1564.4" r="8"/><circle cx="208.0" cy="1563.7" r="8"/><circle cx="209.9" cy="1564.4" r="8"/><circle cx="211.8" cy="1564.0" r="8"/><circle cx="213.7" cy="1564.0" r="8"/><circle cx="215.6" cy="1564.3" r="8"/><circle cx="217.6" cy="1563.9" r="8"/><circle cx="219.5" cy="1563.8" r="8"/><circle cx="221.4" cy="1563.9" r="8"/><circle cx="223.3" cy="1564.1" r="8"/><circle cx="225.2" cy="1564.0" r="8"/><circle cx="227.1" cy="1563.9" r="8"/><circle cx="229.0" cy="1564.2" r="8"/><circle cx="204.3" cy="1564.4" r="8"/><circle cx="204.3" cy="1563.2" r="8"/><circle cx="204.7" cy="1561.9" r="8"/><circle cx="204.9" cy="1561.1" r="8"/><circle cx="204.8" cy="1560.0" r="8"/><circle cx="204.4" cy="1558.6" r="8"/><circle cx="204.6" cy="1558.0" r="8"/><circle cx="204.8" cy="1556.8" r="8"/><circle cx="204.7" cy="1556.1" r="8"/><circle cx="204.4" cy="1554.4" r="8"/><circle cx="204.6" cy="1554.1" r="8"/><circle cx="204.4" cy="1553.0" r="8"/><circle cx="204.7" cy="1550.9" r="8"/><circle cx="204.4" cy="1548.5" r="8"/><circle cx="228.8" cy="1564.4" r="8"/><circle cx="228.9" cy="1563.2" r="8"/><circle cx="228.8" cy="1562.4" r="8"/><circle cx="228.4" cy="1561.4" r="8"/><circle cx="228.9" cy="1559.8" r="8"/><circle cx="228.7" cy="1559.2" r="8"/><circle cx="228.5" cy="1558.3" r="8"/><circle cx="228.7" cy="1555.8" r="8"/><circle cx="228.5" cy="1556.4" r="8"/><circle cx="228.4" cy="1554.8" r="8"/><circle cx="228.9" cy="1552.6" r="8"/><circle cx="228.6" cy="1553.3" r="8"/><circle cx="228.3" cy="1552.1" r="8"/><circle cx="228.8" cy="1550.1" r="8"/><circle cx="223.9" cy="1562.4" r="8"/><circle cx="207.4" cy="1550.2" r="8"/><circle cx="216.8" cy="1554.7" r="8"/><circle cx="204.7" cy="1560.1" r="8"/><circle cx="227.6" cy="1562.9" r="8"/><circle cx="222.4" cy="1563.5" r="8"/><circle cx="225.1" cy="1550.4" r="8"/><circle cx="209.5" cy="1564.2" r="8"/><circle cx="204.4" cy="1557.9" r="8"/><circle cx="215.7" cy="1562.7" r="8"/><circle cx="217.4" cy="1549.1" r="8"/><circle cx="219.7" cy="1558.8" r="8"/><circle cx="220.1" cy="1563.4" r="8"/><circle cx="226.7" cy="1560.2" r="8"/><circle cx="218.9" cy="1562.6" r="8"/><circle cx="215.5" cy="1561.0" r="8"/><circle cx="221.7" cy="1553.4" r="8"/><circle cx="222.2" cy="1563.2" r="8"/><circle cx="214.1" cy="1556.3" r="8"/><circle cx="210.1" cy="1562.9" r="8"/><circle cx="215.9" cy="1562.9" r="8"/><circle cx="219.1" cy="1548.8" r="8"/><circle cx="228.7" cy="1560.3" r="8"/><circle cx="223.7" cy="1557.6" r="8"/><circle cx="222.6" cy="1563.0" r="8"/><circle cx="228.4" cy="1562.8" r="8"/><circle cx="205.4" cy="1564.3" r="8"/><circle cx="209.6" cy="1548.4" r="8"/><circle cx="220.0" cy="1562.4" r="8"/><circle cx="208.0" cy="1563.8" r="8"/><circle cx="206.8" cy="1551.4" r="8"/><circle cx="208.8" cy="1562.9" r="8"/><circle cx="216.9" cy="1564.0" r="8"/><circle cx="226.3" cy="1550.9" r="8"/><circle cx="225.3" cy="1564.4" r="8"/><circle cx="216.7" cy="1550.3" r="8"/><circle cx="224.0" cy="1563.1" r="8"/><circle cx="217.7" cy="1563.5" r="8"/><circle cx="204.4" cy="1557.6" r="8"/><circle cx="224.8" cy="1564.3" r="8"/><circle cx="207.2" cy="1563.4" r="8"/><circle cx="214.8" cy="1564.0" r="8"/><circle cx="217.7" cy="1547.6" r="8"/><circle cx="222.3" cy="1562.8" r="8"/><circle cx="206.7" cy="1562.6" r="8"/><circle cx="223.1" cy="1559.2" r="8"/><circle cx="228.5" cy="1554.0" r="8"/><circle cx="206.1" cy="1564.4" r="8"/><circle cx="219.0" cy="1552.5" r="8"/><circle cx="215.7" cy="1541.2" r="8"/><circle cx="218.7" cy="1539.4" r="8"/><circle cx="225.6" cy="1543.0" r="8"/><circle cx="223.3" cy="1544.1" r="8"/><circle cx="224.7" cy="1546.2" r="8"/><circle cx="206.1" cy="1543.9" r="8"/><circle cx="224.3" cy="1543.4" r="8"/><circle cx="223.9" cy="1539.8" r="8"/><circle cx="223.5" cy="1534.8" r="8"/><circle cx="220.6" cy="1540.0" r="8"/><circle cx="213.3" cy="1536.5" r="8"/><circle cx="213.4" cy="1538.4" r="8"/><circle cx="215.8" cy="1532.3" r="8"/><circle cx="220.4" cy="1547.0" r="8"/><circle cx="223.0" cy="1546.4" r="8"/><circle cx="228.2" cy="1545.4" r="8"/><circle cx="272.4" cy="1495.4" r="8"/><circle cx="266.4" cy="1563.9" r="8"/><circle cx="268.3" cy="1564.3" r="8"/><circle cx="270.2" cy="1564.4" r="8"/><circle cx="272.1" cy="1564.0" r="8"/><circle cx="274.0" cy="1564.3" r="8"/><circle cx="275.9" cy="1563.6" r="8"/><circle cx="277.8" cy="1563.6" r="8"/><circle cx="279.7" cy="1564.0" r="8"/><circle cx="281.7" cy="1564.2" r="8"/><circle cx="283.6" cy="1564.3" r="8"/><circle cx="285.5" cy="1564.0" r="8"/><circle cx="287.4" cy="1564.0" r="8"/><circle cx="289.3" cy="1564.1" r="8"/><circle cx="291.2" cy="1563.8" r="8"/><circle cx="266.7" cy="1564.4" r="8"/><circle cx="267.1" cy="1563.4" r="8"/><circle cx="266.8" cy="1562.2" r="8"/><circle cx="266.9" cy="1561.0" r="8"/><circle cx="267.0" cy="1560.2" r="8"/><circle cx="266.8" cy="1558.6" r="8"/><circle cx="266.6" cy="1557.9" r="8"/><circle cx="266.8" cy="1555.9" r="8"/><circle cx="266.4" cy="1555.3" r="8"/><circle cx="267.1" cy="1554.5" r="8"/><circle cx="266.7" cy="1553.9" r="8"/><circle cx="267.1" cy="1550.9" r="8"/><circle cx="266.5" cy="1552.2" r="8"/><circle cx="266.8" cy="1549.6" r="8"/><circle cx="290.7" cy="1564.4" r="8"/><circle cx="291.0" cy="1563.2" r="8"/><circle cx="290.8" cy="1562.4" r="8"/><circle cx="290.7" cy="1561.4" r="8"/><circle cx="291.2" cy="1560.4" r="8"/><circle cx="290.7" cy="1558.5" r="8"/><circle cx="290.5" cy="1558.3" r="8"/><circle cx="290.5" cy="1557.2" r="8"/><circle cx="290.8" cy="1554.9" r="8"/><circle cx="290.6" cy="1555.2" r="8"/><circle cx="291.0" cy="1553.5" r="8"/><circle cx="290.7" cy="1553.2" r="8"/><circle cx="290.6" cy="1549.7" r="8"/><circle cx="290.5" cy="1550.8" r="8"/><circle cx="288.8" cy="1562.5" r="8"/><circle cx="281.4" cy="1547.9" r="8"/><circle cx="284.1" cy="1556.4" r="8"/><circle cx="271.2" cy="1564.1" r="8"/><circle cx="286.6" cy="1564.2" r="8"/><circle cx="272.7" cy="1560.1" r="8"/><circle cx="270.1" cy="1547.3" r="8"/><circle cx="270.7" cy="1563.7" r="8"/><circle cx="271.0" cy="1563.7" r="8"/><circle cx="287.8" cy="1550.3" r="8"/><circle cx="285.3" cy="1564.2" r="8"/><circle cx="290.0" cy="1562.5" r="8"/><circle cx="286.7" cy="1549.8" r="8"/><circle cx="275.7" cy="1558.1" r="8"/><circle cx="269.1" cy="1557.9" r="8"/><circle cx="276.6" cy="1548.7" r="8"/><circle cx="285.1" cy="1562.5" r="8"/><circle cx="286.3" cy="1548.6" r="8"/><circle cx="285.1" cy="1562.8" r="8"/><circle cx="282.7" cy="1563.9" r="8"/><circle cx="269.7" cy="1549.9" r="8"/><circle cx="286.7" cy="1558.6" r="8"/><circle cx="287.4" cy="1549.9" r="8"/><circle cx="289.7" cy="1564.1" r="8"/><circle cx="282.6" cy="1562.9" r="8"/><circle cx="280.0" cy="1549.4" r="8"/><circle cx="285.8" cy="1558.6" r="8"/><circle cx="271.7" cy="1562.5" r="8"/><circle cx="268.9" cy="1560.1" r="8"/><circle cx="286.1" cy="1564.0" r="8"/><circle cx="268.1" cy="1563.2" r="8"/><circle cx="277.8" cy="1564.0" r="8"/><circle cx="290.1" cy="1550.6" r="8"/><circle cx="288.6" cy="1553.5" r="8"/><circle cx="284.6" cy="1548.9" r="8"/><circle cx="280.6" cy="1549.4" r="8"/><circle cx="287.0" cy="1554.3" r="8"/><circle cx="276.7" cy="1556.1" r="8"/><circle cx="271.5" cy="1563.0" r="8"/><circle cx="290.2" cy="1558.1" r="8"/><circle cx="289.1" cy="1564.1" r="8"/><circle cx="277.1" cy="1554.2" r="8"/><circle cx="268.7" cy="1563.5" r="8"/><circle cx="286.0" cy="1550.3" r="8"/><circle cx="284.9" cy="1560.6" r="8"/><circle cx="288.3" cy="1563.9" r="8"/><circle cx="275.8" cy="1563.5" r="8"/><circle cx="271.4" cy="1562.4" r="8"/><circle cx="284.5" cy="1558.7" r="8"/><circle cx="279.6" cy="1535.8" r="8"/><circle cx="282.3" cy="1541.3" r="8"/><circle cx="286.2" cy="1534.7" r="8"/><circle cx="280.3" cy="1547.2" r="8"/><circle cx="271.4" cy="1545.0" r="8"/><circle cx="280.0" cy="1546.3" r="8"/><circle cx="287.3" cy="1544.6" r="8"/><circle cx="287.0" cy="1539.2" r="8"/><circle cx="270.5" cy="1536.2" r="8"/><circle cx="287.1" cy="1541.3" r="8"/><circle cx="289.8" cy="1546.2" r="8"/><circle cx="287.8" cy="1541.5" r="8"/><circle cx="271.2" cy="1542.1" r="8"/><circle cx="285.5" cy="1543.1" r="8"/><circle cx="280.8" cy="1540.2" r="8"/><circle cx="274.7" cy="1537.3" r="8"/><circle cx="279.1" cy="1540.1" r="8"/><circle cx="270.4" cy="1540.8" r="8"/><circle cx="276.8" cy="1528.6" r="8"/><circle cx="284.4" cy="1544.1" r="8"/><circle cx="274.4" cy="1536.9" r="8"/><circle cx="272.0" cy="1541.5" r="8"/><circle cx="287.6" cy="1542.7" r="8"/><circle cx="280.3" cy="1536.1" r="8"/><circle cx="284.5" cy="1544.2" r="8"/><circle cx="283.6" cy="1544.0" r="8"/><circle cx="412.9" cy="381.4" r="8"/><circle cx="408.2" cy="691.6" r="8"/><circle cx="407.5" cy="1522.5" r="8"/><circle cx="408.5" cy="1537.0" r="8"/><circle cx="391.5" cy="1540.5" r="8"/><circle cx="390.8" cy="1563.8" r="8"/><circle cx="392.7" cy="1563.8" r="8"/><circle cx="394.6" cy="1564.4" r="8"/><circle cx="396.5" cy="1564.4" r="8"/><circle cx="398.4" cy="1564.0" r="8"/><circle cx="400.3" cy="1563.6" r="8"/><circle cx="402.2" cy="1564.1" r="8"/><circle cx="404.1" cy="1563.9" r="8"/><circle cx="406.0" cy="1564.4" r="8"/><circle cx="407.9" cy="1564.0" r="8"/><circle cx="409.8" cy="1563.6" r="8"/><circle cx="411.8" cy="1563.9" r="8"/><circle cx="413.7" cy="1563.7" r="8"/><circle cx="415.6" cy="1564.4" r="8"/><circle cx="391.4" cy="1564.4" r="8"/><circle cx="390.9" cy="1563.7" r="8"/><circle cx="390.8" cy="1562.9" r="8"/><circle cx="390.9" cy="1562.0" r="8"/><circle cx="391.3" cy="1560.8" r="8"/><circle cx="391.2" cy="1560.2" r="8"/><circle cx="391.5" cy="1559.2" r="8"/><circle cx="390.8" cy="1559.2" r="8"/><circle cx="415.4" cy="1564.4" r="8"/><circle cx="414.9" cy="1563.6" r="8"/><circle cx="415.3" cy="1562.6" r="8"/><circle cx="415.6" cy="1561.7" r="8"/><circle cx="415.3" cy="1561.1" r="8"/><circle cx="414.9" cy="1560.2" r="8"/><circle cx="415.2" cy="1559.7" r="8"/><circle cx="415.5" cy="1559.1" r="8"/><circle cx="394.5" cy="1563.3" r="8"/><circle cx="394.7" cy="1558.7" r="8"/><circle cx="404.7" cy="1560.3" r="8"/><circle cx="391.1" cy="1560.5" r="8"/><circle cx="396.6" cy="1561.4" r="8"/><circle cx="411.2" cy="1563.9" r="8"/><circle cx="402.6" cy="1563.7" r="8"/><circle cx="409.7" cy="1562.0" r="8"/><circle cx="411.5" cy="1559.6" r="8"/><circle cx="413.7" cy="1560.8" r="8"/><circle cx="392.5" cy="1564.0" r="8"/><circle cx="393.0" cy="1562.0" r="8"/><circle cx="398.4" cy="1563.5" r="8"/><circle cx="396.8" cy="1557.7" r="8"/><circle cx="398.8" cy="1562.2" r="8"/><circle cx="401.4" cy="1562.9" r="8"/><circle cx="393.8" cy="1564.1" r="8"/><circle cx="394.7" cy="1563.0" r="8"/><circle cx="403.3" cy="1564.3" r="8"/><circle cx="409.2" cy="1563.7" r="8"/><circle cx="394.9" cy="1563.3" r="8"/><circle cx="407.2" cy="1563.5" r="8"/><circle cx="390.9" cy="1557.9" r="8"/><circle cx="395.7" cy="1561.5" r="8"/><circle cx="415.4" cy="1559.5" r="8"/><circle cx="407.4" cy="1562.5" r="8"/><circle cx="407.8" cy="1561.5" r="8"/><circle cx="392.5" cy="1563.3" r="8"/><circle cx="413.6" cy="1557.3" r="8"/><circle cx="402.9" cy="1560.8" r="8"/><circle cx="403.1" cy="1559.6" r="8"/><circle cx="413.9" cy="1563.8" r="8"/><circle cx="394.3" cy="1563.4" r="8"/><circle cx="407.8" cy="1563.5" r="8"/><circle cx="415.0" cy="1563.2" r="8"/><circle cx="410.6" cy="1559.3" r="8"/><circle cx="392.1" cy="1562.1" r="8"/><circle cx="399.4" cy="1559.2" r="8"/><circle cx="400.2" cy="1554.6" r="8"/><circle cx="398.2" cy="1554.8" r="8"/><circle cx="401.6" cy="1557.1" r="8"/><circle cx="399.2" cy="1542.4" r="8"/><circle cx="411.3" cy="1554.9" r="8"/><circle cx="395.7" cy="1554.0" r="8"/><circle cx="408.3" cy="1556.2" r="8"/><circle cx="401.5" cy="1546.8" r="8"/><circle cx="392.3" cy="1554.4" r="8"/><circle cx="401.4" cy="1544.7" r="8"/><circle cx="415.0" cy="1556.2" r="8"/><circle cx="410.4" cy="1550.3" r="8"/><circle cx="411.6" cy="1555.4" r="8"/><circle cx="413.0" cy="1553.5" r="8"/><circle cx="456.4" cy="1539.0" r="8"/><circle cx="461.6" cy="1542.2" r="8"/><circle cx="469.9" cy="1542.2" r="8"/><circle cx="476.0" cy="1546.3" r="8"/><circle cx="457.4" cy="1563.9" r="8"/><circle cx="458.5" cy="1564.2" r="8"/><circle cx="459.7" cy="1564.0" r="8"/><circle cx="460.8" cy="1563.7" r="8"/><circle cx="462.0" cy="1563.9" r="8"/><circle cx="463.1" cy="1563.8" r="8"/><circle cx="464.3" cy="1564.1" r="8"/><circle cx="465.4" cy="1564.0" r="8"/><circle cx="466.6" cy="1563.6" r="8"/><circle cx="467.7" cy="1563.7" r="8"/><circle cx="468.9" cy="1563.8" r="8"/><circle cx="470.1" cy="1564.3" r="8"/><circle cx="471.2" cy="1563.9" r="8"/><circle cx="472.4" cy="1564.4" r="8"/><circle cx="457.4" cy="1564.4" r="8"/><circle cx="457.5" cy="1563.9" r="8"/><circle cx="457.4" cy="1563.4" r="8"/><circle cx="457.4" cy="1562.8" r="8"/><circle cx="457.8" cy="1562.2" r="8"/><circle cx="472.1" cy="1564.4" r="8"/><circle cx="472.2" cy="1563.9" r="8"/><circle cx="472.3" cy="1563.4" r="8"/><circle cx="472.3" cy="1562.9" r="8"/><circle cx="471.9" cy="1562.4" r="8"/><circle cx="466.7" cy="1564.2" r="8"/><circle cx="461.7" cy="1563.9" r="8"/><circle cx="470.9" cy="1561.8" r="8"/><circle cx="464.0" cy="1562.3" r="8"/><circle cx="471.3" cy="1563.8" r="8"/><circle cx="460.8" cy="1562.8" r="8"/><circle cx="465.6" cy="1561.7" r="8"/><circle cx="459.5" cy="1562.5" r="8"/><circle cx="469.2" cy="1563.4" r="8"/><circle cx="471.7" cy="1563.8" r="8"/><circle cx="469.8" cy="1562.3" r="8"/><circle cx="463.3" cy="1562.4" r="8"/><circle cx="471.7" cy="1563.8" r="8"/><circle cx="464.9" cy="1562.9" r="8"/><circle cx="468.5" cy="1562.2" r="8"/><circle cx="460.5" cy="1563.6" r="8"/><circle cx="467.2" cy="1562.3" r="8"/><circle cx="459.7" cy="1562.9" r="8"/><circle cx="465.0" cy="1563.4" r="8"/><circle cx="468.2" cy="1564.0" r="8"/><circle cx="458.8" cy="1562.1" r="8"/><circle cx="464.6" cy="1562.6" r="8"/><circle cx="460.6" cy="1562.7" r="8"/><circle cx="469.3" cy="1564.4" r="8"/><circle cx="465.6" cy="1562.0" r="8"/><circle cx="466.5" cy="1559.9" r="8"/><circle cx="467.3" cy="1556.9" r="8"/><circle cx="468.7" cy="1558.2" r="8"/><circle cx="467.3" cy="1560.7" r="8"/><circle cx="464.0" cy="1560.8" r="8"/><circle cx="470.9" cy="1560.2" r="8"/><circle cx="461.1" cy="1557.5" r="8"/><circle cx="465.0" cy="1559.0" r="8"/><circle cx="521.6" cy="1564.6" r="8"/><circle cx="530.7" cy="1564.6" r="8"/><circle cx="651.1" cy="1504.3" r="8"/><circle cx="663.0" cy="1551.0" r="8"/><circle cx="656.0" cy="1553.0" r="8"/><circle cx="643.4" cy="1564.1" r="8"/><circle cx="645.0" cy="1563.7" r="8"/><circle cx="646.5" cy="1564.1" r="8"/><circle cx="648.0" cy="1564.2" r="8"/><circle cx="649.6" cy="1564.1" r="8"/><circle cx="651.1" cy="1564.4" r="8"/><circle cx="652.7" cy="1564.0" r="8"/><circle cx="654.2" cy="1564.1" r="8"/><circle cx="655.7" cy="1564.4" r="8"/><circle cx="657.3" cy="1563.7" r="8"/><circle cx="658.8" cy="1564.1" r="8"/><circle cx="660.4" cy="1564.4" r="8"/><circle cx="661.9" cy="1563.6" r="8"/><circle cx="663.4" cy="1564.2" r="8"/><circle cx="643.9" cy="1564.4" r="8"/><circle cx="644.0" cy="1563.9" r="8"/><circle cx="643.7" cy="1563.4" r="8"/><circle cx="643.9" cy="1562.9" r="8"/><circle cx="643.4" cy="1562.4" r="8"/><circle cx="663.4" cy="1564.4" r="8"/><circle cx="662.9" cy="1563.8" r="8"/><circle cx="662.8" cy="1563.3" r="8"/><circle cx="663.3" cy="1562.8" r="8"/><circle cx="663.2" cy="1562.2" r="8"/><circle cx="648.7" cy="1562.9" r="8"/><circle cx="657.6" cy="1563.9" r="8"/><circle cx="656.0" cy="1562.2" r="8"/><circle cx="659.7" cy="1561.8" r="8"/><circle cx="662.0" cy="1563.5" r="8"/><circle cx="650.1" cy="1564.1" r="8"/><circle cx="656.3" cy="1562.4" r="8"/><circle cx="659.0" cy="1562.4" r="8"/><circle cx="658.6" cy="1563.1" r="8"/><circle cx="655.8" cy="1564.1" r="8"/><circle cx="657.1" cy="1563.9" r="8"/><circle cx="646.1" cy="1564.1" r="8"/><circle cx="662.4" cy="1563.4" r="8"/><circle cx="659.3" cy="1563.4" r="8"/><circle cx="662.9" cy="1564.0" r="8"/><circle cx="652.5" cy="1564.2" r="8"/><circle cx="651.7" cy="1563.0" r="8"/><circle cx="660.4" cy="1563.5" r="8"/><circle cx="648.2" cy="1563.1" r="8"/><circle cx="651.3" cy="1563.0" r="8"/><circle cx="649.9" cy="1563.3" r="8"/><circle cx="647.5" cy="1562.3" r="8"/><circle cx="645.3" cy="1564.4" r="8"/><circle cx="660.2" cy="1563.2" r="8"/><circle cx="660.2" cy="1562.3" r="8"/><circle cx="643.7" cy="1562.7" r="8"/><circle cx="655.8" cy="1563.6" r="8"/><circle cx="650.9" cy="1562.8" r="8"/><circle cx="645.5" cy="1563.2" r="8"/><circle cx="655.4" cy="1562.7" r="8"/><circle cx="660.9" cy="1562.7" r="8"/><circle cx="644.3" cy="1562.8" r="8"/><circle cx="649.0" cy="1563.0" r="8"/><circle cx="661.3" cy="1562.6" r="8"/><circle cx="651.0" cy="1562.7" r="8"/><circle cx="655.8" cy="1562.2" r="8"/><circle cx="662.0" cy="1562.8" r="8"/><circle cx="654.8" cy="1561.8" r="8"/><circle cx="652.6" cy="1564.3" r="8"/><circle cx="662.8" cy="1562.3" r="8"/><circle cx="653.1" cy="1560.0" r="8"/><circle cx="654.0" cy="1560.1" r="8"/><circle cx="661.4" cy="1560.4" r="8"/><circle cx="651.9" cy="1555.2" r="8"/><circle cx="645.0" cy="1561.1" r="8"/><circle cx="644.7" cy="1560.7" r="8"/><circle cx="658.7" cy="1560.1" r="8"/><circle cx="651.8" cy="1557.9" r="8"/><circle cx="715.7" cy="1563.9" r="8"/><circle cx="768.1" cy="1462.9" r="8"/><circle cx="782.6" cy="1529.3" r="8"/><circle cx="767.0" cy="1540.0" r="8"/><circle cx="773.2" cy="1542.1" r="8"/><circle cx="762.0" cy="1549.4" r="8"/><circle cx="763.9" cy="1563.7" r="8"/><circle cx="765.8" cy="1564.4" r="8"/><circle cx="767.7" cy="1564.0" r="8"/><circle cx="769.6" cy="1563.7" r="8"/><circle cx="771.5" cy="1563.7" r="8"/><circle cx="773.4" cy="1563.8" r="8"/><circle cx="775.4" cy="1564.1" r="8"/><circle cx="777.3" cy="1564.2" r="8"/><circle cx="779.2" cy="1563.8" r="8"/><circle cx="781.1" cy="1564.1" r="8"/><circle cx="783.0" cy="1563.8" r="8"/><circle cx="784.9" cy="1564.1" r="8"/><circle cx="786.8" cy="1563.7" r="8"/><circle cx="788.7" cy="1563.9" r="8"/><circle cx="764.0" cy="1564.4" r="8"/><circle cx="764.4" cy="1563.7" r="8"/><circle cx="764.6" cy="1563.0" r="8"/><circle cx="764.6" cy="1562.4" r="8"/><circle cx="764.4" cy="1561.7" r="8"/><circle cx="764.4" cy="1561.4" r="8"/><circle cx="788.5" cy="1564.4" r="8"/><circle cx="788.5" cy="1563.8" r="8"/><circle cx="788.0" cy="1563.0" r="8"/><circle cx="788.1" cy="1562.5" r="8"/><circle cx="788.0" cy="1562.0" r="8"/><circle cx="788.5" cy="1561.0" r="8"/><circle cx="782.1" cy="1563.4" r="8"/><circle cx="777.2" cy="1564.0" r="8"/><circle cx="768.8" cy="1561.3" r="8"/><circle cx="766.3" cy="1562.9" r="8"/><circle cx="778.2" cy="1561.3" r="8"/><circle cx="766.8" cy="1561.3" r="8"/><circle cx="766.3" cy="1564.1" r="8"/><circle cx="770.6" cy="1562.2" r="8"/><circle cx="770.9" cy="1562.4" r="8"/><circle cx="777.8" cy="1562.9" r="8"/><circle cx="787.6" cy="1560.3" r="8"/><circle cx="771.9" cy="1563.0" r="8"/><circle cx="786.2" cy="1562.5" r="8"/><circle cx="771.6" cy="1560.8" r="8"/><circle cx="770.7" cy="1560.5" r="8"/><circle cx="773.0" cy="1563.9" r="8"/><circle cx="770.1" cy="1563.6" r="8"/><circle cx="771.5" cy="1562.5" r="8"/><circle cx="781.9" cy="1561.1" r="8"/><circle cx="783.5" cy="1560.4" r="8"/><circle cx="772.1" cy="1562.4" r="8"/><circle cx="779.0" cy="1560.6" r="8"/><circle cx="785.9" cy="1560.4" r="8"/><circle cx="769.8" cy="1561.4" r="8"/><circle cx="772.6" cy="1560.8" r="8"/><circle cx="768.7" cy="1561.5" r="8"/><circle cx="788.3" cy="1563.5" r="8"/><circle cx="764.9" cy="1561.3" r="8"/><circle cx="767.6" cy="1563.9" r="8"/><circle cx="783.6" cy="1563.6" r="8"/><circle cx="785.3" cy="1561.7" r="8"/><circle cx="782.9" cy="1563.5" r="8"/><circle cx="772.3" cy="1560.4" r="8"/><circle cx="772.4" cy="1560.3" r="8"/><circle cx="768.9" cy="1562.5" r="8"/><circle cx="766.8" cy="1560.3" r="8"/><circle cx="782.5" cy="1562.7" r="8"/><circle cx="787.7" cy="1564.2" r="8"/><circle cx="781.8" cy="1561.0" r="8"/><circle cx="774.1" cy="1561.5" r="8"/><circle cx="787.1" cy="1564.3" r="8"/><circle cx="775.6" cy="1560.9" r="8"/><circle cx="777.4" cy="1563.8" r="8"/><circle cx="765.9" cy="1562.3" r="8"/><circle cx="774.5" cy="1562.9" r="8"/><circle cx="787.6" cy="1562.4" r="8"/><circle cx="782.0" cy="1561.4" r="8"/><circle cx="786.8" cy="1564.4" r="8"/><circle cx="784.1" cy="1561.8" r="8"/><circle cx="786.8" cy="1564.3" r="8"/><circle cx="767.3" cy="1564.2" r="8"/><circle cx="769.1" cy="1562.8" r="8"/><circle cx="780.4" cy="1560.5" r="8"/><circle cx="774.2" cy="1563.8" r="8"/><circle cx="774.3" cy="1564.4" r="8"/><circle cx="766.5" cy="1560.1" r="8"/><circle cx="782.1" cy="1562.6" r="8"/><circle cx="776.1" cy="1561.4" r="8"/><circle cx="776.6" cy="1563.8" r="8"/><circle cx="785.6" cy="1564.1" r="8"/><circle cx="771.8" cy="1555.6" r="8"/><circle cx="775.6" cy="1553.5" r="8"/><circle cx="777.8" cy="1557.6" r="8"/><circle cx="776.6" cy="1559.4" r="8"/><circle cx="786.2" cy="1556.4" r="8"/><circle cx="768.5" cy="1553.2" r="8"/><circle cx="773.0" cy="1554.6" r="8"/><circle cx="775.1" cy="1551.7" r="8"/><circle cx="781.2" cy="1549.6" r="8"/><circle cx="783.8" cy="1556.2" r="8"/><circle cx="781.4" cy="1558.0" r="8"/><circle cx="771.8" cy="1558.4" r="8"/><circle cx="835.0" cy="1193.9" r="8"/><circle cx="837.4" cy="1546.3" r="8"/><circle cx="843.6" cy="1544.2" r="8"/><circle cx="829.2" cy="1549.4" r="8"/><circle cx="826.1" cy="1564.1" r="8"/><circle cx="828.0" cy="1563.7" r="8"/><circle cx="829.9" cy="1563.7" r="8"/><circle cx="831.8" cy="1563.8" r="8"/><circle cx="833.7" cy="1563.6" r="8"/><circle cx="835.6" cy="1563.8" r="8"/><circle cx="837.5" cy="1564.3" r="8"/><circle cx="839.5" cy="1564.4" r="8"/><circle cx="841.4" cy="1564.3" r="8"/><circle cx="843.3" cy="1564.2" r="8"/><circle cx="845.2" cy="1563.9" r="8"/><circle cx="847.1" cy="1563.7" r="8"/><circle cx="849.0" cy="1563.9" r="8"/><circle cx="850.9" cy="1564.0" r="8"/><circle cx="826.7" cy="1564.4" r="8"/><circle cx="826.3" cy="1563.9" r="8"/><circle cx="826.8" cy="1563.3" r="8"/><circle cx="826.7" cy="1562.7" r="8"/><circle cx="826.8" cy="1562.3" r="8"/><circle cx="850.4" cy="1564.4" r="8"/><circle cx="850.4" cy="1563.9" r="8"/><circle cx="850.3" cy="1563.3" r="8"/><circle cx="850.9" cy="1562.8" r="8"/><circle cx="850.7" cy="1562.4" r="8"/><circle cx="850.5" cy="1564.2" r="8"/><circle cx="834.8" cy="1562.6" r="8"/><circle cx="849.2" cy="1563.1" r="8"/><circle cx="841.7" cy="1563.9" r="8"/><circle cx="830.6" cy="1563.3" r="8"/><circle cx="830.4" cy="1564.2" r="8"/><circle cx="837.9" cy="1562.9" r="8"/><circle cx="848.3" cy="1562.3" r="8"/><circle cx="846.7" cy="1564.3" r="8"/><circle cx="829.6" cy="1563.5" r="8"/><circle cx="829.3" cy="1562.7" r="8"/><circle cx="843.2" cy="1562.0" r="8"/><circle cx="845.8" cy="1562.4" r="8"/><circle cx="842.4" cy="1564.0" r="8"/><circle cx="830.2" cy="1564.0" r="8"/><circle cx="835.7" cy="1564.0" r="8"/><circle cx="836.1" cy="1562.8" r="8"/><circle cx="834.3" cy="1564.2" r="8"/><circle cx="848.9" cy="1562.5" r="8"/><circle cx="845.6" cy="1563.2" r="8"/><circle cx="832.4" cy="1564.1" r="8"/><circle cx="834.1" cy="1561.9" r="8"/><circle cx="828.6" cy="1562.9" r="8"/><circle cx="845.8" cy="1562.7" r="8"/><circle cx="829.7" cy="1563.7" r="8"/><circle cx="835.3" cy="1562.9" r="8"/><circle cx="846.7" cy="1564.0" r="8"/><circle cx="834.5" cy="1562.1" r="8"/><circle cx="844.6" cy="1562.9" r="8"/><circle cx="843.3" cy="1563.6" r="8"/><circle cx="845.0" cy="1561.9" r="8"/><circle cx="832.9" cy="1563.4" r="8"/><circle cx="833.7" cy="1562.7" r="8"/><circle cx="850.0" cy="1563.8" r="8"/><circle cx="839.2" cy="1562.1" r="8"/><circle cx="836.3" cy="1562.9" r="8"/><circle cx="848.9" cy="1564.1" r="8"/><circle cx="842.8" cy="1564.0" r="8"/><circle cx="843.3" cy="1562.7" r="8"/><circle cx="826.4" cy="1564.3" r="8"/><circle cx="829.9" cy="1562.2" r="8"/><circle cx="830.0" cy="1562.2" r="8"/><circle cx="844.6" cy="1561.8" r="8"/><circle cx="833.0" cy="1563.0" r="8"/><circle cx="843.0" cy="1562.7" r="8"/><circle cx="838.2" cy="1562.3" r="8"/><circle cx="848.0" cy="1563.6" r="8"/><circle cx="840.1" cy="1563.4" r="8"/><circle cx="849.9" cy="1563.3" r="8"/><circle cx="843.8" cy="1561.8" r="8"/><circle cx="829.8" cy="1562.0" r="8"/><circle cx="846.5" cy="1562.4" r="8"/><circle cx="842.2" cy="1561.5" r="8"/><circle cx="828.0" cy="1564.0" r="8"/><circle cx="832.6" cy="1563.5" r="8"/><circle cx="848.6" cy="1564.2" r="8"/><circle cx="837.1" cy="1563.2" r="8"/><circle cx="834.7" cy="1562.7" r="8"/><circle cx="844.1" cy="1562.3" r="8"/><circle cx="829.2" cy="1564.2" r="8"/><circle cx="831.7" cy="1558.6" r="8"/><circle cx="847.8" cy="1559.0" r="8"/><circle cx="849.2" cy="1560.9" r="8"/><circle cx="834.0" cy="1557.7" r="8"/><circle cx="836.0" cy="1555.5" r="8"/><circle cx="838.9" cy="1556.1" r="8"/><circle cx="841.5" cy="1558.3" r="8"/><circle cx="840.5" cy="1559.7" r="8"/><circle cx="899.4" cy="567.5" r="8"/><circle cx="911.2" cy="838.0" r="8"/><circle cx="898.5" cy="1554.6" r="8"/><circle cx="901.6" cy="1564.5" r="8"/><circle cx="909.9" cy="1564.5" r="8"/><circle cx="1012.5" cy="1561.8" r="8"/><circle cx="1029.0" cy="1563.9" r="8"/><circle cx="1034.2" cy="1564.5" r="8"/><circle cx="1088.4" cy="665.5" r="8"/><circle cx="1083.0" cy="944.6" r="8"/><circle cx="1079.6" cy="1070.4" r="8"/><circle cx="1084.5" cy="1363.5" r="8"/><circle cx="1082.9" cy="1508.0" r="8"/><circle cx="1089.5" cy="1514.2" r="8"/><circle cx="1091.6" cy="1530.8" r="8"/><circle cx="1091.0" cy="1544.5" r="8"/><circle cx="1074.9" cy="1563.7" r="8"/><circle cx="1076.8" cy="1563.7" r="8"/><circle cx="1078.7" cy="1564.3" r="8"/><circle cx="1080.6" cy="1564.4" r="8"/><circle cx="1082.5" cy="1564.3" r="8"/><circle cx="1084.4" cy="1563.7" r="8"/><circle cx="1086.3" cy="1563.7" r="8"/><circle cx="1088.2" cy="1564.0" r="8"/><circle cx="1090.1" cy="1564.2" r="8"/><circle cx="1092.0" cy="1563.7" r="8"/><circle cx="1093.9" cy="1564.3" r="8"/><circle cx="1095.8" cy="1564.1" r="8"/><circle cx="1097.8" cy="1564.4" r="8"/><circle cx="1099.7" cy="1563.6" r="8"/><circle cx="1075.3" cy="1564.4" r="8"/><circle cx="1075.0" cy="1563.7" r="8"/><circle cx="1074.9" cy="1563.0" r="8"/><circle cx="1074.9" cy="1562.3" r="8"/><circle cx="1075.5" cy="1561.7" r="8"/><circle cx="1075.4" cy="1561.3" r="8"/><circle cx="1099.2" cy="1564.4" r="8"/><circle cx="1099.0" cy="1563.8" r="8"/><circle cx="1099.0" cy="1563.0" r="8"/><circle cx="1099.3" cy="1562.4" r="8"/><circle cx="1099.3" cy="1561.7" r="8"/><circle cx="1099.2" cy="1561.2" r="8"/><circle cx="1096.9" cy="1562.9" r="8"/><circle cx="1093.1" cy="1560.7" r="8"/><circle cx="1088.9" cy="1562.6" r="8"/><circle cx="1082.6" cy="1564.0" r="8"/><circle cx="1092.6" cy="1564.2" r="8"/><circle cx="1080.0" cy="1563.1" r="8"/><circle cx="1090.2" cy="1562.6" r="8"/><circle cx="1084.6" cy="1562.0" r="8"/><circle cx="1096.3" cy="1563.8" r="8"/><circle cx="1079.1" cy="1562.4" r="8"/><circle cx="1076.3" cy="1562.2" r="8"/><circle cx="1086.8" cy="1562.1" r="8"/><circle cx="1090.7" cy="1563.2" r="8"/><circle cx="1083.9" cy="1561.0" r="8"/><circle cx="1094.5" cy="1560.2" r="8"/><circle cx="1080.4" cy="1563.9" r="8"/><circle cx="1075.4" cy="1564.1" r="8"/><circle cx="1081.3" cy="1564.4" r="8"/><circle cx="1074.9" cy="1563.5" r="8"/><circle cx="1082.9" cy="1563.4" r="8"/><circle cx="1082.9" cy="1562.9" r="8"/><circle cx="1093.2" cy="1560.8" r="8"/><circle cx="1080.6" cy="1564.4" r="8"/><circle cx="1080.0" cy="1563.4" r="8"/><circle cx="1077.9" cy="1562.5" r="8"/><circle cx="1077.8" cy="1562.0" r="8"/><circle cx="1091.6" cy="1561.7" r="8"/><circle cx="1084.2" cy="1563.1" r="8"/><circle cx="1095.6" cy="1564.3" r="8"/><circle cx="1076.7" cy="1562.5" r="8"/><circle cx="1083.4" cy="1564.0" r="8"/><circle cx="1095.2" cy="1560.7" r="8"/><circle cx="1098.1" cy="1563.6" r="8"/><circle cx="1091.6" cy="1561.9" r="8"/><circle cx="1077.3" cy="1562.8" r="8"/><circle cx="1078.2" cy="1564.0" r="8"/><circle cx="1090.7" cy="1561.6" r="8"/><circle cx="1093.5" cy="1560.7" r="8"/><circle cx="1079.1" cy="1562.1" r="8"/><circle cx="1076.8" cy="1563.8" r="8"/><circle cx="1091.1" cy="1560.6" r="8"/><circle cx="1089.5" cy="1563.5" r="8"/><circle cx="1077.2" cy="1564.3" r="8"/><circle cx="1076.9" cy="1561.8" r="8"/><circle cx="1089.5" cy="1563.9" r="8"/><circle cx="1098.3" cy="1562.9" r="8"/><circle cx="1088.3" cy="1562.6" r="8"/><circle cx="1093.9" cy="1562.3" r="8"/><circle cx="1090.7" cy="1561.3" r="8"/><circle cx="1093.7" cy="1562.3" r="8"/><circle cx="1085.8" cy="1562.0" r="8"/><circle cx="1080.3" cy="1561.0" r="8"/><circle cx="1085.4" cy="1563.3" r="8"/><circle cx="1099.4" cy="1562.8" r="8"/><circle cx="1081.4" cy="1562.7" r="8"/><circle cx="1098.2" cy="1563.3" r="8"/><circle cx="1075.5" cy="1562.9" r="8"/><circle cx="1082.5" cy="1562.1" r="8"/><circle cx="1076.6" cy="1562.3" r="8"/><circle cx="1083.5" cy="1562.5" r="8"/><circle cx="1087.9" cy="1556.7" r="8"/><circle cx="1080.4" cy="1555.8" r="8"/><circle cx="1087.9" cy="1550.2" r="8"/><circle cx="1081.9" cy="1559.9" r="8"/><circle cx="1084.0" cy="1555.4" r="8"/><circle cx="1087.1" cy="1558.5" r="8"/><circle cx="1075.8" cy="1558.9" r="8"/><circle cx="1083.0" cy="1552.8" r="8"/><circle cx="1085.4" cy="1555.6" r="8"/><circle cx="1096.0" cy="1555.7" r="8"/><circle cx="1088.7" cy="1556.2" r="8"/><circle cx="1090.7" cy="1559.9" r="8"/><circle cx="1207.1" cy="1538.6" r="8"/><circle cx="1201.1" cy="1563.7" r="8"/><circle cx="1202.8" cy="1563.7" r="8"/><circle cx="1204.4" cy="1564.0" r="8"/><circle cx="1206.0" cy="1563.5" r="8"/><circle cx="1207.6" cy="1563.9" r="8"/><circle cx="1209.2" cy="1564.3" r="8"/><circle cx="1210.8" cy="1564.2" r="8"/><circle cx="1212.4" cy="1564.3" r="8"/><circle cx="1214.1" cy="1563.9" r="8"/><circle cx="1215.7" cy="1563.9" r="8"/><circle cx="1217.3" cy="1563.7" r="8"/><circle cx="1218.9" cy="1564.4" r="8"/><circle cx="1220.5" cy="1564.4" r="8"/><circle cx="1222.1" cy="1563.6" r="8"/><circle cx="1201.6" cy="1564.4" r="8"/><circle cx="1201.2" cy="1564.1" r="8"/><circle cx="1201.3" cy="1563.7" r="8"/><circle cx="1201.4" cy="1563.4" r="8"/><circle cx="1221.5" cy="1564.4" r="8"/><circle cx="1221.9" cy="1564.1" r="8"/><circle cx="1221.8" cy="1563.8" r="8"/><circle cx="1221.7" cy="1563.4" r="8"/><circle cx="1206.4" cy="1564.2" r="8"/><circle cx="1208.6" cy="1563.6" r="8"/><circle cx="1206.2" cy="1563.6" r="8"/><circle cx="1208.9" cy="1563.2" r="8"/><circle cx="1221.9" cy="1563.6" r="8"/><circle cx="1213.4" cy="1564.1" r="8"/><circle cx="1216.1" cy="1563.7" r="8"/><circle cx="1207.7" cy="1563.7" r="8"/><circle cx="1211.0" cy="1563.2" r="8"/><circle cx="1206.5" cy="1564.0" r="8"/><circle cx="1205.8" cy="1563.6" r="8"/><circle cx="1208.6" cy="1563.7" r="8"/><circle cx="1220.1" cy="1563.2" r="8"/><circle cx="1202.6" cy="1564.0" r="8"/><circle cx="1219.1" cy="1564.4" r="8"/><circle cx="1210.4" cy="1563.9" r="8"/><circle cx="1208.8" cy="1564.2" r="8"/><circle cx="1213.4" cy="1563.4" r="8"/><circle cx="1206.5" cy="1564.1" r="8"/><circle cx="1213.2" cy="1563.5" r="8"/><circle cx="1220.4" cy="1563.6" r="8"/><circle cx="1207.0" cy="1563.7" r="8"/><circle cx="1211.4" cy="1563.1" r="8"/><circle cx="1205.3" cy="1563.9" r="8"/><circle cx="1211.1" cy="1563.7" r="8"/><circle cx="1203.0" cy="1563.3" r="8"/><circle cx="1213.7" cy="1563.4" r="8"/><circle cx="1201.9" cy="1563.7" r="8"/><circle cx="1213.8" cy="1563.2" r="8"/><circle cx="1220.1" cy="1564.2" r="8"/><circle cx="1216.0" cy="1564.2" r="8"/><circle cx="1214.7" cy="1563.2" r="8"/><circle cx="1210.9" cy="1564.3" r="8"/><circle cx="1204.2" cy="1563.9" r="8"/><circle cx="1201.3" cy="1563.4" r="8"/><circle cx="1221.2" cy="1563.6" r="8"/><circle cx="1203.3" cy="1563.1" r="8"/><circle cx="1208.1" cy="1564.1" r="8"/><circle cx="1202.1" cy="1563.7" r="8"/><circle cx="1220.1" cy="1563.5" r="8"/><circle cx="1219.4" cy="1564.3" r="8"/><circle cx="1211.5" cy="1563.1" r="8"/><circle cx="1204.8" cy="1563.4" r="8"/><circle cx="1220.1" cy="1563.6" r="8"/><circle cx="1215.0" cy="1563.9" r="8"/><circle cx="1206.9" cy="1563.7" r="8"/><circle cx="1205.9" cy="1563.4" r="8"/><circle cx="1215.0" cy="1563.7" r="8"/><circle cx="1221.5" cy="1564.0" r="8"/><circle cx="1207.6" cy="1563.3" r="8"/><circle cx="1211.5" cy="1559.4" r="8"/><circle cx="1217.2" cy="1562.6" r="8"/><circle cx="1213.7" cy="1559.0" r="8"/><circle cx="1211.3" cy="1561.9" r="8"/><circle cx="1212.0" cy="1562.0" r="8"/><circle cx="1214.2" cy="1560.1" r="8"/><circle cx="1209.3" cy="1559.7" r="8"/><circle cx="1213.0" cy="1562.6" r="8"/><circle cx="1344.6" cy="1515.4" r="8"/><circle cx="1323.6" cy="1564.0" r="8"/><circle cx="1325.5" cy="1564.2" r="8"/><circle cx="1327.4" cy="1564.2" r="8"/><circle cx="1329.3" cy="1564.3" r="8"/><circle cx="1331.3" cy="1563.8" r="8"/><circle cx="1333.2" cy="1564.0" r="8"/><circle cx="1335.1" cy="1563.6" r="8"/><circle cx="1337.0" cy="1563.6" r="8"/><circle cx="1338.9" cy="1563.6" r="8"/><circle cx="1340.8" cy="1563.6" r="8"/><circle cx="1342.7" cy="1563.7" r="8"/><circle cx="1344.6" cy="1564.4" r="8"/><circle cx="1346.5" cy="1564.3" r="8"/><circle cx="1348.4" cy="1563.6" r="8"/><circle cx="1323.7" cy="1564.4" r="8"/><circle cx="1323.9" cy="1563.7" r="8"/><circle cx="1324.0" cy="1563.0" r="8"/><circle cx="1324.0" cy="1562.3" r="8"/><circle cx="1324.3" cy="1561.2" r="8"/><circle cx="1323.9" cy="1560.4" r="8"/><circle cx="1324.1" cy="1559.9" r="8"/><circle cx="1347.9" cy="1564.4" r="8"/><circle cx="1347.8" cy="1563.6" r="8"/><circle cx="1348.1" cy="1563.0" r="8"/><circle cx="1347.7" cy="1562.2" r="8"/><circle cx="1348.1" cy="1561.2" r="8"/><circle cx="1347.8" cy="1561.0" r="8"/><circle cx="1347.9" cy="1559.7" r="8"/><circle cx="1324.4" cy="1560.8" r="8"/><circle cx="1335.9" cy="1560.3" r="8"/><circle cx="1346.9" cy="1561.7" r="8"/><circle cx="1334.0" cy="1561.2" r="8"/><circle cx="1345.5" cy="1564.2" r="8"/><circle cx="1330.7" cy="1562.4" r="8"/><circle cx="1344.5" cy="1559.0" r="8"/><circle cx="1337.3" cy="1560.9" r="8"/><circle cx="1341.9" cy="1564.2" r="8"/><circle cx="1324.0" cy="1561.2" r="8"/><circle cx="1339.8" cy="1563.5" r="8"/><circle cx="1340.0" cy="1562.3" r="8"/><circle cx="1347.4" cy="1564.3" r="8"/><circle cx="1324.7" cy="1559.5" r="8"/><circle cx="1329.0" cy="1563.4" r="8"/><circle cx="1338.0" cy="1564.0" r="8"/><circle cx="1327.9" cy="1560.4" r="8"/><circle cx="1341.3" cy="1563.1" r="8"/><circle cx="1340.6" cy="1563.8" r="8"/><circle cx="1344.1" cy="1559.3" r="8"/><circle cx="1330.1" cy="1563.1" r="8"/><circle cx="1347.2" cy="1562.3" r="8"/><circle cx="1340.5" cy="1559.7" r="8"/><circle cx="1334.9" cy="1562.7" r="8"/><circle cx="1339.9" cy="1559.8" r="8"/><circle cx="1324.4" cy="1559.4" r="8"/><circle cx="1326.0" cy="1561.7" r="8"/><circle cx="1345.5" cy="1564.2" r="8"/><circle cx="1342.3" cy="1563.6" r="8"/><circle cx="1338.4" cy="1563.5" r="8"/><circle cx="1336.2" cy="1559.0" r="8"/><circle cx="1333.8" cy="1561.7" r="8"/><circle cx="1340.8" cy="1564.2" r="8"/><circle cx="1337.1" cy="1562.8" r="8"/><circle cx="1325.9" cy="1563.8" r="8"/><circle cx="1345.1" cy="1559.3" r="8"/><circle cx="1343.6" cy="1560.1" r="8"/><circle cx="1328.3" cy="1559.5" r="8"/><circle cx="1341.6" cy="1561.4" r="8"/><circle cx="1345.1" cy="1562.7" r="8"/><circle cx="1329.2" cy="1562.0" r="8"/><circle cx="1332.6" cy="1560.3" r="8"/><circle cx="1323.9" cy="1563.3" r="8"/><circle cx="1337.2" cy="1563.8" r="8"/><circle cx="1325.2" cy="1564.0" r="8"/><circle cx="1344.7" cy="1563.5" r="8"/><circle cx="1330.4" cy="1564.2" r="8"/><circle cx="1331.2" cy="1563.4" r="8"/><circle cx="1329.4" cy="1563.4" r="8"/><circle cx="1336.5" cy="1563.8" r="8"/><circle cx="1337.2" cy="1564.2" r="8"/><circle cx="1338.9" cy="1560.1" r="8"/><circle cx="1328.2" cy="1563.1" r="8"/><circle cx="1343.7" cy="1560.4" r="8"/><circle cx="1330.6" cy="1562.0" r="8"/><circle cx="1337.5" cy="1559.4" r="8"/><circle cx="1330.5" cy="1562.8" r="8"/><circle cx="1335.4" cy="1563.6" r="8"/><circle cx="1327.8" cy="1560.6" r="8"/><circle cx="1331.4" cy="1564.1" r="8"/><circle cx="1347.4" cy="1557.2" r="8"/><circle cx="1344.4" cy="1551.3" r="8"/><circle cx="1341.4" cy="1543.6" r="8"/><circle cx="1328.6" cy="1548.4" r="8"/><circle cx="1328.3" cy="1556.3" r="8"/><circle cx="1324.8" cy="1556.2" r="8"/><circle cx="1334.0" cy="1546.6" r="8"/><circle cx="1335.6" cy="1545.4" r="8"/><circle cx="1340.4" cy="1551.0" r="8"/><circle cx="1345.3" cy="1553.1" r="8"/><circle cx="1328.3" cy="1557.1" r="8"/><circle cx="1345.5" cy="1557.9" r="8"/><circle cx="1336.6" cy="1554.0" r="8"/><circle cx="1333.3" cy="1547.7" r="8"/><circle cx="1331.1" cy="1548.8" r="8"/><circle cx="1332.3" cy="1554.6" r="8"/><circle cx="1337.7" cy="1556.4" r="8"/><circle cx="1326.4" cy="1557.0" r="8"/><circle cx="1452.0" cy="1547.7" r="8"/><circle cx="1452.8" cy="1564.9" r="8"/><circle cx="1531.1" cy="1564.5" r="8"/><circle cx="1654.3" cy="1552.8" r="8"/><circle cx="1658.5" cy="1563.7" r="8"/><circle cx="1657.9" cy="1562.1" r="8"/><circle cx="1660.6" cy="1563.8" r="8"/><circle cx="1661.0" cy="1563.1" r="8"/><circle cx="1644.2" cy="1562.4" r="8"/><circle cx="1644.1" cy="1563.6" r="8"/><circle cx="1661.1" cy="1563.9" r="8"/><circle cx="1656.2" cy="1564.0" r="8"/><circle cx="1643.5" cy="1562.9" r="8"/><circle cx="1653.6" cy="1562.7" r="8"/><circle cx="1644.5" cy="1563.7" r="8"/><circle cx="1653.2" cy="1562.3" r="8"/><circle cx="1651.5" cy="1563.7" r="8"/><circle cx="1651.0" cy="1564.3" r="8"/><circle cx="1656.5" cy="1556.1" r="8"/><circle cx="1654.9" cy="1556.0" r="8"/><circle cx="1648.5" cy="1560.6" r="8"/><circle cx="1660.1" cy="1559.3" r="8"/><circle cx="1650.0" cy="1559.7" r="8"/><circle cx="1647.2" cy="1561.4" r="8"/>
</g>
</g>
<text x="158.2" y="1577.5" font-size="36.67" fill="#4D4D4D" text-anchor="end">0</text>
<text x="158.2" y="1218.8" font-size="36.67" fill="#4D4D4D" text-anchor="end">250</text>
<text x="158.2" y="860.2" font-size="36.67" fill="#4D4D4D" text-anchor="end">500</text>
<text x="158.2" y="501.5" font-size="36.67" fill="#4D4D4D" text-anchor="end">750</text>
<text x="158.2" y="142.8" font-size="36.67" fill="#4D4D4D" text-anchor="end">1000</text>
<text transform="translate(229.4,1655.4) rotate(-90)" font-size="36.67" fill="#4D4D4D" text-anchor="end">Astrocyte</text>
<text transform="translate(291.6,1655.4) rotate(-90)" font-size="36.67" fill="#4D4D4D" text-anchor="end">B_cell</text>
<text transform="translate(353.8,1655.4) rotate(-90)" font-size="36.67" fill="#4D4D4D" text-anchor="end">BM</text>
<text transform="translate(416.0,1655.4) rotate(-90)" font-size="36.67" fill="#4D4D4D" text-anchor="end">Chondrocytes</text>
<text transform="translate(478.2,1655.4) rotate(-90)" font-size="36.67" fill="#4D4D4D" text-anchor="end">CMP</text>
<text transform="translate(540.3,1655.4) rotate(-90)" font-size="36.67" fill="#4D4D4D" text-anchor="end">DC</text>
<text transform="translate(602.5,1655.4) rotate(-90)" font-size="36.67" fill="#4D4D4D" text-anchor="end">Embryonic_stem_cells</text>
<text transform="translate(664.7,1655.4) rotate(-90)" font-size="36.67" fill="#4D4D4D" text-anchor="end">Endothelial_cells</text>
<text transform="translate(726.9,1655.4) rotate(-90)" font-size="36.67" fill="#4D4D4D" text-anchor="end">Epithelial_cells</text>
<text transform="translate(789.1,1655.4) rotate(-90)" font-size="36.67" fill="#4D4D4D" text-anchor="end">Erythroblast</text>
<text transform="translate(851.3,1655.4) rotate(-90)" font-size="36.67" fill="#4D4D4D" text-anchor="end">Fibroblasts</text>
<text transform="translate(913.5,1655.4) rotate(-90)" font-size="36.67" fill="#4D4D4D" text-anchor="end">Gametocytes</text>
<text transform="translate(975.7,1655.4) rotate(-90)" font-size="36.67" fill="#4D4D4D" text-anchor="end">Hepatocytes</text>
<text transform="translate(1037.9,1655.4) rotate(-90)" font-size="36.67" fill="#4D4D4D" text-anchor="end">HSC_CD34+</text>
<text transform="translate(1100.1,1655.4) rotate(-90)" font-size="36.67" fill="#4D4D4D" text-anchor="end">Keratinocytes</text>
<text transform="translate(1162.2,1655.4) rotate(-90)" font-size="36.67" fill="#4D4D4D" text-anchor="end">Macrophage</text>
<text transform="translate(1224.4,1655.4) rotate(-90)" font-size="36.67" fill="#4D4D4D" text-anchor="end">MSC</text>
<text transform="translate(1286.6,1655.4) rotate(-90)" font-size="36.67" fill="#4D4D4D" text-anchor="end">Neuroepithelial_cell</text>
<text transform="translate(1348.8,1655.4) rotate(-90)" font-size="36.67" fill="#4D4D4D" text-anchor="end">Neurons</text>
<text transform="translate(1411.0,1655.4) rotate(-90)" font-size="36.67" fill="#4D4D4D" text-anchor="end">Neutrophils</text>
<text transform="translate(1473.2,1655.4) rotate(-90)" font-size="36.67" fill="#4D4D4D" text-anchor="end">Osteoblasts</text>
<text transform="translate(1535.4,1655.4) rotate(-90)" font-size="36.67" fill="#4D4D4D" text-anchor="end">Platelets</text>
<text transform="translate(1597.6,1655.4) rotate(-90)" font-size="36.67" fill="#4D4D4D" text-anchor="end">Pro-B_cell_CD34+</text>
<text transform="translate(1659.8,1655.4) rotate(-90)" font-size="36.67" fill="#4D4D4D" text-anchor="end">Smooth_muscle_cells</text>
<text x="179.2" y="62.9" font-size="55" fill="#000">Split0 21. Myocytes II_1</text>
<text x="931.7" y="2065.9" font-size="45.83" fill="#000" text-anchor="middle">SingleR Annotation</text>
<text transform="translate(56.0,865.3) rotate(-90)" font-size="45.83" fill="#000" text-anchor="middle">Activity Score</text>
<text x="1753.1" y="762.7" font-size="45.83" fill="#000">SampleNames</text>
<rect x="1753.1" y="791.1" width="71.7" height="215.8" fill="#F2F2F2"/>
<circle cx="1788.9" cy="827.0" r="8" stroke-width="3" fill="#F8766D" stroke="#F8766D" fill-opacity="0.5" stroke-opacity="0.5"/>
<text x="1848.1" y="839.7" font-size="36.67" fill="#000">X70</text>
<circle cx="1788.9" cy="899.0" r="8" stroke-width="3" fill="#00BA38" stroke="#00BA38" fill-opacity="0.5" stroke-opacity="0.5"/>
<text x="1848.1" y="911.7" font-size="36.67" fill="#000">X71</text>
<circle cx="1788.9" cy="971.0" r="8" stroke-width="3" fill="#619CFF" stroke="#619CFF" fill-opacity="0.5" stroke-opacity="0.5"/>
<text x="1848.1" y="983.7" font-size="36.67" fill="#000">X72</text>
</svg></body></html>
